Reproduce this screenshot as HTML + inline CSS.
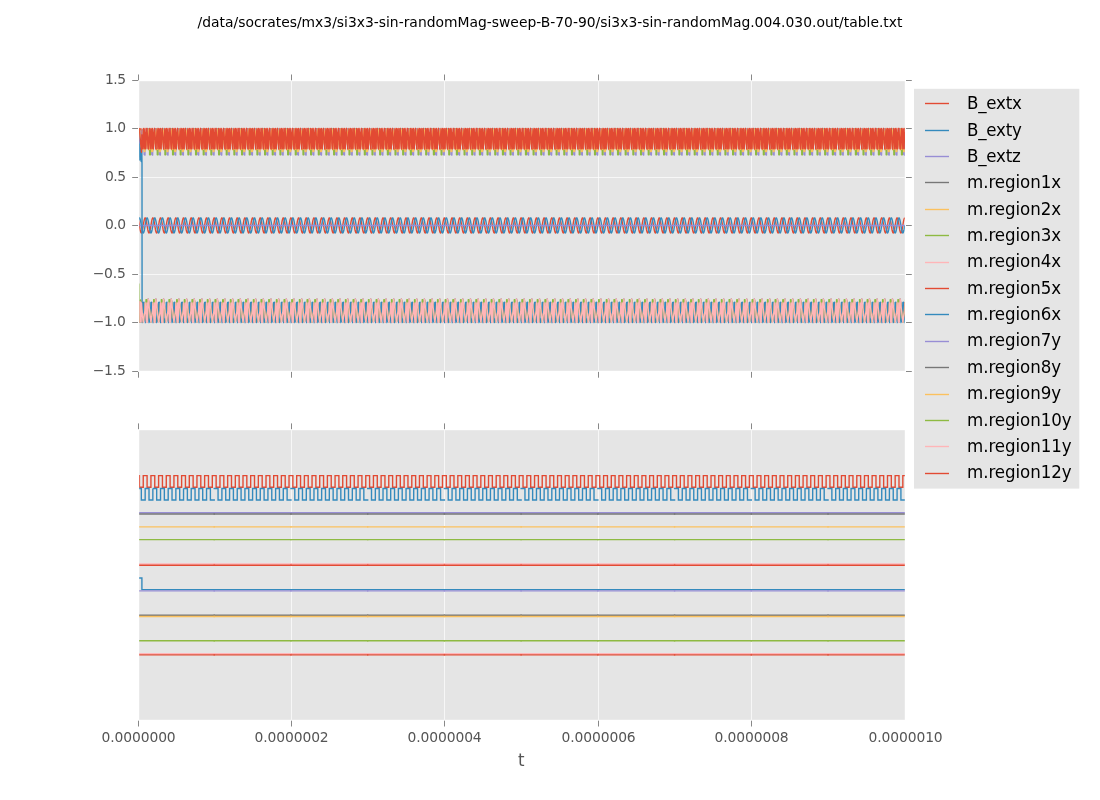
<!DOCTYPE html>
<html lang="en"><head><meta charset="utf-8"><title>table.txt plot</title>
<style>html,body{margin:0;padding:0;background:#fff;overflow:hidden}svg{display:block}</style></head>
<body>
<svg width="1100" height="800" viewBox="0 0 1100 800">
<defs><clipPath id="c1"><rect x="139.2" y="81.2" width="765.6" height="289.6"/></clipPath><clipPath id="c2"><rect x="139.2" y="430.2" width="765.6" height="289.6"/></clipPath></defs>
<rect width="1100" height="800" fill="#fff"/>
<rect x="139.2" y="81.2" width="765.6" height="289.6" fill="#E5E5E5"/>
<rect x="139.2" y="430.2" width="765.6" height="289.6" fill="#E5E5E5"/>
<path d="M291.5 81.2V370.8M291.5 430.2V719.8M444.5 81.2V370.8M444.5 430.2V719.8M598.5 81.2V370.8M598.5 430.2V719.8M751.5 81.2V370.8M751.5 430.2V719.8M139.2 128.5H904.8M139.2 177.5H904.8M139.2 225.5H904.8M139.2 274.5H904.8M139.2 322.5H904.8" stroke="#fff" stroke-width="0.7" fill="none"/>
<g clip-path="url(#c1)" fill="none" stroke-width="1.39" stroke-linejoin="round">
<path d="M137.5 217.89L137.82 218.15L138.14 218.9L138.46 220.11L138.78 221.67L139.1 223.5L139.42 225.46L139.74 227.41L140.06 229.24L140.38 230.8L140.7 232.01L141.02 232.76L141.34 233.02L141.66 232.76L141.98 232.01L142.3 230.8L142.62 229.24L142.93 227.41L143.25 225.46L143.57 223.5L143.89 221.67L144.21 220.11L144.53 218.9L144.85 218.15L145.17 217.89L145.49 218.15L145.81 218.9L146.13 220.11L146.45 221.67L146.77 223.5L147.09 225.46L147.41 227.41L147.73 229.24L148.05 230.8L148.37 232.01L148.69 232.76L149.01 233.02L149.33 232.76L149.65 232.01L149.97 230.8L150.29 229.24L150.61 227.41L150.93 225.46L151.25 223.5L151.57 221.67L151.89 220.11L152.21 218.9L152.53 218.15L152.84 217.89L153.16 218.15L153.48 218.9L153.8 220.11L154.12 221.67L154.44 223.5L154.76 225.46L155.08 227.41L155.4 229.24L155.72 230.8L156.04 232.01L156.36 232.76L156.68 233.02L157 232.76L157.32 232.01L157.64 230.8L157.96 229.24L158.28 227.41L158.6 225.46L158.92 223.5L159.24 221.67L159.56 220.11L159.88 218.9L160.2 218.15L160.52 217.89L160.84 218.15L161.16 218.9L161.48 220.11L161.8 221.67L162.12 223.5L162.44 225.45L162.76 227.41L163.07 229.24L163.39 230.8L163.71 232.01L164.03 232.76L164.35 233.02L164.67 232.76L164.99 232.01L165.31 230.8L165.63 229.24L165.95 227.41L166.27 225.46L166.59 223.5L166.91 221.67L167.23 220.11L167.55 218.9L167.87 218.15L168.19 217.89L168.51 218.15L168.83 218.9L169.15 220.11L169.47 221.67L169.79 223.5L170.11 225.45L170.43 227.41L170.75 229.24L171.07 230.8L171.39 232.01L171.71 232.76L172.03 233.02L172.35 232.76L172.67 232.01L172.99 230.8L173.31 229.24L173.62 227.41L173.94 225.46L174.26 223.5L174.58 221.67L174.9 220.11L175.22 218.9L175.54 218.15L175.86 217.89L176.18 218.15L176.5 218.9L176.82 220.11L177.14 221.67L177.46 223.5L177.78 225.46L178.1 227.41L178.42 229.24L178.74 230.8L179.06 232.01L179.38 232.76L179.7 233.02L180.02 232.76L180.34 232.01L180.66 230.8L180.98 229.24L181.3 227.41L181.62 225.46L181.94 223.5L182.26 221.67L182.58 220.11L182.9 218.9L183.22 218.15L183.53 217.89L183.85 218.15L184.17 218.9L184.49 220.11L184.81 221.67L185.13 223.5L185.45 225.46L185.77 227.41L186.09 229.24L186.41 230.8L186.73 232.01L187.05 232.76L187.37 233.02L187.69 232.76L188.01 232.01L188.33 230.8L188.65 229.24L188.97 227.41L189.29 225.46L189.61 223.5L189.93 221.67L190.25 220.11L190.57 218.9L190.89 218.15L191.21 217.89L191.53 218.15L191.85 218.9L192.17 220.11L192.49 221.67L192.81 223.5L193.13 225.45L193.45 227.41L193.76 229.24L194.08 230.8L194.4 232.01L194.72 232.76L195.04 233.02L195.36 232.76L195.68 232.01L196 230.8L196.32 229.24L196.64 227.41L196.96 225.46L197.28 223.5L197.6 221.67L197.92 220.11L198.24 218.9L198.56 218.15L198.88 217.89L199.2 218.15L199.52 218.9L199.84 220.11L200.16 221.67L200.48 223.5L200.8 225.46L201.12 227.41L201.44 229.24L201.76 230.8L202.08 232.01L202.4 232.76L202.72 233.02L203.04 232.76L203.36 232.01L203.68 230.8L204 229.24L204.31 227.41L204.63 225.45L204.95 223.5L205.27 221.67L205.59 220.11L205.91 218.9L206.23 218.15L206.55 217.89L206.87 218.15L207.19 218.9L207.51 220.11L207.83 221.67L208.15 223.5L208.47 225.46L208.79 227.41L209.11 229.24L209.43 230.8L209.75 232.01L210.07 232.76L210.39 233.02L210.71 232.76L211.03 232.01L211.35 230.8L211.67 229.24L211.99 227.41L212.31 225.46L212.63 223.5L212.95 221.67L213.27 220.11L213.59 218.9L213.91 218.15L214.22 217.89L214.54 218.15L214.86 218.9L215.18 220.11L215.5 221.67L215.82 223.5L216.14 225.45L216.46 227.41L216.78 229.24L217.1 230.8L217.42 232.01L217.74 232.76L218.06 233.02L218.38 232.76L218.7 232.01L219.02 230.8L219.34 229.24L219.66 227.41L219.98 225.46L220.3 223.5L220.62 221.67L220.94 220.11L221.26 218.9L221.58 218.15L221.9 217.89L222.22 218.15L222.54 218.9L222.86 220.11L223.18 221.67L223.5 223.5L223.82 225.46L224.14 227.41L224.45 229.24L224.77 230.8L225.09 232.01L225.41 232.76L225.73 233.02L226.05 232.76L226.37 232.01L226.69 230.8L227.01 229.24L227.33 227.41L227.65 225.46L227.97 223.5L228.29 221.67L228.61 220.11L228.93 218.9L229.25 218.15L229.57 217.89L229.89 218.15L230.21 218.9L230.53 220.11L230.85 221.67L231.17 223.5L231.49 225.46L231.81 227.41L232.13 229.24L232.45 230.8L232.77 232.01L233.09 232.76L233.41 233.02L233.73 232.76L234.05 232.01L234.37 230.8L234.69 229.24L235 227.41L235.32 225.46L235.64 223.5L235.96 221.67L236.28 220.11L236.6 218.9L236.92 218.15L237.24 217.89L237.56 218.15L237.88 218.9L238.2 220.11L238.52 221.67L238.84 223.5L239.16 225.45L239.48 227.41L239.8 229.24L240.12 230.8L240.44 232.01L240.76 232.76L241.08 233.02L241.4 232.76L241.72 232.01L242.04 230.8L242.36 229.24L242.68 227.41L243 225.46L243.32 223.5L243.64 221.67L243.96 220.11L244.28 218.9L244.6 218.15L244.92 217.89L245.23 218.15L245.55 218.9L245.87 220.11L246.19 221.67L246.51 223.5L246.83 225.45L247.15 227.41L247.47 229.24L247.79 230.8L248.11 232.01L248.43 232.76L248.75 233.02L249.07 232.76L249.39 232.01L249.71 230.8L250.03 229.24L250.35 227.41L250.67 225.45L250.99 223.5L251.31 221.67L251.63 220.11L251.95 218.9L252.27 218.15L252.59 217.89L252.91 218.15L253.23 218.9L253.55 220.11L253.87 221.67L254.19 223.5L254.51 225.45L254.83 227.41L255.14 229.24L255.46 230.8L255.78 232.01L256.1 232.76L256.42 233.02L256.74 232.76L257.06 232.01L257.38 230.8L257.7 229.24L258.02 227.41L258.34 225.45L258.66 223.5L258.98 221.67L259.3 220.11L259.62 218.9L259.94 218.15L260.26 217.89L260.58 218.15L260.9 218.9L261.22 220.11L261.54 221.67L261.86 223.5L262.18 225.45L262.5 227.41L262.82 229.24L263.14 230.8L263.46 232.01L263.78 232.76L264.1 233.02L264.42 232.76L264.74 232.01L265.06 230.8L265.38 229.24L265.69 227.41L266.01 225.46L266.33 223.5L266.65 221.67L266.97 220.11L267.29 218.9L267.61 218.15L267.93 217.89L268.25 218.15L268.57 218.9L268.89 220.11L269.21 221.67L269.53 223.5L269.85 225.45L270.17 227.41L270.49 229.24L270.81 230.8L271.13 232.01L271.45 232.76L271.77 233.02L272.09 232.76L272.41 232.01L272.73 230.8L273.05 229.24L273.37 227.41L273.69 225.46L274.01 223.5L274.33 221.67L274.65 220.11L274.97 218.9L275.29 218.15L275.61 217.89L275.92 218.15L276.24 218.9L276.56 220.11L276.88 221.67L277.2 223.5L277.52 225.46L277.84 227.41L278.16 229.24L278.48 230.8L278.8 232.01L279.12 232.76L279.44 233.02L279.76 232.76L280.08 232.01L280.4 230.8L280.72 229.24L281.04 227.41L281.36 225.46L281.68 223.5L282 221.67L282.32 220.11L282.64 218.9L282.96 218.15L283.28 217.89L283.6 218.15L283.92 218.9L284.24 220.11L284.56 221.67L284.88 223.5L285.2 225.45L285.52 227.41L285.84 229.24L286.15 230.8L286.47 232.01L286.79 232.76L287.11 233.02L287.43 232.76L287.75 232.01L288.07 230.8L288.39 229.24L288.71 227.41L289.03 225.46L289.35 223.5L289.67 221.67L289.99 220.11L290.31 218.9L290.63 218.15L290.95 217.89L291.27 218.15L291.59 218.9L291.91 220.11L292.23 221.67L292.55 223.5L292.87 225.46L293.19 227.41L293.51 229.24L293.83 230.8L294.15 232.01L294.47 232.76L294.79 233.02L295.11 232.76L295.43 232.01L295.75 230.8L296.06 229.24L296.38 227.41L296.7 225.46L297.02 223.5L297.34 221.67L297.66 220.11L297.98 218.9L298.3 218.15L298.62 217.89L298.94 218.15L299.26 218.9L299.58 220.11L299.9 221.67L300.22 223.5L300.54 225.45L300.86 227.41L301.18 229.24L301.5 230.8L301.82 232.01L302.14 232.76L302.46 233.02L302.78 232.76L303.1 232.01L303.42 230.8L303.74 229.24L304.06 227.41L304.38 225.46L304.7 223.5L305.02 221.67L305.34 220.11L305.66 218.9L305.98 218.15L306.29 217.89L306.61 218.15L306.93 218.9L307.25 220.11L307.57 221.67L307.89 223.5L308.21 225.46L308.53 227.41L308.85 229.24L309.17 230.8L309.49 232.01L309.81 232.76L310.13 233.02L310.45 232.76L310.77 232.01L311.09 230.8L311.41 229.24L311.73 227.41L312.05 225.46L312.37 223.5L312.69 221.67L313.01 220.11L313.33 218.9L313.65 218.15L313.97 217.89L314.29 218.15L314.61 218.9L314.93 220.11L315.25 221.67L315.57 223.5L315.89 225.45L316.21 227.41L316.52 229.24L316.84 230.8L317.16 232.01L317.48 232.76L317.8 233.02L318.12 232.76L318.44 232.01L318.76 230.8L319.08 229.24L319.4 227.41L319.72 225.46L320.04 223.5L320.36 221.67L320.68 220.11L321 218.9L321.32 218.15L321.64 217.89L321.96 218.15L322.28 218.9L322.6 220.11L322.92 221.67L323.24 223.5L323.56 225.45L323.88 227.41L324.2 229.24L324.52 230.8L324.84 232.01L325.16 232.76L325.48 233.02L325.8 232.76L326.12 232.01L326.44 230.8L326.75 229.24L327.07 227.41L327.39 225.45L327.71 223.5L328.03 221.67L328.35 220.11L328.67 218.9L328.99 218.15L329.31 217.89L329.63 218.15L329.95 218.9L330.27 220.11L330.59 221.67L330.91 223.5L331.23 225.45L331.55 227.41L331.87 229.24L332.19 230.8L332.51 232.01L332.83 232.76L333.15 233.02L333.47 232.76L333.79 232.01L334.11 230.8L334.43 229.24L334.75 227.41L335.07 225.46L335.39 223.5L335.71 221.67L336.03 220.11L336.35 218.9L336.67 218.15L336.99 217.89L337.3 218.15L337.62 218.9L337.94 220.11L338.26 221.67L338.58 223.5L338.9 225.46L339.22 227.41L339.54 229.24L339.86 230.8L340.18 232.01L340.5 232.76L340.82 233.02L341.14 232.76L341.46 232.01L341.78 230.8L342.1 229.24L342.42 227.41L342.74 225.46L343.06 223.5L343.38 221.67L343.7 220.11L344.02 218.9L344.34 218.15L344.66 217.89L344.98 218.15L345.3 218.9L345.62 220.11L345.94 221.67L346.26 223.5L346.58 225.46L346.9 227.41L347.22 229.24L347.53 230.8L347.85 232.01L348.17 232.76L348.49 233.02L348.81 232.76L349.13 232.01L349.45 230.8L349.77 229.24L350.09 227.41L350.41 225.46L350.73 223.5L351.05 221.67L351.37 220.11L351.69 218.9L352.01 218.15L352.33 217.89L352.65 218.15L352.97 218.9L353.29 220.11L353.61 221.67L353.93 223.5L354.25 225.45L354.57 227.41L354.89 229.24L355.21 230.8L355.53 232.01L355.85 232.76L356.17 233.02L356.49 232.76L356.81 232.01L357.13 230.8L357.44 229.24L357.76 227.41L358.08 225.45L358.4 223.5L358.72 221.67L359.04 220.11L359.36 218.9L359.68 218.15L360 217.89L360.32 218.15L360.64 218.9L360.96 220.11L361.28 221.67L361.6 223.5L361.92 225.45L362.24 227.41L362.56 229.24L362.88 230.8L363.2 232.01L363.52 232.76L363.84 233.02L364.16 232.76L364.48 232.01L364.8 230.8L365.12 229.24L365.44 227.41L365.76 225.46L366.08 223.5L366.4 221.67L366.72 220.11L367.04 218.9L367.36 218.15L367.68 217.89L367.99 218.15L368.31 218.9L368.63 220.11L368.95 221.67L369.27 223.5L369.59 225.46L369.91 227.41L370.23 229.24L370.55 230.8L370.87 232.01L371.19 232.76L371.51 233.02L371.83 232.76L372.15 232.01L372.47 230.8L372.79 229.24L373.11 227.41L373.43 225.46L373.75 223.5L374.07 221.67L374.39 220.11L374.71 218.9L375.03 218.15L375.35 217.89L375.67 218.15L375.99 218.9L376.31 220.11L376.63 221.67L376.95 223.5L377.27 225.45L377.59 227.41L377.9 229.24L378.22 230.8L378.54 232.01L378.86 232.76L379.18 233.02L379.5 232.76L379.82 232.01L380.14 230.8L380.46 229.24L380.78 227.41L381.1 225.46L381.42 223.5L381.74 221.67L382.06 220.11L382.38 218.9L382.7 218.15L383.02 217.89L383.34 218.15L383.66 218.9L383.98 220.11L384.3 221.67L384.62 223.5L384.94 225.46L385.26 227.41L385.58 229.24L385.9 230.8L386.22 232.01L386.54 232.76L386.86 233.02L387.18 232.76L387.5 232.01L387.82 230.8L388.13 229.24L388.45 227.41L388.77 225.45L389.09 223.5L389.41 221.67L389.73 220.11L390.05 218.9L390.37 218.15L390.69 217.89L391.01 218.15L391.33 218.9L391.65 220.11L391.97 221.67L392.29 223.5L392.61 225.45L392.93 227.41L393.25 229.24L393.57 230.8L393.89 232.01L394.21 232.76L394.53 233.02L394.85 232.76L395.17 232.01L395.49 230.8L395.81 229.24L396.13 227.41L396.45 225.46L396.77 223.5L397.09 221.67L397.41 220.11L397.73 218.9L398.05 218.15L398.37 217.89L398.68 218.15L399 218.9L399.32 220.11L399.64 221.67L399.96 223.5L400.28 225.46L400.6 227.41L400.92 229.24L401.24 230.8L401.56 232.01L401.88 232.76L402.2 233.02L402.52 232.76L402.84 232.01L403.16 230.8L403.48 229.24L403.8 227.41L404.12 225.46L404.44 223.5L404.76 221.67L405.08 220.11L405.4 218.9L405.72 218.15L406.04 217.89L406.36 218.15L406.68 218.9L407 220.11L407.32 221.67L407.64 223.5L407.96 225.45L408.28 227.41L408.6 229.24L408.91 230.8L409.23 232.01L409.55 232.76L409.87 233.02L410.19 232.76L410.51 232.01L410.83 230.8L411.15 229.24L411.47 227.41L411.79 225.46L412.11 223.5L412.43 221.67L412.75 220.11L413.07 218.9L413.39 218.15L413.71 217.89L414.03 218.15L414.35 218.9L414.67 220.11L414.99 221.67L415.31 223.5L415.63 225.45L415.95 227.41L416.27 229.24L416.59 230.8L416.91 232.01L417.23 232.76L417.55 233.02L417.87 232.76L418.19 232.01L418.51 230.8L418.82 229.24L419.14 227.41L419.46 225.46L419.78 223.5L420.1 221.67L420.42 220.11L420.74 218.9L421.06 218.15L421.38 217.89L421.7 218.15L422.02 218.9L422.34 220.11L422.66 221.67L422.98 223.5L423.3 225.45L423.62 227.41L423.94 229.24L424.26 230.8L424.58 232.01L424.9 232.76L425.22 233.02L425.54 232.76L425.86 232.01L426.18 230.8L426.5 229.24L426.82 227.41L427.14 225.45L427.46 223.5L427.78 221.67L428.1 220.11L428.42 218.9L428.74 218.15L429.06 217.89L429.37 218.15L429.69 218.9L430.01 220.11L430.33 221.67L430.65 223.5L430.97 225.46L431.29 227.41L431.61 229.24L431.93 230.8L432.25 232.01L432.57 232.76L432.89 233.02L433.21 232.76L433.53 232.01L433.85 230.8L434.17 229.24L434.49 227.41L434.81 225.46L435.13 223.5L435.45 221.67L435.77 220.11L436.09 218.9L436.41 218.15L436.73 217.89L437.05 218.15L437.37 218.9L437.69 220.11L438.01 221.67L438.33 223.5L438.65 225.46L438.97 227.41L439.29 229.24L439.6 230.8L439.92 232.01L440.24 232.76L440.56 233.02L440.88 232.76L441.2 232.01L441.52 230.8L441.84 229.24L442.16 227.41L442.48 225.46L442.8 223.5L443.12 221.67L443.44 220.11L443.76 218.9L444.08 218.15L444.4 217.89L444.72 218.15L445.04 218.9L445.36 220.11L445.68 221.67L446 223.5L446.32 225.45L446.64 227.41L446.96 229.24L447.28 230.8L447.6 232.01L447.92 232.76L448.24 233.02L448.56 232.76L448.88 232.01L449.2 230.8L449.51 229.24L449.83 227.41L450.15 225.46L450.47 223.5L450.79 221.67L451.11 220.11L451.43 218.9L451.75 218.15L452.07 217.89L452.39 218.15L452.71 218.9L453.03 220.11L453.35 221.67L453.67 223.5L453.99 225.46L454.31 227.41L454.63 229.24L454.95 230.8L455.27 232.01L455.59 232.76L455.91 233.02L456.23 232.76L456.55 232.01L456.87 230.8L457.19 229.24L457.51 227.41L457.83 225.45L458.15 223.5L458.47 221.67L458.79 220.11L459.11 218.9L459.43 218.15L459.75 217.89L460.06 218.15L460.38 218.9L460.7 220.11L461.02 221.67L461.34 223.5L461.66 225.45L461.98 227.41L462.3 229.24L462.62 230.8L462.94 232.01L463.26 232.76L463.58 233.02L463.9 232.76L464.22 232.01L464.54 230.8L464.86 229.24L465.18 227.41L465.5 225.46L465.82 223.5L466.14 221.67L466.46 220.11L466.78 218.9L467.1 218.15L467.42 217.89L467.74 218.15L468.06 218.9L468.38 220.11L468.7 221.67L469.02 223.5L469.34 225.45L469.66 227.41L469.98 229.24L470.29 230.8L470.61 232.01L470.93 232.76L471.25 233.02L471.57 232.76L471.89 232.01L472.21 230.8L472.53 229.24L472.85 227.41L473.17 225.46L473.49 223.5L473.81 221.67L474.13 220.11L474.45 218.9L474.77 218.15L475.09 217.89L475.41 218.15L475.73 218.9L476.05 220.11L476.37 221.67L476.69 223.5L477.01 225.45L477.33 227.41L477.65 229.24L477.97 230.8L478.29 232.01L478.61 232.76L478.93 233.02L479.25 232.76L479.57 232.01L479.89 230.8L480.2 229.24L480.52 227.41L480.84 225.45L481.16 223.5L481.48 221.67L481.8 220.11L482.12 218.9L482.44 218.15L482.76 217.89L483.08 218.15L483.4 218.9L483.72 220.11L484.04 221.67L484.36 223.5L484.68 225.45L485 227.41L485.32 229.24L485.64 230.8L485.96 232.01L486.28 232.76L486.6 233.02L486.92 232.76L487.24 232.01L487.56 230.8L487.88 229.24L488.2 227.41L488.52 225.46L488.84 223.5L489.16 221.67L489.48 220.11L489.8 218.9L490.12 218.15L490.44 217.89L490.75 218.15L491.07 218.9L491.39 220.11L491.71 221.67L492.03 223.5L492.35 225.46L492.67 227.41L492.99 229.24L493.31 230.8L493.63 232.01L493.95 232.76L494.27 233.02L494.59 232.76L494.91 232.01L495.23 230.8L495.55 229.24L495.87 227.41L496.19 225.45L496.51 223.5L496.83 221.67L497.15 220.11L497.47 218.9L497.79 218.15L498.11 217.89L498.43 218.15L498.75 218.9L499.07 220.11L499.39 221.67L499.71 223.5L500.03 225.46L500.35 227.41L500.67 229.24L500.98 230.8L501.3 232.01L501.62 232.76L501.94 233.02L502.26 232.76L502.58 232.01L502.9 230.8L503.22 229.24L503.54 227.41L503.86 225.46L504.18 223.5L504.5 221.67L504.82 220.11L505.14 218.9L505.46 218.15L505.78 217.89L506.1 218.15L506.42 218.9L506.74 220.11L507.06 221.67L507.38 223.5L507.7 225.45L508.02 227.41L508.34 229.24L508.66 230.8L508.98 232.01L509.3 232.76L509.62 233.02L509.94 232.76L510.26 232.01L510.58 230.8L510.89 229.24L511.21 227.41L511.53 225.46L511.85 223.5L512.17 221.67L512.49 220.11L512.81 218.9L513.13 218.15L513.45 217.89L513.77 218.15L514.09 218.9L514.41 220.11L514.73 221.67L515.05 223.5L515.37 225.45L515.69 227.41L516.01 229.24L516.33 230.8L516.65 232.01L516.97 232.76L517.29 233.02L517.61 232.76L517.93 232.01L518.25 230.8L518.57 229.24L518.89 227.41L519.21 225.46L519.53 223.5L519.85 221.67L520.17 220.11L520.49 218.9L520.81 218.15L521.12 217.89L521.44 218.15L521.76 218.9L522.08 220.11L522.4 221.67L522.72 223.5L523.04 225.45L523.36 227.41L523.68 229.24L524 230.8L524.32 232.01L524.64 232.76L524.96 233.02L525.28 232.76L525.6 232.01L525.92 230.8L526.24 229.24L526.56 227.41L526.88 225.46L527.2 223.5L527.52 221.67L527.84 220.11L528.16 218.9L528.48 218.15L528.8 217.89L529.12 218.15L529.44 218.9L529.76 220.11L530.08 221.67L530.4 223.5L530.72 225.45L531.04 227.41L531.36 229.24L531.67 230.8L531.99 232.01L532.31 232.76L532.63 233.02L532.95 232.76L533.27 232.01L533.59 230.8L533.91 229.24L534.23 227.41L534.55 225.45L534.87 223.5L535.19 221.67L535.51 220.11L535.83 218.9L536.15 218.15L536.47 217.89L536.79 218.15L537.11 218.9L537.43 220.11L537.75 221.67L538.07 223.5L538.39 225.46L538.71 227.41L539.03 229.24L539.35 230.8L539.67 232.01L539.99 232.76L540.31 233.02L540.63 232.76L540.95 232.01L541.27 230.8L541.59 229.24L541.9 227.41L542.22 225.46L542.54 223.5L542.86 221.67L543.18 220.11L543.5 218.9L543.82 218.15L544.14 217.89L544.46 218.15L544.78 218.9L545.1 220.11L545.42 221.67L545.74 223.5L546.06 225.45L546.38 227.41L546.7 229.24L547.02 230.8L547.34 232.01L547.66 232.76L547.98 233.02L548.3 232.76L548.62 232.01L548.94 230.8L549.26 229.24L549.58 227.41L549.9 225.46L550.22 223.5L550.54 221.67L550.86 220.11L551.18 218.9L551.5 218.15L551.82 217.89L552.13 218.15L552.45 218.9L552.77 220.11L553.09 221.67L553.41 223.5L553.73 225.45L554.05 227.41L554.37 229.24L554.69 230.8L555.01 232.01L555.33 232.76L555.65 233.02L555.97 232.76L556.29 232.01L556.61 230.8L556.93 229.24L557.25 227.41L557.57 225.45L557.89 223.5L558.21 221.67L558.53 220.11L558.85 218.9L559.17 218.15L559.49 217.89L559.81 218.15L560.13 218.9L560.45 220.11L560.77 221.67L561.09 223.5L561.41 225.45L561.73 227.41L562.05 229.24L562.36 230.8L562.68 232.01L563 232.76L563.32 233.02L563.64 232.76L563.96 232.01L564.28 230.8L564.6 229.24L564.92 227.41L565.24 225.46L565.56 223.5L565.88 221.67L566.2 220.11L566.52 218.9L566.84 218.15L567.16 217.89L567.48 218.15L567.8 218.9L568.12 220.11L568.44 221.67L568.76 223.5L569.08 225.46L569.4 227.41L569.72 229.24L570.04 230.8L570.36 232.01L570.68 232.76L571 233.02L571.32 232.76L571.64 232.01L571.96 230.8L572.27 229.24L572.59 227.41L572.91 225.46L573.23 223.5L573.55 221.67L573.87 220.11L574.19 218.9L574.51 218.15L574.83 217.89L575.15 218.15L575.47 218.9L575.79 220.11L576.11 221.67L576.43 223.5L576.75 225.46L577.07 227.41L577.39 229.24L577.71 230.8L578.03 232.01L578.35 232.76L578.67 233.02L578.99 232.76L579.31 232.01L579.63 230.8L579.95 229.24L580.27 227.41L580.59 225.46L580.91 223.5L581.23 221.67L581.55 220.11L581.87 218.9L582.19 218.15L582.5 217.89L582.82 218.15L583.14 218.9L583.46 220.11L583.78 221.67L584.1 223.5L584.42 225.45L584.74 227.41L585.06 229.24L585.38 230.8L585.7 232.01L586.02 232.76L586.34 233.02L586.66 232.76L586.98 232.01L587.3 230.8L587.62 229.24L587.94 227.41L588.26 225.46L588.58 223.5L588.9 221.67L589.22 220.11L589.54 218.9L589.86 218.15L590.18 217.89L590.5 218.15L590.82 218.9L591.14 220.11L591.46 221.67L591.78 223.5L592.1 225.45L592.42 227.41L592.74 229.24L593.05 230.8L593.37 232.01L593.69 232.76L594.01 233.02L594.33 232.76L594.65 232.01L594.97 230.8L595.29 229.24L595.61 227.41L595.93 225.46L596.25 223.5L596.57 221.67L596.89 220.11L597.21 218.9L597.53 218.15L597.85 217.89L598.17 218.15L598.49 218.9L598.81 220.11L599.13 221.67L599.45 223.5L599.77 225.46L600.09 227.41L600.41 229.24L600.73 230.8L601.05 232.01L601.37 232.76L601.69 233.02L602.01 232.76L602.33 232.01L602.65 230.8L602.96 229.24L603.28 227.41L603.6 225.46L603.92 223.5L604.24 221.67L604.56 220.11L604.88 218.9L605.2 218.15L605.52 217.89L605.84 218.15L606.16 218.9L606.48 220.11L606.8 221.67L607.12 223.5L607.44 225.45L607.76 227.41L608.08 229.24L608.4 230.8L608.72 232.01L609.04 232.76L609.36 233.02L609.68 232.76L610 232.01L610.32 230.8L610.64 229.24L610.96 227.41L611.28 225.45L611.6 223.5L611.92 221.67L612.24 220.11L612.56 218.9L612.88 218.15L613.19 217.89L613.51 218.15L613.83 218.9L614.15 220.11L614.47 221.67L614.79 223.5L615.11 225.45L615.43 227.41L615.75 229.24L616.07 230.8L616.39 232.01L616.71 232.76L617.03 233.02L617.35 232.76L617.67 232.01L617.99 230.8L618.31 229.24L618.63 227.41L618.95 225.45L619.27 223.5L619.59 221.67L619.91 220.11L620.23 218.9L620.55 218.15L620.87 217.89L621.19 218.15L621.51 218.9L621.83 220.11L622.15 221.67L622.47 223.5L622.79 225.46L623.11 227.41L623.42 229.24L623.74 230.8L624.06 232.01L624.38 232.76L624.7 233.02L625.02 232.76L625.34 232.01L625.66 230.8L625.98 229.24L626.3 227.41L626.62 225.46L626.94 223.5L627.26 221.67L627.58 220.11L627.9 218.9L628.22 218.15L628.54 217.89L628.86 218.15L629.18 218.9L629.5 220.11L629.82 221.67L630.14 223.5L630.46 225.45L630.78 227.41L631.1 229.24L631.42 230.8L631.74 232.01L632.06 232.76L632.38 233.02L632.7 232.76L633.02 232.01L633.34 230.8L633.65 229.24L633.97 227.41L634.29 225.46L634.61 223.5L634.93 221.67L635.25 220.11L635.57 218.9L635.89 218.15L636.21 217.89L636.53 218.15L636.85 218.9L637.17 220.11L637.49 221.67L637.81 223.5L638.13 225.45L638.45 227.41L638.77 229.24L639.09 230.8L639.41 232.01L639.73 232.76L640.05 233.02L640.37 232.76L640.69 232.01L641.01 230.8L641.33 229.24L641.65 227.41L641.97 225.45L642.29 223.5L642.61 221.67L642.93 220.11L643.25 218.9L643.57 218.15L643.88 217.89L644.2 218.15L644.52 218.9L644.84 220.11L645.16 221.67L645.48 223.5L645.8 225.45L646.12 227.41L646.44 229.24L646.76 230.8L647.08 232.01L647.4 232.76L647.72 233.02L648.04 232.76L648.36 232.01L648.68 230.8L649 229.24L649.32 227.41L649.64 225.46L649.96 223.5L650.28 221.67L650.6 220.11L650.92 218.9L651.24 218.15L651.56 217.89L651.88 218.15L652.2 218.9L652.52 220.11L652.84 221.67L653.16 223.5L653.48 225.46L653.8 227.41L654.12 229.24L654.43 230.8L654.75 232.01L655.07 232.76L655.39 233.02L655.71 232.76L656.03 232.01L656.35 230.8L656.67 229.24L656.99 227.41L657.31 225.46L657.63 223.5L657.95 221.67L658.27 220.11L658.59 218.9L658.91 218.15L659.23 217.89L659.55 218.15L659.87 218.9L660.19 220.11L660.51 221.67L660.83 223.5L661.15 225.46L661.47 227.41L661.79 229.24L662.11 230.8L662.43 232.01L662.75 232.76L663.07 233.02L663.39 232.76L663.71 232.01L664.03 230.8L664.35 229.24L664.66 227.41L664.98 225.46L665.3 223.5L665.62 221.67L665.94 220.11L666.26 218.9L666.58 218.15L666.9 217.89L667.22 218.15L667.54 218.9L667.86 220.11L668.18 221.67L668.5 223.5L668.82 225.45L669.14 227.41L669.46 229.24L669.78 230.8L670.1 232.01L670.42 232.76L670.74 233.02L671.06 232.76L671.38 232.01L671.7 230.8L672.02 229.24L672.34 227.41L672.66 225.46L672.98 223.5L673.3 221.67L673.62 220.11L673.94 218.9L674.26 218.15L674.58 217.89L674.89 218.15L675.21 218.9L675.53 220.11L675.85 221.67L676.17 223.5L676.49 225.46L676.81 227.41L677.13 229.24L677.45 230.8L677.77 232.01L678.09 232.76L678.41 233.02L678.73 232.76L679.05 232.01L679.37 230.8L679.69 229.24L680.01 227.41L680.33 225.46L680.65 223.5L680.97 221.67L681.29 220.11L681.61 218.9L681.93 218.15L682.25 217.89L682.57 218.15L682.89 218.9L683.21 220.11L683.53 221.67L683.85 223.5L684.17 225.45L684.49 227.41L684.8 229.24L685.12 230.8L685.44 232.01L685.76 232.76L686.08 233.02L686.4 232.76L686.72 232.01L687.04 230.8L687.36 229.24L687.68 227.41L688 225.46L688.32 223.5L688.64 221.67L688.96 220.11L689.28 218.9L689.6 218.15L689.92 217.89L690.24 218.15L690.56 218.9L690.88 220.11L691.2 221.67L691.52 223.5L691.84 225.45L692.16 227.41L692.48 229.24L692.8 230.8L693.12 232.01L693.44 232.76L693.76 233.02L694.08 232.76L694.4 232.01L694.72 230.8L695.03 229.24L695.35 227.41L695.67 225.45L695.99 223.5L696.31 221.67L696.63 220.11L696.95 218.9L697.27 218.15L697.59 217.89L697.91 218.15L698.23 218.9L698.55 220.11L698.87 221.67L699.19 223.5L699.51 225.45L699.83 227.41L700.15 229.24L700.47 230.8L700.79 232.01L701.11 232.76L701.43 233.02L701.75 232.76L702.07 232.01L702.39 230.8L702.71 229.24L703.03 227.41L703.35 225.45L703.67 223.5L703.99 221.67L704.31 220.11L704.63 218.9L704.95 218.15L705.26 217.89L705.58 218.15L705.9 218.9L706.22 220.11L706.54 221.67L706.86 223.5L707.18 225.45L707.5 227.41L707.82 229.24L708.14 230.8L708.46 232.01L708.78 232.76L709.1 233.02L709.42 232.76L709.74 232.01L710.06 230.8L710.38 229.24L710.7 227.41L711.02 225.46L711.34 223.5L711.66 221.67L711.98 220.11L712.3 218.9L712.62 218.15L712.94 217.89L713.26 218.15L713.58 218.9L713.9 220.11L714.22 221.67L714.54 223.5L714.86 225.45L715.18 227.41L715.5 229.24L715.81 230.8L716.13 232.01L716.45 232.76L716.77 233.02L717.09 232.76L717.41 232.01L717.73 230.8L718.05 229.24L718.37 227.41L718.69 225.45L719.01 223.5L719.33 221.67L719.65 220.11L719.97 218.9L720.29 218.15L720.61 217.89L720.93 218.15L721.25 218.9L721.57 220.11L721.89 221.67L722.21 223.5L722.53 225.45L722.85 227.41L723.17 229.24L723.49 230.8L723.81 232.01L724.13 232.76L724.45 233.02L724.77 232.76L725.09 232.01L725.41 230.8L725.73 229.24L726.04 227.41L726.36 225.46L726.68 223.5L727 221.67L727.32 220.11L727.64 218.9L727.96 218.15L728.28 217.89L728.6 218.15L728.92 218.9L729.24 220.11L729.56 221.67L729.88 223.5L730.2 225.45L730.52 227.41L730.84 229.24L731.16 230.8L731.48 232.01L731.8 232.76L732.12 233.02L732.44 232.76L732.76 232.01L733.08 230.8L733.4 229.24L733.72 227.41L734.04 225.46L734.36 223.5L734.68 221.67L735 220.11L735.32 218.9L735.64 218.15L735.96 217.89L736.27 218.15L736.59 218.9L736.91 220.11L737.23 221.67L737.55 223.5L737.87 225.46L738.19 227.41L738.51 229.24L738.83 230.8L739.15 232.01L739.47 232.76L739.79 233.02L740.11 232.76L740.43 232.01L740.75 230.8L741.07 229.24L741.39 227.41L741.71 225.46L742.03 223.5L742.35 221.67L742.67 220.11L742.99 218.9L743.31 218.15L743.63 217.89L743.95 218.15L744.27 218.9L744.59 220.11L744.91 221.67L745.23 223.5L745.55 225.45L745.87 227.41L746.18 229.24L746.5 230.8L746.82 232.01L747.14 232.76L747.46 233.02L747.78 232.76L748.1 232.01L748.42 230.8L748.74 229.24L749.06 227.41L749.38 225.46L749.7 223.5L750.02 221.67L750.34 220.11L750.66 218.9L750.98 218.15L751.3 217.89L751.62 218.15L751.94 218.9L752.26 220.11L752.58 221.67L752.9 223.5L753.22 225.45L753.54 227.41L753.86 229.24L754.18 230.8L754.5 232.01L754.82 232.76L755.14 233.02L755.46 232.76L755.78 232.01L756.1 230.8L756.41 229.24L756.73 227.41L757.05 225.46L757.37 223.5L757.69 221.67L758.01 220.11L758.33 218.9L758.65 218.15L758.97 217.89L759.29 218.15L759.61 218.9L759.93 220.11L760.25 221.67L760.57 223.5L760.89 225.46L761.21 227.41L761.53 229.24L761.85 230.8L762.17 232.01L762.49 232.76L762.81 233.02L763.13 232.76L763.45 232.01L763.77 230.8L764.09 229.24L764.41 227.41L764.73 225.46L765.05 223.5L765.37 221.67L765.69 220.11L766.01 218.9L766.33 218.15L766.64 217.89L766.96 218.15L767.28 218.9L767.6 220.11L767.92 221.67L768.24 223.5L768.56 225.45L768.88 227.41L769.2 229.24L769.52 230.8L769.84 232.01L770.16 232.76L770.48 233.02L770.8 232.76L771.12 232.01L771.44 230.8L771.76 229.24L772.08 227.41L772.4 225.46L772.72 223.5L773.04 221.67L773.36 220.11L773.68 218.9L774 218.15L774.32 217.89L774.64 218.15L774.96 218.9L775.28 220.11L775.6 221.67L775.92 223.5L776.24 225.45L776.56 227.41L776.88 229.24L777.19 230.8L777.51 232.01L777.83 232.76L778.15 233.02L778.47 232.76L778.79 232.01L779.11 230.8L779.43 229.24L779.75 227.41L780.07 225.46L780.39 223.5L780.71 221.67L781.03 220.11L781.35 218.9L781.67 218.15L781.99 217.89L782.31 218.15L782.63 218.9L782.95 220.11L783.27 221.67L783.59 223.5L783.91 225.45L784.23 227.41L784.55 229.24L784.87 230.8L785.19 232.01L785.51 232.76L785.83 233.02L786.15 232.76L786.47 232.01L786.79 230.8L787.11 229.24L787.42 227.41L787.74 225.46L788.06 223.5L788.38 221.67L788.7 220.11L789.02 218.9L789.34 218.15L789.66 217.89L789.98 218.15L790.3 218.9L790.62 220.11L790.94 221.67L791.26 223.5L791.58 225.46L791.9 227.41L792.22 229.24L792.54 230.8L792.86 232.01L793.18 232.76L793.5 233.02L793.82 232.76L794.14 232.01L794.46 230.8L794.78 229.24L795.1 227.41L795.42 225.46L795.74 223.5L796.06 221.67L796.38 220.11L796.7 218.9L797.02 218.15L797.34 217.89L797.65 218.15L797.97 218.9L798.29 220.11L798.61 221.67L798.93 223.5L799.25 225.46L799.57 227.41L799.89 229.24L800.21 230.8L800.53 232.01L800.85 232.76L801.17 233.02L801.49 232.76L801.81 232.01L802.13 230.8L802.45 229.24L802.77 227.41L803.09 225.45L803.41 223.5L803.73 221.67L804.05 220.11L804.37 218.9L804.69 218.15L805.01 217.89L805.33 218.15L805.65 218.9L805.97 220.11L806.29 221.67L806.61 223.5L806.93 225.45L807.25 227.41L807.57 229.24L807.88 230.8L808.2 232.01L808.52 232.76L808.84 233.02L809.16 232.76L809.48 232.01L809.8 230.8L810.12 229.24L810.44 227.41L810.76 225.46L811.08 223.5L811.4 221.67L811.72 220.11L812.04 218.9L812.36 218.15L812.68 217.89L813 218.15L813.32 218.9L813.64 220.11L813.96 221.67L814.28 223.5L814.6 225.45L814.92 227.41L815.24 229.24L815.56 230.8L815.88 232.01L816.2 232.76L816.52 233.02L816.84 232.76L817.16 232.01L817.48 230.8L817.79 229.24L818.11 227.41L818.43 225.46L818.75 223.5L819.07 221.67L819.39 220.11L819.71 218.9L820.03 218.15L820.35 217.89L820.67 218.15L820.99 218.9L821.31 220.11L821.63 221.67L821.95 223.5L822.27 225.45L822.59 227.41L822.91 229.24L823.23 230.8L823.55 232.01L823.87 232.76L824.19 233.02L824.51 232.76L824.83 232.01L825.15 230.8L825.47 229.24L825.79 227.41L826.11 225.46L826.43 223.5L826.75 221.67L827.07 220.11L827.39 218.9L827.71 218.15L828.02 217.89L828.34 218.15L828.66 218.9L828.98 220.11L829.3 221.67L829.62 223.5L829.94 225.45L830.26 227.41L830.58 229.24L830.9 230.8L831.22 232.01L831.54 232.76L831.86 233.02L832.18 232.76L832.5 232.01L832.82 230.8L833.14 229.24L833.46 227.41L833.78 225.45L834.1 223.5L834.42 221.67L834.74 220.11L835.06 218.9L835.38 218.15L835.7 217.89L836.02 218.15L836.34 218.9L836.66 220.11L836.98 221.67L837.3 223.5L837.62 225.45L837.94 227.41L838.25 229.24L838.57 230.8L838.89 232.01L839.21 232.76L839.53 233.02L839.85 232.76L840.17 232.01L840.49 230.8L840.81 229.24L841.13 227.41L841.45 225.45L841.77 223.5L842.09 221.67L842.41 220.11L842.73 218.9L843.05 218.15L843.37 217.89L843.69 218.15L844.01 218.9L844.33 220.11L844.65 221.67L844.97 223.5L845.29 225.46L845.61 227.41L845.93 229.24L846.25 230.8L846.57 232.01L846.89 232.76L847.21 233.02L847.53 232.76L847.85 232.01L848.17 230.8L848.49 229.24L848.8 227.41L849.12 225.46L849.44 223.5L849.76 221.67L850.08 220.11L850.4 218.9L850.72 218.15L851.04 217.89L851.36 218.15L851.68 218.9L852 220.11L852.32 221.67L852.64 223.5L852.96 225.45L853.28 227.41L853.6 229.24L853.92 230.8L854.24 232.01L854.56 232.76L854.88 233.02L855.2 232.76L855.52 232.01L855.84 230.8L856.16 229.24L856.48 227.41L856.8 225.46L857.12 223.5L857.44 221.67L857.76 220.11L858.08 218.9L858.4 218.15L858.72 217.89L859.03 218.15L859.35 218.9L859.67 220.11L859.99 221.67L860.31 223.5L860.63 225.45L860.95 227.41L861.27 229.24L861.59 230.8L861.91 232.01L862.23 232.76L862.55 233.02L862.87 232.76L863.19 232.01L863.51 230.8L863.83 229.24L864.15 227.41L864.47 225.46L864.79 223.5L865.11 221.67L865.43 220.11L865.75 218.9L866.07 218.15L866.39 217.89L866.71 218.15L867.03 218.9L867.35 220.11L867.67 221.67L867.99 223.5L868.31 225.46L868.63 227.41L868.95 229.24L869.26 230.8L869.58 232.01L869.9 232.76L870.22 233.02L870.54 232.76L870.86 232.01L871.18 230.8L871.5 229.24L871.82 227.41L872.14 225.46L872.46 223.5L872.78 221.67L873.1 220.11L873.42 218.9L873.74 218.15L874.06 217.89L874.38 218.15L874.7 218.9L875.02 220.11L875.34 221.67L875.66 223.5L875.98 225.46L876.3 227.41L876.62 229.24L876.94 230.8L877.26 232.01L877.58 232.76L877.9 233.02L878.22 232.76L878.54 232.01L878.86 230.8L879.17 229.24L879.49 227.41L879.81 225.46L880.13 223.5L880.45 221.67L880.77 220.11L881.09 218.9L881.41 218.15L881.73 217.89L882.05 218.15L882.37 218.9L882.69 220.11L883.01 221.67L883.33 223.5L883.65 225.46L883.97 227.41L884.29 229.24L884.61 230.8L884.93 232.01L885.25 232.76L885.57 233.02L885.89 232.76L886.21 232.01L886.53 230.8L886.85 229.24L887.17 227.41L887.49 225.46L887.81 223.5L888.13 221.67L888.45 220.11L888.77 218.9L889.09 218.15L889.4 217.89L889.72 218.15L890.04 218.9L890.36 220.11L890.68 221.67L891 223.5L891.32 225.45L891.64 227.41L891.96 229.24L892.28 230.8L892.6 232.01L892.92 232.76L893.24 233.02L893.56 232.76L893.88 232.01L894.2 230.8L894.52 229.24L894.84 227.41L895.16 225.46L895.48 223.5L895.8 221.67L896.12 220.11L896.44 218.9L896.76 218.15L897.08 217.89L897.4 218.15L897.72 218.9L898.04 220.11L898.36 221.67L898.68 223.5L899 225.45L899.32 227.41L899.63 229.24L899.95 230.8L900.27 232.01L900.59 232.76L900.91 233.02L901.23 232.76L901.55 232.01L901.87 230.8L902.19 229.24L902.51 227.41L902.83 225.46L903.15 223.5L903.47 221.67L903.79 220.11L904.11 218.9L904.43 218.15L904.75 217.89" stroke="#E24A33"/>
<path d="M137.5 225.46L137.82 223.5L138.14 221.67L138.46 220.11L138.78 218.9L139.1 218.15L139.42 217.89L139.74 218.15L140.06 218.9L140.38 220.11L140.7 221.67L141.02 223.5L141.34 225.46L141.66 227.41L141.98 229.24L142.3 230.8L142.62 232.01L142.93 232.76L143.25 233.02L143.57 232.76L143.89 232.01L144.21 230.8L144.53 229.24L144.85 227.41L145.17 225.46L145.49 223.5L145.81 221.67L146.13 220.11L146.45 218.9L146.77 218.15L147.09 217.89L147.41 218.15L147.73 218.9L148.05 220.11L148.37 221.67L148.69 223.5L149.01 225.46L149.33 227.41L149.65 229.24L149.97 230.8L150.29 232.01L150.61 232.76L150.93 233.02L151.25 232.76L151.57 232.01L151.89 230.8L152.21 229.24L152.53 227.41L152.84 225.46L153.16 223.5L153.48 221.67L153.8 220.11L154.12 218.9L154.44 218.15L154.76 217.89L155.08 218.15L155.4 218.9L155.72 220.11L156.04 221.67L156.36 223.5L156.68 225.45L157 227.41L157.32 229.24L157.64 230.8L157.96 232.01L158.28 232.76L158.6 233.02L158.92 232.76L159.24 232.01L159.56 230.8L159.88 229.24L160.2 227.41L160.52 225.46L160.84 223.5L161.16 221.67L161.48 220.11L161.8 218.9L162.12 218.15L162.44 217.89L162.76 218.15L163.07 218.9L163.39 220.11L163.71 221.67L164.03 223.5L164.35 225.46L164.67 227.41L164.99 229.24L165.31 230.8L165.63 232.01L165.95 232.76L166.27 233.02L166.59 232.76L166.91 232.01L167.23 230.8L167.55 229.24L167.87 227.41L168.19 225.46L168.51 223.5L168.83 221.67L169.15 220.11L169.47 218.9L169.79 218.15L170.11 217.89L170.43 218.15L170.75 218.9L171.07 220.11L171.39 221.67L171.71 223.5L172.03 225.46L172.35 227.41L172.67 229.24L172.99 230.8L173.31 232.01L173.62 232.76L173.94 233.02L174.26 232.76L174.58 232.01L174.9 230.8L175.22 229.24L175.54 227.41L175.86 225.46L176.18 223.5L176.5 221.67L176.82 220.11L177.14 218.9L177.46 218.15L177.78 217.89L178.1 218.15L178.42 218.9L178.74 220.11L179.06 221.67L179.38 223.5L179.7 225.46L180.02 227.41L180.34 229.24L180.66 230.8L180.98 232.01L181.3 232.76L181.62 233.02L181.94 232.76L182.26 232.01L182.58 230.8L182.9 229.24L183.22 227.41L183.53 225.46L183.85 223.5L184.17 221.67L184.49 220.11L184.81 218.9L185.13 218.15L185.45 217.89L185.77 218.15L186.09 218.9L186.41 220.11L186.73 221.67L187.05 223.5L187.37 225.45L187.69 227.41L188.01 229.24L188.33 230.8L188.65 232.01L188.97 232.76L189.29 233.02L189.61 232.76L189.93 232.01L190.25 230.8L190.57 229.24L190.89 227.41L191.21 225.46L191.53 223.5L191.85 221.67L192.17 220.11L192.49 218.9L192.81 218.15L193.13 217.89L193.45 218.15L193.76 218.9L194.08 220.11L194.4 221.67L194.72 223.5L195.04 225.46L195.36 227.41L195.68 229.24L196 230.8L196.32 232.01L196.64 232.76L196.96 233.02L197.28 232.76L197.6 232.01L197.92 230.8L198.24 229.24L198.56 227.41L198.88 225.46L199.2 223.5L199.52 221.67L199.84 220.11L200.16 218.9L200.48 218.15L200.8 217.89L201.12 218.15L201.44 218.9L201.76 220.11L202.08 221.67L202.4 223.5L202.72 225.45L203.04 227.41L203.36 229.24L203.68 230.8L204 232.01L204.31 232.76L204.63 233.02L204.95 232.76L205.27 232.01L205.59 230.8L205.91 229.24L206.23 227.41L206.55 225.46L206.87 223.5L207.19 221.67L207.51 220.11L207.83 218.9L208.15 218.15L208.47 217.89L208.79 218.15L209.11 218.9L209.43 220.11L209.75 221.67L210.07 223.5L210.39 225.45L210.71 227.41L211.03 229.24L211.35 230.8L211.67 232.01L211.99 232.76L212.31 233.02L212.63 232.76L212.95 232.01L213.27 230.8L213.59 229.24L213.91 227.41L214.22 225.46L214.54 223.5L214.86 221.67L215.18 220.11L215.5 218.9L215.82 218.15L216.14 217.89L216.46 218.15L216.78 218.9L217.1 220.11L217.42 221.67L217.74 223.5L218.06 225.46L218.38 227.41L218.7 229.24L219.02 230.8L219.34 232.01L219.66 232.76L219.98 233.02L220.3 232.76L220.62 232.01L220.94 230.8L221.26 229.24L221.58 227.41L221.9 225.45L222.22 223.5L222.54 221.67L222.86 220.11L223.18 218.9L223.5 218.15L223.82 217.89L224.14 218.15L224.45 218.9L224.77 220.11L225.09 221.67L225.41 223.5L225.73 225.45L226.05 227.41L226.37 229.24L226.69 230.8L227.01 232.01L227.33 232.76L227.65 233.02L227.97 232.76L228.29 232.01L228.61 230.8L228.93 229.24L229.25 227.41L229.57 225.46L229.89 223.5L230.21 221.67L230.53 220.11L230.85 218.9L231.17 218.15L231.49 217.89L231.81 218.15L232.13 218.9L232.45 220.11L232.77 221.67L233.09 223.5L233.41 225.46L233.73 227.41L234.05 229.24L234.37 230.8L234.69 232.01L235 232.76L235.32 233.02L235.64 232.76L235.96 232.01L236.28 230.8L236.6 229.24L236.92 227.41L237.24 225.46L237.56 223.5L237.88 221.67L238.2 220.11L238.52 218.9L238.84 218.15L239.16 217.89L239.48 218.15L239.8 218.9L240.12 220.11L240.44 221.67L240.76 223.5L241.08 225.45L241.4 227.41L241.72 229.24L242.04 230.8L242.36 232.01L242.68 232.76L243 233.02L243.32 232.76L243.64 232.01L243.96 230.8L244.28 229.24L244.6 227.41L244.92 225.46L245.23 223.5L245.55 221.67L245.87 220.11L246.19 218.9L246.51 218.15L246.83 217.89L247.15 218.15L247.47 218.9L247.79 220.11L248.11 221.67L248.43 223.5L248.75 225.45L249.07 227.41L249.39 229.24L249.71 230.8L250.03 232.01L250.35 232.76L250.67 233.02L250.99 232.76L251.31 232.01L251.63 230.8L251.95 229.24L252.27 227.41L252.59 225.45L252.91 223.5L253.23 221.67L253.55 220.11L253.87 218.9L254.19 218.15L254.51 217.89L254.83 218.15L255.14 218.9L255.46 220.11L255.78 221.67L256.1 223.5L256.42 225.45L256.74 227.41L257.06 229.24L257.38 230.8L257.7 232.01L258.02 232.76L258.34 233.02L258.66 232.76L258.98 232.01L259.3 230.8L259.62 229.24L259.94 227.41L260.26 225.46L260.58 223.5L260.9 221.67L261.22 220.11L261.54 218.9L261.86 218.15L262.18 217.89L262.5 218.15L262.82 218.9L263.14 220.11L263.46 221.67L263.78 223.5L264.1 225.46L264.42 227.41L264.74 229.24L265.06 230.8L265.38 232.01L265.69 232.76L266.01 233.02L266.33 232.76L266.65 232.01L266.97 230.8L267.29 229.24L267.61 227.41L267.93 225.46L268.25 223.5L268.57 221.67L268.89 220.11L269.21 218.9L269.53 218.15L269.85 217.89L270.17 218.15L270.49 218.9L270.81 220.11L271.13 221.67L271.45 223.5L271.77 225.46L272.09 227.41L272.41 229.24L272.73 230.8L273.05 232.01L273.37 232.76L273.69 233.02L274.01 232.76L274.33 232.01L274.65 230.8L274.97 229.24L275.29 227.41L275.61 225.46L275.92 223.5L276.24 221.67L276.56 220.11L276.88 218.9L277.2 218.15L277.52 217.89L277.84 218.15L278.16 218.9L278.48 220.11L278.8 221.67L279.12 223.5L279.44 225.46L279.76 227.41L280.08 229.24L280.4 230.8L280.72 232.01L281.04 232.76L281.36 233.02L281.68 232.76L282 232.01L282.32 230.8L282.64 229.24L282.96 227.41L283.28 225.46L283.6 223.5L283.92 221.67L284.24 220.11L284.56 218.9L284.88 218.15L285.2 217.89L285.52 218.15L285.84 218.9L286.15 220.11L286.47 221.67L286.79 223.5L287.11 225.45L287.43 227.41L287.75 229.24L288.07 230.8L288.39 232.01L288.71 232.76L289.03 233.02L289.35 232.76L289.67 232.01L289.99 230.8L290.31 229.24L290.63 227.41L290.95 225.46L291.27 223.5L291.59 221.67L291.91 220.11L292.23 218.9L292.55 218.15L292.87 217.89L293.19 218.15L293.51 218.9L293.83 220.11L294.15 221.67L294.47 223.5L294.79 225.45L295.11 227.41L295.43 229.24L295.75 230.8L296.06 232.01L296.38 232.76L296.7 233.02L297.02 232.76L297.34 232.01L297.66 230.8L297.98 229.24L298.3 227.41L298.62 225.45L298.94 223.5L299.26 221.67L299.58 220.11L299.9 218.9L300.22 218.15L300.54 217.89L300.86 218.15L301.18 218.9L301.5 220.11L301.82 221.67L302.14 223.5L302.46 225.45L302.78 227.41L303.1 229.24L303.42 230.8L303.74 232.01L304.06 232.76L304.38 233.02L304.7 232.76L305.02 232.01L305.34 230.8L305.66 229.24L305.98 227.41L306.29 225.45L306.61 223.5L306.93 221.67L307.25 220.11L307.57 218.9L307.89 218.15L308.21 217.89L308.53 218.15L308.85 218.9L309.17 220.11L309.49 221.67L309.81 223.5L310.13 225.45L310.45 227.41L310.77 229.24L311.09 230.8L311.41 232.01L311.73 232.76L312.05 233.02L312.37 232.76L312.69 232.01L313.01 230.8L313.33 229.24L313.65 227.41L313.97 225.46L314.29 223.5L314.61 221.67L314.93 220.11L315.25 218.9L315.57 218.15L315.89 217.89L316.21 218.15L316.52 218.9L316.84 220.11L317.16 221.67L317.48 223.5L317.8 225.45L318.12 227.41L318.44 229.24L318.76 230.8L319.08 232.01L319.4 232.76L319.72 233.02L320.04 232.76L320.36 232.01L320.68 230.8L321 229.24L321.32 227.41L321.64 225.46L321.96 223.5L322.28 221.67L322.6 220.11L322.92 218.9L323.24 218.15L323.56 217.89L323.88 218.15L324.2 218.9L324.52 220.11L324.84 221.67L325.16 223.5L325.48 225.46L325.8 227.41L326.12 229.24L326.44 230.8L326.75 232.01L327.07 232.76L327.39 233.02L327.71 232.76L328.03 232.01L328.35 230.8L328.67 229.24L328.99 227.41L329.31 225.46L329.63 223.5L329.95 221.67L330.27 220.11L330.59 218.9L330.91 218.15L331.23 217.89L331.55 218.15L331.87 218.9L332.19 220.11L332.51 221.67L332.83 223.5L333.15 225.45L333.47 227.41L333.79 229.24L334.11 230.8L334.43 232.01L334.75 232.76L335.07 233.02L335.39 232.76L335.71 232.01L336.03 230.8L336.35 229.24L336.67 227.41L336.99 225.46L337.3 223.5L337.62 221.67L337.94 220.11L338.26 218.9L338.58 218.15L338.9 217.89L339.22 218.15L339.54 218.9L339.86 220.11L340.18 221.67L340.5 223.5L340.82 225.45L341.14 227.41L341.46 229.24L341.78 230.8L342.1 232.01L342.42 232.76L342.74 233.02L343.06 232.76L343.38 232.01L343.7 230.8L344.02 229.24L344.34 227.41L344.66 225.46L344.98 223.5L345.3 221.67L345.62 220.11L345.94 218.9L346.26 218.15L346.58 217.89L346.9 218.15L347.22 218.9L347.53 220.11L347.85 221.67L348.17 223.5L348.49 225.45L348.81 227.41L349.13 229.24L349.45 230.8L349.77 232.01L350.09 232.76L350.41 233.02L350.73 232.76L351.05 232.01L351.37 230.8L351.69 229.24L352.01 227.41L352.33 225.46L352.65 223.5L352.97 221.67L353.29 220.11L353.61 218.9L353.93 218.15L354.25 217.89L354.57 218.15L354.89 218.9L355.21 220.11L355.53 221.67L355.85 223.5L356.17 225.45L356.49 227.41L356.81 229.24L357.13 230.8L357.44 232.01L357.76 232.76L358.08 233.02L358.4 232.76L358.72 232.01L359.04 230.8L359.36 229.24L359.68 227.41L360 225.46L360.32 223.5L360.64 221.67L360.96 220.11L361.28 218.9L361.6 218.15L361.92 217.89L362.24 218.15L362.56 218.9L362.88 220.11L363.2 221.67L363.52 223.5L363.84 225.46L364.16 227.41L364.48 229.24L364.8 230.8L365.12 232.01L365.44 232.76L365.76 233.02L366.08 232.76L366.4 232.01L366.72 230.8L367.04 229.24L367.36 227.41L367.68 225.45L367.99 223.5L368.31 221.67L368.63 220.11L368.95 218.9L369.27 218.15L369.59 217.89L369.91 218.15L370.23 218.9L370.55 220.11L370.87 221.67L371.19 223.5L371.51 225.45L371.83 227.41L372.15 229.24L372.47 230.8L372.79 232.01L373.11 232.76L373.43 233.02L373.75 232.76L374.07 232.01L374.39 230.8L374.71 229.24L375.03 227.41L375.35 225.46L375.67 223.5L375.99 221.67L376.31 220.11L376.63 218.9L376.95 218.15L377.27 217.89L377.59 218.15L377.9 218.9L378.22 220.11L378.54 221.67L378.86 223.5L379.18 225.46L379.5 227.41L379.82 229.24L380.14 230.8L380.46 232.01L380.78 232.76L381.1 233.02L381.42 232.76L381.74 232.01L382.06 230.8L382.38 229.24L382.7 227.41L383.02 225.46L383.34 223.5L383.66 221.67L383.98 220.11L384.3 218.9L384.62 218.15L384.94 217.89L385.26 218.15L385.58 218.9L385.9 220.11L386.22 221.67L386.54 223.5L386.86 225.45L387.18 227.41L387.5 229.24L387.82 230.8L388.13 232.01L388.45 232.76L388.77 233.02L389.09 232.76L389.41 232.01L389.73 230.8L390.05 229.24L390.37 227.41L390.69 225.46L391.01 223.5L391.33 221.67L391.65 220.11L391.97 218.9L392.29 218.15L392.61 217.89L392.93 218.15L393.25 218.9L393.57 220.11L393.89 221.67L394.21 223.5L394.53 225.45L394.85 227.41L395.17 229.24L395.49 230.8L395.81 232.01L396.13 232.76L396.45 233.02L396.77 232.76L397.09 232.01L397.41 230.8L397.73 229.24L398.05 227.41L398.37 225.46L398.68 223.5L399 221.67L399.32 220.11L399.64 218.9L399.96 218.15L400.28 217.89L400.6 218.15L400.92 218.9L401.24 220.11L401.56 221.67L401.88 223.5L402.2 225.45L402.52 227.41L402.84 229.24L403.16 230.8L403.48 232.01L403.8 232.76L404.12 233.02L404.44 232.76L404.76 232.01L405.08 230.8L405.4 229.24L405.72 227.41L406.04 225.45L406.36 223.5L406.68 221.67L407 220.11L407.32 218.9L407.64 218.15L407.96 217.89L408.28 218.15L408.6 218.9L408.91 220.11L409.23 221.67L409.55 223.5L409.87 225.46L410.19 227.41L410.51 229.24L410.83 230.8L411.15 232.01L411.47 232.76L411.79 233.02L412.11 232.76L412.43 232.01L412.75 230.8L413.07 229.24L413.39 227.41L413.71 225.46L414.03 223.5L414.35 221.67L414.67 220.11L414.99 218.9L415.31 218.15L415.63 217.89L415.95 218.15L416.27 218.9L416.59 220.11L416.91 221.67L417.23 223.5L417.55 225.46L417.87 227.41L418.19 229.24L418.51 230.8L418.82 232.01L419.14 232.76L419.46 233.02L419.78 232.76L420.1 232.01L420.42 230.8L420.74 229.24L421.06 227.41L421.38 225.46L421.7 223.5L422.02 221.67L422.34 220.11L422.66 218.9L422.98 218.15L423.3 217.89L423.62 218.15L423.94 218.9L424.26 220.11L424.58 221.67L424.9 223.5L425.22 225.45L425.54 227.41L425.86 229.24L426.18 230.8L426.5 232.01L426.82 232.76L427.14 233.02L427.46 232.76L427.78 232.01L428.1 230.8L428.42 229.24L428.74 227.41L429.06 225.46L429.37 223.5L429.69 221.67L430.01 220.11L430.33 218.9L430.65 218.15L430.97 217.89L431.29 218.15L431.61 218.9L431.93 220.11L432.25 221.67L432.57 223.5L432.89 225.45L433.21 227.41L433.53 229.24L433.85 230.8L434.17 232.01L434.49 232.76L434.81 233.02L435.13 232.76L435.45 232.01L435.77 230.8L436.09 229.24L436.41 227.41L436.73 225.46L437.05 223.5L437.37 221.67L437.69 220.11L438.01 218.9L438.33 218.15L438.65 217.89L438.97 218.15L439.29 218.9L439.6 220.11L439.92 221.67L440.24 223.5L440.56 225.45L440.88 227.41L441.2 229.24L441.52 230.8L441.84 232.01L442.16 232.76L442.48 233.02L442.8 232.76L443.12 232.01L443.44 230.8L443.76 229.24L444.08 227.41L444.4 225.46L444.72 223.5L445.04 221.67L445.36 220.11L445.68 218.9L446 218.15L446.32 217.89L446.64 218.15L446.96 218.9L447.28 220.11L447.6 221.67L447.92 223.5L448.24 225.46L448.56 227.41L448.88 229.24L449.2 230.8L449.51 232.01L449.83 232.76L450.15 233.02L450.47 232.76L450.79 232.01L451.11 230.8L451.43 229.24L451.75 227.41L452.07 225.46L452.39 223.5L452.71 221.67L453.03 220.11L453.35 218.9L453.67 218.15L453.99 217.89L454.31 218.15L454.63 218.9L454.95 220.11L455.27 221.67L455.59 223.5L455.91 225.45L456.23 227.41L456.55 229.24L456.87 230.8L457.19 232.01L457.51 232.76L457.83 233.02L458.15 232.76L458.47 232.01L458.79 230.8L459.11 229.24L459.43 227.41L459.75 225.45L460.06 223.5L460.38 221.67L460.7 220.11L461.02 218.9L461.34 218.15L461.66 217.89L461.98 218.15L462.3 218.9L462.62 220.11L462.94 221.67L463.26 223.5L463.58 225.45L463.9 227.41L464.22 229.24L464.54 230.8L464.86 232.01L465.18 232.76L465.5 233.02L465.82 232.76L466.14 232.01L466.46 230.8L466.78 229.24L467.1 227.41L467.42 225.46L467.74 223.5L468.06 221.67L468.38 220.11L468.7 218.9L469.02 218.15L469.34 217.89L469.66 218.15L469.98 218.9L470.29 220.11L470.61 221.67L470.93 223.5L471.25 225.45L471.57 227.41L471.89 229.24L472.21 230.8L472.53 232.01L472.85 232.76L473.17 233.02L473.49 232.76L473.81 232.01L474.13 230.8L474.45 229.24L474.77 227.41L475.09 225.45L475.41 223.5L475.73 221.67L476.05 220.11L476.37 218.9L476.69 218.15L477.01 217.89L477.33 218.15L477.65 218.9L477.97 220.11L478.29 221.67L478.61 223.5L478.93 225.46L479.25 227.41L479.57 229.24L479.89 230.8L480.2 232.01L480.52 232.76L480.84 233.02L481.16 232.76L481.48 232.01L481.8 230.8L482.12 229.24L482.44 227.41L482.76 225.46L483.08 223.5L483.4 221.67L483.72 220.11L484.04 218.9L484.36 218.15L484.68 217.89L485 218.15L485.32 218.9L485.64 220.11L485.96 221.67L486.28 223.5L486.6 225.45L486.92 227.41L487.24 229.24L487.56 230.8L487.88 232.01L488.2 232.76L488.52 233.02L488.84 232.76L489.16 232.01L489.48 230.8L489.8 229.24L490.12 227.41L490.44 225.46L490.75 223.5L491.07 221.67L491.39 220.11L491.71 218.9L492.03 218.15L492.35 217.89L492.67 218.15L492.99 218.9L493.31 220.11L493.63 221.67L493.95 223.5L494.27 225.45L494.59 227.41L494.91 229.24L495.23 230.8L495.55 232.01L495.87 232.76L496.19 233.02L496.51 232.76L496.83 232.01L497.15 230.8L497.47 229.24L497.79 227.41L498.11 225.46L498.43 223.5L498.75 221.67L499.07 220.11L499.39 218.9L499.71 218.15L500.03 217.89L500.35 218.15L500.67 218.9L500.98 220.11L501.3 221.67L501.62 223.5L501.94 225.46L502.26 227.41L502.58 229.24L502.9 230.8L503.22 232.01L503.54 232.76L503.86 233.02L504.18 232.76L504.5 232.01L504.82 230.8L505.14 229.24L505.46 227.41L505.78 225.46L506.1 223.5L506.42 221.67L506.74 220.11L507.06 218.9L507.38 218.15L507.7 217.89L508.02 218.15L508.34 218.9L508.66 220.11L508.98 221.67L509.3 223.5L509.62 225.45L509.94 227.41L510.26 229.24L510.58 230.8L510.89 232.01L511.21 232.76L511.53 233.02L511.85 232.76L512.17 232.01L512.49 230.8L512.81 229.24L513.13 227.41L513.45 225.45L513.77 223.5L514.09 221.67L514.41 220.11L514.73 218.9L515.05 218.15L515.37 217.89L515.69 218.15L516.01 218.9L516.33 220.11L516.65 221.67L516.97 223.5L517.29 225.46L517.61 227.41L517.93 229.24L518.25 230.8L518.57 232.01L518.89 232.76L519.21 233.02L519.53 232.76L519.85 232.01L520.17 230.8L520.49 229.24L520.81 227.41L521.12 225.45L521.44 223.5L521.76 221.67L522.08 220.11L522.4 218.9L522.72 218.15L523.04 217.89L523.36 218.15L523.68 218.9L524 220.11L524.32 221.67L524.64 223.5L524.96 225.45L525.28 227.41L525.6 229.24L525.92 230.8L526.24 232.01L526.56 232.76L526.88 233.02L527.2 232.76L527.52 232.01L527.84 230.8L528.16 229.24L528.48 227.41L528.8 225.46L529.12 223.5L529.44 221.67L529.76 220.11L530.08 218.9L530.4 218.15L530.72 217.89L531.04 218.15L531.36 218.9L531.67 220.11L531.99 221.67L532.31 223.5L532.63 225.45L532.95 227.41L533.27 229.24L533.59 230.8L533.91 232.01L534.23 232.76L534.55 233.02L534.87 232.76L535.19 232.01L535.51 230.8L535.83 229.24L536.15 227.41L536.47 225.46L536.79 223.5L537.11 221.67L537.43 220.11L537.75 218.9L538.07 218.15L538.39 217.89L538.71 218.15L539.03 218.9L539.35 220.11L539.67 221.67L539.99 223.5L540.31 225.46L540.63 227.41L540.95 229.24L541.27 230.8L541.59 232.01L541.9 232.76L542.22 233.02L542.54 232.76L542.86 232.01L543.18 230.8L543.5 229.24L543.82 227.41L544.14 225.46L544.46 223.5L544.78 221.67L545.1 220.11L545.42 218.9L545.74 218.15L546.06 217.89L546.38 218.15L546.7 218.9L547.02 220.11L547.34 221.67L547.66 223.5L547.98 225.45L548.3 227.41L548.62 229.24L548.94 230.8L549.26 232.01L549.58 232.76L549.9 233.02L550.22 232.76L550.54 232.01L550.86 230.8L551.18 229.24L551.5 227.41L551.82 225.46L552.13 223.5L552.45 221.67L552.77 220.11L553.09 218.9L553.41 218.15L553.73 217.89L554.05 218.15L554.37 218.9L554.69 220.11L555.01 221.67L555.33 223.5L555.65 225.46L555.97 227.41L556.29 229.24L556.61 230.8L556.93 232.01L557.25 232.76L557.57 233.02L557.89 232.76L558.21 232.01L558.53 230.8L558.85 229.24L559.17 227.41L559.49 225.46L559.81 223.5L560.13 221.67L560.45 220.11L560.77 218.9L561.09 218.15L561.41 217.89L561.73 218.15L562.05 218.9L562.36 220.11L562.68 221.67L563 223.5L563.32 225.45L563.64 227.41L563.96 229.24L564.28 230.8L564.6 232.01L564.92 232.76L565.24 233.02L565.56 232.76L565.88 232.01L566.2 230.8L566.52 229.24L566.84 227.41L567.16 225.46L567.48 223.5L567.8 221.67L568.12 220.11L568.44 218.9L568.76 218.15L569.08 217.89L569.4 218.15L569.72 218.9L570.04 220.11L570.36 221.67L570.68 223.5L571 225.45L571.32 227.41L571.64 229.24L571.96 230.8L572.27 232.01L572.59 232.76L572.91 233.02L573.23 232.76L573.55 232.01L573.87 230.8L574.19 229.24L574.51 227.41L574.83 225.46L575.15 223.5L575.47 221.67L575.79 220.11L576.11 218.9L576.43 218.15L576.75 217.89L577.07 218.15L577.39 218.9L577.71 220.11L578.03 221.67L578.35 223.5L578.67 225.46L578.99 227.41L579.31 229.24L579.63 230.8L579.95 232.01L580.27 232.76L580.59 233.02L580.91 232.76L581.23 232.01L581.55 230.8L581.87 229.24L582.19 227.41L582.5 225.46L582.82 223.5L583.14 221.67L583.46 220.11L583.78 218.9L584.1 218.15L584.42 217.89L584.74 218.15L585.06 218.9L585.38 220.11L585.7 221.67L586.02 223.5L586.34 225.45L586.66 227.41L586.98 229.24L587.3 230.8L587.62 232.01L587.94 232.76L588.26 233.02L588.58 232.76L588.9 232.01L589.22 230.8L589.54 229.24L589.86 227.41L590.18 225.45L590.5 223.5L590.82 221.67L591.14 220.11L591.46 218.9L591.78 218.15L592.1 217.89L592.42 218.15L592.74 218.9L593.05 220.11L593.37 221.67L593.69 223.5L594.01 225.45L594.33 227.41L594.65 229.24L594.97 230.8L595.29 232.01L595.61 232.76L595.93 233.02L596.25 232.76L596.57 232.01L596.89 230.8L597.21 229.24L597.53 227.41L597.85 225.45L598.17 223.5L598.49 221.67L598.81 220.11L599.13 218.9L599.45 218.15L599.77 217.89L600.09 218.15L600.41 218.9L600.73 220.11L601.05 221.67L601.37 223.5L601.69 225.46L602.01 227.41L602.33 229.24L602.65 230.8L602.96 232.01L603.28 232.76L603.6 233.02L603.92 232.76L604.24 232.01L604.56 230.8L604.88 229.24L605.2 227.41L605.52 225.46L605.84 223.5L606.16 221.67L606.48 220.11L606.8 218.9L607.12 218.15L607.44 217.89L607.76 218.15L608.08 218.9L608.4 220.11L608.72 221.67L609.04 223.5L609.36 225.45L609.68 227.41L610 229.24L610.32 230.8L610.64 232.01L610.96 232.76L611.28 233.02L611.6 232.76L611.92 232.01L612.24 230.8L612.56 229.24L612.88 227.41L613.19 225.46L613.51 223.5L613.83 221.67L614.15 220.11L614.47 218.9L614.79 218.15L615.11 217.89L615.43 218.15L615.75 218.9L616.07 220.11L616.39 221.67L616.71 223.5L617.03 225.45L617.35 227.41L617.67 229.24L617.99 230.8L618.31 232.01L618.63 232.76L618.95 233.02L619.27 232.76L619.59 232.01L619.91 230.8L620.23 229.24L620.55 227.41L620.87 225.45L621.19 223.5L621.51 221.67L621.83 220.11L622.15 218.9L622.47 218.15L622.79 217.89L623.11 218.15L623.42 218.9L623.74 220.11L624.06 221.67L624.38 223.5L624.7 225.45L625.02 227.41L625.34 229.24L625.66 230.8L625.98 232.01L626.3 232.76L626.62 233.02L626.94 232.76L627.26 232.01L627.58 230.8L627.9 229.24L628.22 227.41L628.54 225.46L628.86 223.5L629.18 221.67L629.5 220.11L629.82 218.9L630.14 218.15L630.46 217.89L630.78 218.15L631.1 218.9L631.42 220.11L631.74 221.67L632.06 223.5L632.38 225.46L632.7 227.41L633.02 229.24L633.34 230.8L633.65 232.01L633.97 232.76L634.29 233.02L634.61 232.76L634.93 232.01L635.25 230.8L635.57 229.24L635.89 227.41L636.21 225.46L636.53 223.5L636.85 221.67L637.17 220.11L637.49 218.9L637.81 218.15L638.13 217.89L638.45 218.15L638.77 218.9L639.09 220.11L639.41 221.67L639.73 223.5L640.05 225.46L640.37 227.41L640.69 229.24L641.01 230.8L641.33 232.01L641.65 232.76L641.97 233.02L642.29 232.76L642.61 232.01L642.93 230.8L643.25 229.24L643.57 227.41L643.88 225.46L644.2 223.5L644.52 221.67L644.84 220.11L645.16 218.9L645.48 218.15L645.8 217.89L646.12 218.15L646.44 218.9L646.76 220.11L647.08 221.67L647.4 223.5L647.72 225.45L648.04 227.41L648.36 229.24L648.68 230.8L649 232.01L649.32 232.76L649.64 233.02L649.96 232.76L650.28 232.01L650.6 230.8L650.92 229.24L651.24 227.41L651.56 225.46L651.88 223.5L652.2 221.67L652.52 220.11L652.84 218.9L653.16 218.15L653.48 217.89L653.8 218.15L654.12 218.9L654.43 220.11L654.75 221.67L655.07 223.5L655.39 225.45L655.71 227.41L656.03 229.24L656.35 230.8L656.67 232.01L656.99 232.76L657.31 233.02L657.63 232.76L657.95 232.01L658.27 230.8L658.59 229.24L658.91 227.41L659.23 225.46L659.55 223.5L659.87 221.67L660.19 220.11L660.51 218.9L660.83 218.15L661.15 217.89L661.47 218.15L661.79 218.9L662.11 220.11L662.43 221.67L662.75 223.5L663.07 225.46L663.39 227.41L663.71 229.24L664.03 230.8L664.35 232.01L664.66 232.76L664.98 233.02L665.3 232.76L665.62 232.01L665.94 230.8L666.26 229.24L666.58 227.41L666.9 225.46L667.22 223.5L667.54 221.67L667.86 220.11L668.18 218.9L668.5 218.15L668.82 217.89L669.14 218.15L669.46 218.9L669.78 220.11L670.1 221.67L670.42 223.5L670.74 225.45L671.06 227.41L671.38 229.24L671.7 230.8L672.02 232.01L672.34 232.76L672.66 233.02L672.98 232.76L673.3 232.01L673.62 230.8L673.94 229.24L674.26 227.41L674.58 225.45L674.89 223.5L675.21 221.67L675.53 220.11L675.85 218.9L676.17 218.15L676.49 217.89L676.81 218.15L677.13 218.9L677.45 220.11L677.77 221.67L678.09 223.5L678.41 225.45L678.73 227.41L679.05 229.24L679.37 230.8L679.69 232.01L680.01 232.76L680.33 233.02L680.65 232.76L680.97 232.01L681.29 230.8L681.61 229.24L681.93 227.41L682.25 225.45L682.57 223.5L682.89 221.67L683.21 220.11L683.53 218.9L683.85 218.15L684.17 217.89L684.49 218.15L684.8 218.9L685.12 220.11L685.44 221.67L685.76 223.5L686.08 225.45L686.4 227.41L686.72 229.24L687.04 230.8L687.36 232.01L687.68 232.76L688 233.02L688.32 232.76L688.64 232.01L688.96 230.8L689.28 229.24L689.6 227.41L689.92 225.46L690.24 223.5L690.56 221.67L690.88 220.11L691.2 218.9L691.52 218.15L691.84 217.89L692.16 218.15L692.48 218.9L692.8 220.11L693.12 221.67L693.44 223.5L693.76 225.45L694.08 227.41L694.4 229.24L694.72 230.8L695.03 232.01L695.35 232.76L695.67 233.02L695.99 232.76L696.31 232.01L696.63 230.8L696.95 229.24L697.27 227.41L697.59 225.45L697.91 223.5L698.23 221.67L698.55 220.11L698.87 218.9L699.19 218.15L699.51 217.89L699.83 218.15L700.15 218.9L700.47 220.11L700.79 221.67L701.11 223.5L701.43 225.45L701.75 227.41L702.07 229.24L702.39 230.8L702.71 232.01L703.03 232.76L703.35 233.02L703.67 232.76L703.99 232.01L704.31 230.8L704.63 229.24L704.95 227.41L705.26 225.46L705.58 223.5L705.9 221.67L706.22 220.11L706.54 218.9L706.86 218.15L707.18 217.89L707.5 218.15L707.82 218.9L708.14 220.11L708.46 221.67L708.78 223.5L709.1 225.45L709.42 227.41L709.74 229.24L710.06 230.8L710.38 232.01L710.7 232.76L711.02 233.02L711.34 232.76L711.66 232.01L711.98 230.8L712.3 229.24L712.62 227.41L712.94 225.46L713.26 223.5L713.58 221.67L713.9 220.11L714.22 218.9L714.54 218.15L714.86 217.89L715.18 218.15L715.5 218.9L715.81 220.11L716.13 221.67L716.45 223.5L716.77 225.46L717.09 227.41L717.41 229.24L717.73 230.8L718.05 232.01L718.37 232.76L718.69 233.02L719.01 232.76L719.33 232.01L719.65 230.8L719.97 229.24L720.29 227.41L720.61 225.46L720.93 223.5L721.25 221.67L721.57 220.11L721.89 218.9L722.21 218.15L722.53 217.89L722.85 218.15L723.17 218.9L723.49 220.11L723.81 221.67L724.13 223.5L724.45 225.46L724.77 227.41L725.09 229.24L725.41 230.8L725.73 232.01L726.04 232.76L726.36 233.02L726.68 232.76L727 232.01L727.32 230.8L727.64 229.24L727.96 227.41L728.28 225.46L728.6 223.5L728.92 221.67L729.24 220.11L729.56 218.9L729.88 218.15L730.2 217.89L730.52 218.15L730.84 218.9L731.16 220.11L731.48 221.67L731.8 223.5L732.12 225.45L732.44 227.41L732.76 229.24L733.08 230.8L733.4 232.01L733.72 232.76L734.04 233.02L734.36 232.76L734.68 232.01L735 230.8L735.32 229.24L735.64 227.41L735.96 225.46L736.27 223.5L736.59 221.67L736.91 220.11L737.23 218.9L737.55 218.15L737.87 217.89L738.19 218.15L738.51 218.9L738.83 220.11L739.15 221.67L739.47 223.5L739.79 225.46L740.11 227.41L740.43 229.24L740.75 230.8L741.07 232.01L741.39 232.76L741.71 233.02L742.03 232.76L742.35 232.01L742.67 230.8L742.99 229.24L743.31 227.41L743.63 225.46L743.95 223.5L744.27 221.67L744.59 220.11L744.91 218.9L745.23 218.15L745.55 217.89L745.87 218.15L746.18 218.9L746.5 220.11L746.82 221.67L747.14 223.5L747.46 225.45L747.78 227.41L748.1 229.24L748.42 230.8L748.74 232.01L749.06 232.76L749.38 233.02L749.7 232.76L750.02 232.01L750.34 230.8L750.66 229.24L750.98 227.41L751.3 225.46L751.62 223.5L751.94 221.67L752.26 220.11L752.58 218.9L752.9 218.15L753.22 217.89L753.54 218.15L753.86 218.9L754.18 220.11L754.5 221.67L754.82 223.5L755.14 225.45L755.46 227.41L755.78 229.24L756.1 230.8L756.41 232.01L756.73 232.76L757.05 233.02L757.37 232.76L757.69 232.01L758.01 230.8L758.33 229.24L758.65 227.41L758.97 225.45L759.29 223.5L759.61 221.67L759.93 220.11L760.25 218.9L760.57 218.15L760.89 217.89L761.21 218.15L761.53 218.9L761.85 220.11L762.17 221.67L762.49 223.5L762.81 225.45L763.13 227.41L763.45 229.24L763.77 230.8L764.09 232.01L764.41 232.76L764.73 233.02L765.05 232.76L765.37 232.01L765.69 230.8L766.01 229.24L766.33 227.41L766.64 225.46L766.96 223.5L767.28 221.67L767.6 220.11L767.92 218.9L768.24 218.15L768.56 217.89L768.88 218.15L769.2 218.9L769.52 220.11L769.84 221.67L770.16 223.5L770.48 225.46L770.8 227.41L771.12 229.24L771.44 230.8L771.76 232.01L772.08 232.76L772.4 233.02L772.72 232.76L773.04 232.01L773.36 230.8L773.68 229.24L774 227.41L774.32 225.46L774.64 223.5L774.96 221.67L775.28 220.11L775.6 218.9L775.92 218.15L776.24 217.89L776.56 218.15L776.88 218.9L777.19 220.11L777.51 221.67L777.83 223.5L778.15 225.46L778.47 227.41L778.79 229.24L779.11 230.8L779.43 232.01L779.75 232.76L780.07 233.02L780.39 232.76L780.71 232.01L781.03 230.8L781.35 229.24L781.67 227.41L781.99 225.45L782.31 223.5L782.63 221.67L782.95 220.11L783.27 218.9L783.59 218.15L783.91 217.89L784.23 218.15L784.55 218.9L784.87 220.11L785.19 221.67L785.51 223.5L785.83 225.45L786.15 227.41L786.47 229.24L786.79 230.8L787.11 232.01L787.42 232.76L787.74 233.02L788.06 232.76L788.38 232.01L788.7 230.8L789.02 229.24L789.34 227.41L789.66 225.46L789.98 223.5L790.3 221.67L790.62 220.11L790.94 218.9L791.26 218.15L791.58 217.89L791.9 218.15L792.22 218.9L792.54 220.11L792.86 221.67L793.18 223.5L793.5 225.45L793.82 227.41L794.14 229.24L794.46 230.8L794.78 232.01L795.1 232.76L795.42 233.02L795.74 232.76L796.06 232.01L796.38 230.8L796.7 229.24L797.02 227.41L797.34 225.46L797.65 223.5L797.97 221.67L798.29 220.11L798.61 218.9L798.93 218.15L799.25 217.89L799.57 218.15L799.89 218.9L800.21 220.11L800.53 221.67L800.85 223.5L801.17 225.45L801.49 227.41L801.81 229.24L802.13 230.8L802.45 232.01L802.77 232.76L803.09 233.02L803.41 232.76L803.73 232.01L804.05 230.8L804.37 229.24L804.69 227.41L805.01 225.46L805.33 223.5L805.65 221.67L805.97 220.11L806.29 218.9L806.61 218.15L806.93 217.89L807.25 218.15L807.57 218.9L807.88 220.11L808.2 221.67L808.52 223.5L808.84 225.45L809.16 227.41L809.48 229.24L809.8 230.8L810.12 232.01L810.44 232.76L810.76 233.02L811.08 232.76L811.4 232.01L811.72 230.8L812.04 229.24L812.36 227.41L812.68 225.45L813 223.5L813.32 221.67L813.64 220.11L813.96 218.9L814.28 218.15L814.6 217.89L814.92 218.15L815.24 218.9L815.56 220.11L815.88 221.67L816.2 223.5L816.52 225.45L816.84 227.41L817.16 229.24L817.48 230.8L817.79 232.01L818.11 232.76L818.43 233.02L818.75 232.76L819.07 232.01L819.39 230.8L819.71 229.24L820.03 227.41L820.35 225.45L820.67 223.5L820.99 221.67L821.31 220.11L821.63 218.9L821.95 218.15L822.27 217.89L822.59 218.15L822.91 218.9L823.23 220.11L823.55 221.67L823.87 223.5L824.19 225.46L824.51 227.41L824.83 229.24L825.15 230.8L825.47 232.01L825.79 232.76L826.11 233.02L826.43 232.76L826.75 232.01L827.07 230.8L827.39 229.24L827.71 227.41L828.02 225.46L828.34 223.5L828.66 221.67L828.98 220.11L829.3 218.9L829.62 218.15L829.94 217.89L830.26 218.15L830.58 218.9L830.9 220.11L831.22 221.67L831.54 223.5L831.86 225.45L832.18 227.41L832.5 229.24L832.82 230.8L833.14 232.01L833.46 232.76L833.78 233.02L834.1 232.76L834.42 232.01L834.74 230.8L835.06 229.24L835.38 227.41L835.7 225.46L836.02 223.5L836.34 221.67L836.66 220.11L836.98 218.9L837.3 218.15L837.62 217.89L837.94 218.15L838.25 218.9L838.57 220.11L838.89 221.67L839.21 223.5L839.53 225.45L839.85 227.41L840.17 229.24L840.49 230.8L840.81 232.01L841.13 232.76L841.45 233.02L841.77 232.76L842.09 232.01L842.41 230.8L842.73 229.24L843.05 227.41L843.37 225.46L843.69 223.5L844.01 221.67L844.33 220.11L844.65 218.9L844.97 218.15L845.29 217.89L845.61 218.15L845.93 218.9L846.25 220.11L846.57 221.67L846.89 223.5L847.21 225.46L847.53 227.41L847.85 229.24L848.17 230.8L848.49 232.01L848.8 232.76L849.12 233.02L849.44 232.76L849.76 232.01L850.08 230.8L850.4 229.24L850.72 227.41L851.04 225.46L851.36 223.5L851.68 221.67L852 220.11L852.32 218.9L852.64 218.15L852.96 217.89L853.28 218.15L853.6 218.9L853.92 220.11L854.24 221.67L854.56 223.5L854.88 225.46L855.2 227.41L855.52 229.24L855.84 230.8L856.16 232.01L856.48 232.76L856.8 233.02L857.12 232.76L857.44 232.01L857.76 230.8L858.08 229.24L858.4 227.41L858.72 225.46L859.03 223.5L859.35 221.67L859.67 220.11L859.99 218.9L860.31 218.15L860.63 217.89L860.95 218.15L861.27 218.9L861.59 220.11L861.91 221.67L862.23 223.5L862.55 225.46L862.87 227.41L863.19 229.24L863.51 230.8L863.83 232.01L864.15 232.76L864.47 233.02L864.79 232.76L865.11 232.01L865.43 230.8L865.75 229.24L866.07 227.41L866.39 225.46L866.71 223.5L867.03 221.67L867.35 220.11L867.67 218.9L867.99 218.15L868.31 217.89L868.63 218.15L868.95 218.9L869.26 220.11L869.58 221.67L869.9 223.5L870.22 225.45L870.54 227.41L870.86 229.24L871.18 230.8L871.5 232.01L871.82 232.76L872.14 233.02L872.46 232.76L872.78 232.01L873.1 230.8L873.42 229.24L873.74 227.41L874.06 225.46L874.38 223.5L874.7 221.67L875.02 220.11L875.34 218.9L875.66 218.15L875.98 217.89L876.3 218.15L876.62 218.9L876.94 220.11L877.26 221.67L877.58 223.5L877.9 225.45L878.22 227.41L878.54 229.24L878.86 230.8L879.17 232.01L879.49 232.76L879.81 233.02L880.13 232.76L880.45 232.01L880.77 230.8L881.09 229.24L881.41 227.41L881.73 225.46L882.05 223.5L882.37 221.67L882.69 220.11L883.01 218.9L883.33 218.15L883.65 217.89L883.97 218.15L884.29 218.9L884.61 220.11L884.93 221.67L885.25 223.5L885.57 225.45L885.89 227.41L886.21 229.24L886.53 230.8L886.85 232.01L887.17 232.76L887.49 233.02L887.81 232.76L888.13 232.01L888.45 230.8L888.77 229.24L889.09 227.41L889.4 225.45L889.72 223.5L890.04 221.67L890.36 220.11L890.68 218.9L891 218.15L891.32 217.89L891.64 218.15L891.96 218.9L892.28 220.11L892.6 221.67L892.92 223.5L893.24 225.45L893.56 227.41L893.88 229.24L894.2 230.8L894.52 232.01L894.84 232.76L895.16 233.02L895.48 232.76L895.8 232.01L896.12 230.8L896.44 229.24L896.76 227.41L897.08 225.45L897.4 223.5L897.72 221.67L898.04 220.11L898.36 218.9L898.68 218.15L899 217.89L899.32 218.15L899.63 218.9L899.95 220.11L900.27 221.67L900.59 223.5L900.91 225.45L901.23 227.41L901.55 229.24L901.87 230.8L902.19 232.01L902.51 232.76L902.83 233.02L903.15 232.76L903.47 232.01L903.79 230.8L904.11 229.24L904.43 227.41L904.75 225.45" stroke="#348ABD"/>
<path d="M137.5 225.46L904.75 225.46" stroke="#988ED5"/>
<path d="M137.5 130L139.2 129.5L141.3 148.4L143 129.49L144.9 148.4L146.87 128.89L148.97 148.4L150.67 129.49L152.57 148.4L154.54 128.89L156.65 148.4L158.34 129.49L160.25 148.4L162.22 128.89L164.32 148.4L166.02 129.49L167.92 148.4L169.89 128.89L171.99 148.4L173.69 129.49L175.59 148.4L177.56 128.89L179.66 148.4L181.36 129.49L183.26 148.4L185.23 128.89L187.34 148.4L189.03 129.49L190.94 148.4L192.91 128.89L195.01 148.4L196.71 129.49L198.61 148.4L200.58 128.89L202.68 148.4L204.38 129.49L206.28 148.4L208.25 128.89L210.35 148.4L212.05 129.49L213.95 148.4L215.93 128.89L218.03 148.4L219.73 129.49L221.63 148.4L223.6 128.89L225.7 148.4L227.4 129.49L229.3 148.4L231.27 128.89L233.37 148.4L235.07 129.49L236.97 148.4L238.94 128.89L241.04 148.4L242.74 129.49L244.64 148.4L246.62 128.89L248.72 148.4L250.42 129.49L252.32 148.4L254.29 128.89L256.39 148.4L258.09 129.49L259.99 148.4L261.96 128.89L264.06 148.4L265.76 129.49L267.66 148.4L269.63 128.89L271.73 148.4L273.43 129.49L275.33 148.4L277.31 128.89L279.41 148.4L281.11 129.49L283 148.4L284.98 128.89L287.08 148.4L288.78 129.49L290.68 148.4L292.65 128.89L294.75 148.4L296.45 129.49L298.35 148.4L300.32 128.89L302.42 148.4L304.12 129.49L306.02 148.4L308 128.89L310.1 148.4L311.8 129.49L313.69 148.4L315.67 128.89L317.77 148.4L319.47 129.49L321.37 148.4L323.34 128.89L325.44 148.4L327.14 129.49L329.04 148.4L331.01 128.89L333.11 148.4L334.81 129.49L336.71 148.4L338.69 128.89L340.79 148.4L342.49 129.49L344.38 148.4L346.36 128.89L348.46 148.4L350.16 129.49L352.06 148.4L354.03 128.89L356.13 148.4L357.83 129.49L359.73 148.4L361.7 128.89L363.8 148.4L365.5 129.49L367.4 148.4L369.38 128.89L371.48 148.4L373.18 129.49L375.07 148.4L377.05 128.89L379.15 148.4L380.85 129.49L382.75 148.4L384.72 128.89L386.82 148.4L388.52 129.49L390.42 148.4L392.39 128.89L394.49 148.4L396.19 129.49L398.09 148.4L400.06 128.89L402.17 148.4L403.87 129.49L405.76 148.4L407.74 128.89L409.84 148.4L411.54 129.49L413.44 148.4L415.41 128.89L417.51 148.4L419.21 129.49L421.11 148.4L423.08 128.89L425.18 148.4L426.88 129.49L428.78 148.4L430.75 128.89L432.86 148.4L434.56 129.49L436.45 148.4L438.43 128.89L440.53 148.4L442.23 129.49L444.13 148.4L446.1 128.89L448.2 148.4L449.9 129.49L451.8 148.4L453.77 128.89L455.87 148.4L457.57 129.49L459.47 148.4L461.44 128.89L463.55 148.4L465.25 129.49L467.14 148.4L469.12 128.89L471.22 148.4L472.92 129.49L474.82 148.4L476.79 128.89L478.89 148.4L480.59 129.49L482.49 148.4L484.46 128.89L486.56 148.4L488.26 129.49L490.16 148.4L492.13 128.89L494.24 148.4L495.94 129.49L497.83 148.4L499.81 128.89L501.91 148.4L503.61 129.49L505.51 148.4L507.48 128.89L509.58 148.4L511.28 129.49L513.18 148.4L515.15 128.89L517.25 148.4L518.95 129.49L520.85 148.4L522.83 128.89L524.92 148.4L526.62 129.49L528.52 148.4L530.5 128.89L532.6 148.4L534.3 129.49L536.2 148.4L538.17 128.89L540.27 148.4L541.97 129.49L543.87 148.4L545.84 128.89L547.94 148.4L549.64 129.49L551.54 148.4L553.52 128.89L555.62 148.4L557.32 129.49L559.22 148.4L561.19 128.89L563.29 148.4L564.99 129.49L566.89 148.4L568.86 128.89L570.96 148.4L572.66 129.49L574.56 148.4L576.53 128.89L578.63 148.4L580.33 129.49L582.23 148.4L584.21 128.89L586.3 148.4L588 129.49L589.9 148.4L591.88 128.89L593.98 148.4L595.68 129.49L597.58 148.4L599.55 128.89L601.65 148.4L603.35 129.49L605.25 148.4L607.22 128.89L609.32 148.4L611.02 129.49L612.92 148.4L614.89 128.89L616.99 148.4L618.69 129.49L620.59 148.4L622.57 128.89L624.67 148.4L626.37 129.49L628.27 148.4L630.24 128.89L632.34 148.4L634.04 129.49L635.94 148.4L637.91 128.89L640.01 148.4L641.71 129.49L643.61 148.4L645.59 128.89L647.68 148.4L649.38 129.49L651.28 148.4L653.26 128.89L655.36 148.4L657.06 129.49L658.96 148.4L660.93 128.89L663.03 148.4L664.73 129.49L666.63 148.4L668.6 128.89L670.7 148.4L672.4 129.49L674.3 148.4L676.28 128.89L678.38 148.4L680.08 129.49L681.98 148.4L683.95 128.89L686.05 148.4L687.75 129.49L689.65 148.4L691.62 128.89L693.72 148.4L695.42 129.49L697.32 148.4L699.29 128.89L701.39 148.4L703.09 129.49L704.99 148.4L706.97 128.89L709.06 148.4L710.76 129.49L712.66 148.4L714.64 128.89L716.74 148.4L718.44 129.49L720.34 148.4L722.31 128.89L724.41 148.4L726.11 129.49L728.01 148.4L729.98 128.89L732.08 148.4L733.78 129.49L735.68 148.4L737.66 128.89L739.75 148.4L741.46 129.49L743.36 148.4L745.33 128.89L747.43 148.4L749.13 129.49L751.03 148.4L753 128.89L755.1 148.4L756.8 129.49L758.7 148.4L760.67 128.89L762.77 148.4L764.47 129.49L766.37 148.4L768.35 128.89L770.44 148.4L772.14 129.49L774.04 148.4L776.02 128.89L778.12 148.4L779.82 129.49L781.72 148.4L783.69 128.89L785.79 148.4L787.49 129.49L789.39 148.4L791.36 128.89L793.46 148.4L795.16 129.49L797.06 148.4L799.04 128.89L801.13 148.4L802.84 129.49L804.74 148.4L806.71 128.89L808.81 148.4L810.51 129.49L812.41 148.4L814.38 128.89L816.48 148.4L818.18 129.49L820.08 148.4L822.05 128.89L824.15 148.4L825.85 129.49L827.75 148.4L829.73 128.89L831.82 148.4L833.52 129.49L835.42 148.4L837.4 128.89L839.5 148.4L841.2 129.49L843.1 148.4L845.07 128.89L847.17 148.4L848.87 129.49L850.77 148.4L852.74 128.89L854.84 148.4L856.54 129.49L858.44 148.4L860.42 128.89L862.51 148.4L864.22 129.49L866.12 148.4L868.09 128.89L870.19 148.4L871.89 129.49L873.79 148.4L875.76 128.89L877.86 148.4L879.56 129.49L881.46 148.4L883.43 128.89L885.53 148.4L887.23 129.49L889.13 148.4L891.11 128.89L893.21 148.4L894.91 129.49L896.81 148.4L898.78 128.89L900.88 148.4L902.58 129.49L904.48 148.4L906.45 128.89" stroke="#777777"/>
<path d="M137.5 130L139.4 129.5L141.3 149.9L141.5 149.9L143.2 129.09L144.8 149.5L145.5 149.9L147.07 128.89L148.52 149.9L149.17 149.9L150.87 129.09L152.47 149.5L153.17 149.9L154.75 128.89L156.19 149.9L156.84 149.9L158.54 129.09L160.15 149.5L160.84 149.9L162.42 128.89L163.87 149.9L164.52 149.9L166.22 129.09L167.82 149.5L168.52 149.9L170.09 128.89L171.54 149.9L172.19 149.9L173.89 129.09L175.49 149.5L176.19 149.9L177.76 128.89L179.21 149.9L179.86 149.9L181.56 129.09L183.16 149.5L183.86 149.9L185.44 128.89L186.88 149.9L187.53 149.9L189.23 129.09L190.84 149.5L191.53 149.9L193.11 128.89L194.56 149.9L195.21 149.9L196.91 129.09L198.51 149.5L199.21 149.9L200.78 128.89L202.23 149.9L202.88 149.9L204.58 129.09L206.18 149.5L206.88 149.9L208.45 128.89L209.9 149.9L210.55 149.9L212.25 129.09L213.85 149.5L214.55 149.9L216.13 128.89L217.58 149.9L218.23 149.9L219.93 129.09L221.53 149.5L222.22 149.9L223.8 128.89L225.25 149.9L225.9 149.9L227.6 129.09L229.2 149.5L229.9 149.9L231.47 128.89L232.92 149.9L233.57 149.9L235.27 129.09L236.87 149.5L237.57 149.9L239.14 128.89L240.59 149.9L241.24 149.9L242.94 129.09L244.54 149.5L245.24 149.9L246.82 128.89L248.27 149.9L248.92 149.9L250.62 129.09L252.22 149.5L252.91 149.9L254.49 128.89L255.94 149.9L256.59 149.9L258.29 129.09L259.89 149.5L260.59 149.9L262.16 128.89L263.61 149.9L264.26 149.9L265.96 129.09L267.56 149.5L268.26 149.9L269.83 128.89L271.28 149.9L271.93 149.9L273.63 129.09L275.23 149.5L275.93 149.9L277.5 128.89L278.96 149.9L279.61 149.9L281.31 129.09L282.91 149.5L283.61 149.9L285.18 128.89L286.63 149.9L287.28 149.9L288.98 129.09L290.58 149.5L291.28 149.9L292.85 128.89L294.3 149.9L294.95 149.9L296.65 129.09L298.25 149.5L298.95 149.9L300.52 128.89L301.97 149.9L302.62 149.9L304.32 129.09L305.92 149.5L306.62 149.9L308.19 128.89L309.65 149.9L310.3 149.9L312 129.09L313.6 149.5L314.29 149.9L315.87 128.89L317.32 149.9L317.97 149.9L319.67 129.09L321.27 149.5L321.97 149.9L323.54 128.89L324.99 149.9L325.64 149.9L327.34 129.09L328.94 149.5L329.64 149.9L331.21 128.89L332.66 149.9L333.31 149.9L335.01 129.09L336.61 149.5L337.31 149.9L338.88 128.89L340.34 149.9L340.99 149.9L342.69 129.09L344.29 149.5L344.99 149.9L346.56 128.89L348.01 149.9L348.66 149.9L350.36 129.09L351.96 149.5L352.66 149.9L354.23 128.89L355.68 149.9L356.33 149.9L358.03 129.09L359.63 149.5L360.33 149.9L361.9 128.89L363.35 149.9L364 149.9L365.7 129.09L367.3 149.5L368 149.9L369.57 128.89L371.03 149.9L371.68 149.9L373.38 129.09L374.98 149.5L375.67 149.9L377.25 128.89L378.7 149.9L379.35 149.9L381.05 129.09L382.65 149.5L383.35 149.9L384.92 128.89L386.37 149.9L387.02 149.9L388.72 129.09L390.32 149.5L391.02 149.9L392.59 128.89L394.04 149.9L394.69 149.9L396.39 129.09L397.99 149.5L398.69 149.9L400.26 128.89L401.72 149.9L402.37 149.9L404.06 129.09L405.67 149.5L406.37 149.9L407.94 128.89L409.39 149.9L410.04 149.9L411.74 129.09L413.34 149.5L414.04 149.9L415.61 128.89L417.06 149.9L417.71 149.9L419.41 129.09L421.01 149.5L421.71 149.9L423.28 128.89L424.73 149.9L425.38 149.9L427.08 129.09L428.68 149.5L429.38 149.9L430.95 128.89L432.41 149.9L433.06 149.9L434.75 129.09L436.36 149.5L437.06 149.9L438.63 128.89L440.08 149.9L440.73 149.9L442.43 129.09L444.03 149.5L444.73 149.9L446.3 128.89L447.75 149.9L448.4 149.9L450.1 129.09L451.7 149.5L452.4 149.9L453.97 128.89L455.42 149.9L456.07 149.9L457.77 129.09L459.37 149.5L460.07 149.9L461.64 128.89L463.1 149.9L463.75 149.9L465.44 129.09L467.05 149.5L467.75 149.9L469.32 128.89L470.77 149.9L471.42 149.9L473.12 129.09L474.72 149.5L475.42 149.9L476.99 128.89L478.44 149.9L479.09 149.9L480.79 129.09L482.39 149.5L483.09 149.9L484.66 128.89L486.11 149.9L486.76 149.9L488.46 129.09L490.06 149.5L490.76 149.9L492.33 128.89L493.79 149.9L494.44 149.9L496.13 129.09L497.74 149.5L498.44 149.9L500.01 128.89L501.46 149.9L502.11 149.9L503.81 129.09L505.41 149.5L506.11 149.9L507.68 128.89L509.13 149.9L509.78 149.9L511.48 129.09L513.08 149.5L513.78 149.9L515.35 128.89L516.8 149.9L517.45 149.9L519.15 129.09L520.75 149.5L521.45 149.9L523.02 128.89L524.48 149.9L525.12 149.9L526.83 129.09L528.42 149.5L529.12 149.9L530.7 128.89L532.15 149.9L532.8 149.9L534.5 129.09L536.1 149.5L536.8 149.9L538.37 128.89L539.82 149.9L540.47 149.9L542.17 129.09L543.77 149.5L544.47 149.9L546.04 128.89L547.49 149.9L548.14 149.9L549.84 129.09L551.44 149.5L552.14 149.9L553.72 128.89L555.17 149.9L555.82 149.9L557.52 129.09L559.12 149.5L559.81 149.9L561.39 128.89L562.84 149.9L563.49 149.9L565.19 129.09L566.79 149.5L567.49 149.9L569.06 128.89L570.51 149.9L571.16 149.9L572.86 129.09L574.46 149.5L575.16 149.9L576.73 128.89L578.18 149.9L578.83 149.9L580.53 129.09L582.13 149.5L582.83 149.9L584.4 128.89L585.86 149.9L586.5 149.9L588.21 129.09L589.8 149.5L590.5 149.9L592.08 128.89L593.53 149.9L594.18 149.9L595.88 129.09L597.48 149.5L598.18 149.9L599.75 128.89L601.2 149.9L601.85 149.9L603.55 129.09L605.15 149.5L605.85 149.9L607.42 128.89L608.87 149.9L609.52 149.9L611.22 129.09L612.82 149.5L613.52 149.9L615.09 128.89L616.54 149.9L617.19 149.9L618.89 129.09L620.49 149.5L621.2 149.9L622.77 128.89L624.22 149.9L624.87 149.9L626.57 129.09L628.17 149.5L628.87 149.9L630.44 128.89L631.89 149.9L632.54 149.9L634.24 129.09L635.84 149.5L636.54 149.9L638.11 128.89L639.56 149.9L640.21 149.9L641.91 129.09L643.51 149.5L644.21 149.9L645.78 128.89L647.24 149.9L647.88 149.9L649.59 129.09L651.18 149.5L651.88 149.9L653.46 128.89L654.91 149.9L655.56 149.9L657.26 129.09L658.86 149.5L659.56 149.9L661.13 128.89L662.58 149.9L663.23 149.9L664.93 129.09L666.53 149.5L667.23 149.9L668.8 128.89L670.25 149.9L670.9 149.9L672.6 129.09L674.2 149.5L674.9 149.9L676.48 128.89L677.93 149.9L678.58 149.9L680.28 129.09L681.88 149.5L682.58 149.9L684.15 128.89L685.6 149.9L686.25 149.9L687.95 129.09L689.55 149.5L690.25 149.9L691.82 128.89L693.27 149.9L693.92 149.9L695.62 129.09L697.22 149.5L697.92 149.9L699.49 128.89L700.94 149.9L701.59 149.9L703.29 129.09L704.89 149.5L705.59 149.9L707.16 128.89L708.62 149.9L709.26 149.9L710.97 129.09L712.56 149.5L713.26 149.9L714.84 128.89L716.29 149.9L716.94 149.9L718.64 129.09L720.24 149.5L720.94 149.9L722.51 128.89L723.96 149.9L724.61 149.9L726.31 129.09L727.91 149.5L728.61 149.9L730.18 128.89L731.63 149.9L732.28 149.9L733.98 129.09L735.58 149.5L736.28 149.9L737.86 128.89L739.31 149.9L739.96 149.9L741.66 129.09L743.25 149.5L743.96 149.9L745.53 128.89L746.98 149.9L747.63 149.9L749.33 129.09L750.93 149.5L751.63 149.9L753.2 128.89L754.65 149.9L755.3 149.9L757 129.09L758.6 149.5L759.3 149.9L760.87 128.89L762.32 149.9L762.97 149.9L764.67 129.09L766.27 149.5L766.97 149.9L768.54 128.89L770 149.9L770.64 149.9L772.35 129.09L773.94 149.5L774.64 149.9L776.22 128.89L777.67 149.9L778.32 149.9L780.02 129.09L781.62 149.5L782.32 149.9L783.89 128.89L785.34 149.9L785.99 149.9L787.69 129.09L789.29 149.5L789.99 149.9L791.56 128.89L793.01 149.9L793.66 149.9L795.36 129.09L796.96 149.5L797.66 149.9L799.24 128.89L800.69 149.9L801.34 149.9L803.04 129.09L804.63 149.5L805.34 149.9L806.91 128.89L808.36 149.9L809.01 149.9L810.71 129.09L812.31 149.5L813.01 149.9L814.58 128.89L816.03 149.9L816.68 149.9L818.38 129.09L819.98 149.5L820.68 149.9L822.25 128.89L823.7 149.9L824.35 149.9L826.05 129.09L827.65 149.5L828.35 149.9L829.92 128.89L831.38 149.9L832.02 149.9L833.73 129.09L835.32 149.5L836.02 149.9L837.6 128.89L839.05 149.9L839.7 149.9L841.4 129.09L843 149.5L843.7 149.9L845.27 128.89L846.72 149.9L847.37 149.9L849.07 129.09L850.67 149.5L851.37 149.9L852.94 128.89L854.39 149.9L855.04 149.9L856.74 129.09L858.34 149.5L859.04 149.9L860.62 128.89L862.07 149.9L862.72 149.9L864.42 129.09L866.01 149.5L866.72 149.9L868.29 128.89L869.74 149.9L870.39 149.9L872.09 129.09L873.69 149.5L874.39 149.9L875.96 128.89L877.41 149.9L878.06 149.9L879.76 129.09L881.36 149.5L882.06 149.9L883.63 128.89L885.08 149.9L885.73 149.9L887.43 129.09L889.03 149.5L889.73 149.9L891.31 128.89L892.76 149.9L893.41 149.9L895.11 129.09L896.71 149.5L897.4 149.9L898.98 128.89L900.43 149.9L901.08 149.9L902.78 129.09L904.38 149.5L905.08 149.9L906.65 128.89" stroke="#FBC15E"/>
<path d="M137.5 130L139.5 130L141.5 147L143.5 131L145 148L148.42 128.99L149.58 146L149.6 154.8L150.42 154.8L150.44 148L151.16 131L152.67 148L156.09 128.99L157.25 146L157.28 154.8L158.09 154.8L158.12 148L158.84 131L160.34 148L163.77 128.99L164.93 146L164.95 154.8L165.77 154.8L165.79 148L166.51 131L168.02 148L171.44 128.99L172.6 146L172.62 154.8L173.44 154.8L173.46 148L174.18 131L175.69 148L179.11 128.99L180.27 146L180.29 154.8L181.11 154.8L181.13 148L181.85 131L183.36 148L186.78 128.99L187.94 146L187.97 154.8L188.78 154.8L188.81 148L189.53 131L191.03 148L194.46 128.99L195.62 146L195.64 154.8L196.46 154.8L196.48 148L197.2 131L198.71 148L202.13 128.99L203.29 146L203.31 154.8L204.13 154.8L204.15 148L204.87 131L206.38 148L209.8 128.99L210.96 146L210.98 154.8L211.8 154.8L211.82 148L212.54 131L214.05 148L217.48 128.99L218.64 146L218.66 154.8L219.48 154.8L219.5 148L220.22 131L221.73 148L225.15 128.99L226.31 146L226.33 154.8L227.15 154.8L227.17 148L227.89 131L229.4 148L232.82 128.99L233.98 146L234 154.8L234.82 154.8L234.84 148L235.56 131L237.07 148L240.49 128.99L241.65 146L241.67 154.8L242.49 154.8L242.51 148L243.23 131L244.74 148L248.17 128.99L249.33 146L249.35 154.8L250.17 154.8L250.19 148L250.91 131L252.42 148L255.84 128.99L257 146L257.02 154.8L257.84 154.8L257.86 148L258.58 131L260.09 148L263.51 128.99L264.67 146L264.69 154.8L265.51 154.8L265.53 148L266.25 131L267.76 148L271.18 128.99L272.34 146L272.36 154.8L273.18 154.8L273.2 148L273.92 131L275.43 148L278.86 128.99L280.02 146L280.04 154.8L280.86 154.8L280.88 148L281.6 131L283.11 148L286.53 128.99L287.69 146L287.71 154.8L288.53 154.8L288.55 148L289.27 131L290.78 148L294.2 128.99L295.36 146L295.38 154.8L296.2 154.8L296.22 148L296.94 131L298.45 148L301.87 128.99L303.03 146L303.05 154.8L303.87 154.8L303.89 148L304.61 131L306.12 148L309.55 128.99L310.71 146L310.73 154.8L311.55 154.8L311.56 148L312.29 131L313.8 148L317.22 128.99L318.38 146L318.4 154.8L319.22 154.8L319.24 148L319.96 131L321.47 148L324.89 128.99L326.05 146L326.07 154.8L326.89 154.8L326.91 148L327.63 131L329.14 148L332.56 128.99L333.72 146L333.74 154.8L334.56 154.8L334.58 148L335.3 131L336.81 148L340.24 128.99L341.4 146L341.42 154.8L342.24 154.8L342.25 148L342.98 131L344.49 148L347.91 128.99L349.07 146L349.09 154.8L349.91 154.8L349.93 148L350.65 131L352.16 148L355.58 128.99L356.74 146L356.76 154.8L357.58 154.8L357.6 148L358.32 131L359.83 148L363.25 128.99L364.41 146L364.43 154.8L365.25 154.8L365.27 148L365.99 131L367.5 148L370.93 128.99L372.09 146L372.11 154.8L372.93 154.8L372.94 148L373.67 131L375.18 148L378.6 128.99L379.76 146L379.78 154.8L380.6 154.8L380.62 148L381.34 131L382.85 148L386.27 128.99L387.43 146L387.45 154.8L388.27 154.8L388.29 148L389.01 131L390.52 148L393.94 128.99L395.1 146L395.12 154.8L395.94 154.8L395.96 148L396.68 131L398.19 148L401.62 128.99L402.78 146L402.8 154.8L403.62 154.8L403.63 148L404.36 131L405.87 148L409.29 128.99L410.45 146L410.47 154.8L411.29 154.8L411.31 148L412.03 131L413.54 148L416.96 128.99L418.12 146L418.14 154.8L418.96 154.8L418.98 148L419.7 131L421.21 148L424.63 128.99L425.79 146L425.81 154.8L426.63 154.8L426.65 148L427.37 131L428.88 148L432.31 128.99L433.47 146L433.49 154.8L434.31 154.8L434.32 148L435.05 131L436.56 148L439.98 128.99L441.14 146L441.16 154.8L441.98 154.8L442 148L442.72 131L444.23 148L447.65 128.99L448.81 146L448.83 154.8L449.65 154.8L449.67 148L450.39 131L451.9 148L455.32 128.99L456.48 146L456.5 154.8L457.32 154.8L457.34 148L458.06 131L459.57 148L463 128.99L464.16 146L464.18 154.8L465 154.8L465.01 148L465.74 131L467.25 148L470.67 128.99L471.83 146L471.85 154.8L472.67 154.8L472.69 148L473.41 131L474.92 148L478.34 128.99L479.5 146L479.52 154.8L480.34 154.8L480.36 148L481.08 131L482.59 148L486.01 128.99L487.17 146L487.19 154.8L488.01 154.8L488.03 148L488.75 131L490.26 148L493.69 128.99L494.85 146L494.87 154.8L495.69 154.8L495.7 148L496.43 131L497.94 148L501.36 128.99L502.52 146L502.54 154.8L503.36 154.8L503.38 148L504.1 131L505.61 148L509.03 128.99L510.19 146L510.21 154.8L511.03 154.8L511.05 148L511.77 131L513.28 148L516.7 128.99L517.86 146L517.88 154.8L518.7 154.8L518.72 148L519.44 131L520.95 148L524.38 128.99L525.53 146L525.55 154.8L526.38 154.8L526.39 148L527.12 131L528.62 148L532.05 128.99L533.21 146L533.23 154.8L534.05 154.8L534.07 148L534.79 131L536.3 148L539.72 128.99L540.88 146L540.9 154.8L541.72 154.8L541.74 148L542.46 131L543.97 148L547.39 128.99L548.55 146L548.57 154.8L549.39 154.8L549.41 148L550.13 131L551.64 148L555.07 128.99L556.23 146L556.25 154.8L557.07 154.8L557.09 148L557.81 131L559.32 148L562.74 128.99L563.9 146L563.92 154.8L564.74 154.8L564.76 148L565.48 131L566.99 148L570.41 128.99L571.57 146L571.59 154.8L572.41 154.8L572.43 148L573.15 131L574.66 148L578.08 128.99L579.24 146L579.26 154.8L580.08 154.8L580.1 148L580.82 131L582.33 148L585.75 128.99L586.91 146L586.93 154.8L587.75 154.8L587.77 148L588.5 131L590 148L593.43 128.99L594.59 146L594.61 154.8L595.43 154.8L595.45 148L596.17 131L597.68 148L601.1 128.99L602.26 146L602.28 154.8L603.1 154.8L603.12 148L603.84 131L605.35 148L608.77 128.99L609.93 146L609.95 154.8L610.77 154.8L610.79 148L611.51 131L613.02 148L616.44 128.99L617.6 146L617.62 154.8L618.44 154.8L618.46 148L619.18 131L620.69 148L624.12 128.99L625.28 146L625.3 154.8L626.12 154.8L626.14 148L626.86 131L628.37 148L631.79 128.99L632.95 146L632.97 154.8L633.79 154.8L633.81 148L634.53 131L636.04 148L639.46 128.99L640.62 146L640.64 154.8L641.46 154.8L641.48 148L642.2 131L643.71 148L647.13 128.99L648.29 146L648.31 154.8L649.13 154.8L649.15 148L649.88 131L651.38 148L654.81 128.99L655.97 146L655.99 154.8L656.81 154.8L656.83 148L657.55 131L659.06 148L662.48 128.99L663.64 146L663.66 154.8L664.48 154.8L664.5 148L665.22 131L666.73 148L670.15 128.99L671.31 146L671.33 154.8L672.15 154.8L672.17 148L672.89 131L674.4 148L677.83 128.99L678.99 146L679 154.8L679.83 154.8L679.85 148L680.57 131L682.08 148L685.5 128.99L686.66 146L686.68 154.8L687.5 154.8L687.52 148L688.24 131L689.75 148L693.17 128.99L694.33 146L694.35 154.8L695.17 154.8L695.19 148L695.91 131L697.42 148L700.84 128.99L702 146L702.02 154.8L702.84 154.8L702.86 148L703.58 131L705.09 148L708.51 128.99L709.67 146L709.69 154.8L710.51 154.8L710.53 148L711.25 131L712.76 148L716.19 128.99L717.35 146L717.37 154.8L718.19 154.8L718.21 148L718.93 131L720.44 148L723.86 128.99L725.02 146L725.04 154.8L725.86 154.8L725.88 148L726.6 131L728.11 148L731.53 128.99L732.69 146L732.71 154.8L733.53 154.8L733.55 148L734.27 131L735.78 148L739.21 128.99L740.37 146L740.38 154.8L741.21 154.8L741.23 148L741.95 131L743.46 148L746.88 128.99L748.04 146L748.06 154.8L748.88 154.8L748.9 148L749.62 131L751.13 148L754.55 128.99L755.71 146L755.73 154.8L756.55 154.8L756.57 148L757.29 131L758.8 148L762.22 128.99L763.38 146L763.4 154.8L764.22 154.8L764.24 148L764.96 131L766.47 148L769.89 128.99L771.05 146L771.07 154.8L771.89 154.8L771.91 148L772.63 131L774.14 148L777.57 128.99L778.73 146L778.75 154.8L779.57 154.8L779.59 148L780.31 131L781.82 148L785.24 128.99L786.4 146L786.42 154.8L787.24 154.8L787.26 148L787.98 131L789.49 148L792.91 128.99L794.07 146L794.09 154.8L794.91 154.8L794.93 148L795.65 131L797.16 148L800.59 128.99L801.75 146L801.76 154.8L802.59 154.8L802.61 148L803.33 131L804.84 148L808.26 128.99L809.42 146L809.44 154.8L810.26 154.8L810.28 148L811 131L812.51 148L815.93 128.99L817.09 146L817.11 154.8L817.93 154.8L817.95 148L818.67 131L820.18 148L823.6 128.99L824.76 146L824.78 154.8L825.6 154.8L825.62 148L826.34 131L827.85 148L831.27 128.99L832.43 146L832.45 154.8L833.27 154.8L833.29 148L834.01 131L835.52 148L838.95 128.99L840.11 146L840.13 154.8L840.95 154.8L840.97 148L841.69 131L843.2 148L846.62 128.99L847.78 146L847.8 154.8L848.62 154.8L848.64 148L849.36 131L850.87 148L854.29 128.99L855.45 146L855.47 154.8L856.29 154.8L856.31 148L857.03 131L858.54 148L861.97 128.99L863.12 146L863.14 154.8L863.97 154.8L863.99 148L864.71 131L866.22 148L869.64 128.99L870.8 146L870.82 154.8L871.64 154.8L871.66 148L872.38 131L873.89 148L877.31 128.99L878.47 146L878.49 154.8L879.31 154.8L879.33 148L880.05 131L881.56 148L884.98 128.99L886.14 146L886.16 154.8L886.98 154.8L887 148L887.72 131L889.23 148L892.66 128.99L893.82 146L893.84 154.8L894.66 154.8L894.68 148L895.4 131L896.91 148L900.33 128.99L901.49 146L901.51 154.8L902.33 154.8L902.35 148L903.07 131L904.58 148" stroke="#8EBA42"/>
<path d="M135.43 322.3L137.13 304.5L139.4 322.3L140.95 300L143.1 322.3L144.8 304.5L147.07 322.3L148.62 300L150.77 322.3L152.47 304.5L154.75 322.3L156.29 300L158.44 322.3L160.15 304.5L162.42 322.3L163.97 300L166.12 322.3L167.82 304.5L170.09 322.3L171.64 300L173.79 322.3L175.49 304.5L177.76 322.3L179.31 300L181.46 322.3L183.16 304.5L185.44 322.3L186.98 300L189.13 322.3L190.84 304.5L193.11 322.3L194.66 300L196.81 322.3L198.51 304.5L200.78 322.3L202.33 300L204.48 322.3L206.18 304.5L208.45 322.3L210 300L212.15 322.3L213.85 304.5L216.13 322.3L217.68 300L219.83 322.3L221.53 304.5L223.8 322.3L225.35 300L227.5 322.3L229.2 304.5L231.47 322.3L233.02 300L235.17 322.3L236.87 304.5L239.14 322.3L240.69 300L242.84 322.3L244.54 304.5L246.82 322.3L248.37 300L250.52 322.3L252.22 304.5L254.49 322.3L256.04 300L258.19 322.3L259.89 304.5L262.16 322.3L263.71 300L265.86 322.3L267.56 304.5L269.83 322.3L271.38 300L273.53 322.3L275.23 304.5L277.5 322.3L279.06 300L281.21 322.3L282.91 304.5L285.18 322.3L286.73 300L288.88 322.3L290.58 304.5L292.85 322.3L294.4 300L296.55 322.3L298.25 304.5L300.52 322.3L302.07 300L304.22 322.3L305.92 304.5L308.19 322.3L309.75 300L311.9 322.3L313.6 304.5L315.87 322.3L317.42 300L319.57 322.3L321.27 304.5L323.54 322.3L325.09 300L327.24 322.3L328.94 304.5L331.21 322.3L332.76 300L334.91 322.3L336.61 304.5L338.88 322.3L340.44 300L342.59 322.3L344.29 304.5L346.56 322.3L348.11 300L350.26 322.3L351.96 304.5L354.23 322.3L355.78 300L357.93 322.3L359.63 304.5L361.9 322.3L363.45 300L365.6 322.3L367.3 304.5L369.57 322.3L371.12 300L373.28 322.3L374.98 304.5L377.25 322.3L378.8 300L380.95 322.3L382.65 304.5L384.92 322.3L386.47 300L388.62 322.3L390.32 304.5L392.59 322.3L394.14 300L396.29 322.3L397.99 304.5L400.26 322.3L401.81 300L403.97 322.3L405.67 304.5L407.94 322.3L409.49 300L411.64 322.3L413.34 304.5L415.61 322.3L417.16 300L419.31 322.3L421.01 304.5L423.28 322.3L424.83 300L426.98 322.3L428.68 304.5L430.95 322.3L432.5 300L434.66 322.3L436.36 304.5L438.63 322.3L440.18 300L442.33 322.3L444.03 304.5L446.3 322.3L447.85 300L450 322.3L451.7 304.5L453.97 322.3L455.52 300L457.67 322.3L459.37 304.5L461.64 322.3L463.19 300L465.35 322.3L467.05 304.5L469.32 322.3L470.87 300L473.02 322.3L474.72 304.5L476.99 322.3L478.54 300L480.69 322.3L482.39 304.5L484.66 322.3L486.21 300L488.36 322.3L490.06 304.5L492.33 322.3L493.88 300L496.04 322.3L497.74 304.5L500.01 322.3L501.56 300L503.71 322.3L505.41 304.5L507.68 322.3L509.23 300L511.38 322.3L513.08 304.5L515.35 322.3L516.9 300L519.05 322.3L520.75 304.5L523.02 322.3L524.58 300L526.73 322.3L528.42 304.5L530.7 322.3L532.25 300L534.4 322.3L536.1 304.5L538.37 322.3L539.92 300L542.07 322.3L543.77 304.5L546.04 322.3L547.59 300L549.74 322.3L551.44 304.5L553.72 322.3L555.27 300L557.42 322.3L559.12 304.5L561.39 322.3L562.94 300L565.09 322.3L566.79 304.5L569.06 322.3L570.61 300L572.76 322.3L574.46 304.5L576.73 322.3L578.28 300L580.43 322.3L582.13 304.5L584.4 322.3L585.96 300L588.11 322.3L589.8 304.5L592.08 322.3L593.63 300L595.78 322.3L597.48 304.5L599.75 322.3L601.3 300L603.45 322.3L605.15 304.5L607.42 322.3L608.97 300L611.12 322.3L612.82 304.5L615.09 322.3L616.64 300L618.79 322.3L620.49 304.5L622.77 322.3L624.32 300L626.47 322.3L628.17 304.5L630.44 322.3L631.99 300L634.14 322.3L635.84 304.5L638.11 322.3L639.66 300L641.81 322.3L643.51 304.5L645.78 322.3L647.34 300L649.49 322.3L651.18 304.5L653.46 322.3L655.01 300L657.16 322.3L658.86 304.5L661.13 322.3L662.68 300L664.83 322.3L666.53 304.5L668.8 322.3L670.35 300L672.5 322.3L674.2 304.5L676.48 322.3L678.03 300L680.18 322.3L681.88 304.5L684.15 322.3L685.7 300L687.85 322.3L689.55 304.5L691.82 322.3L693.37 300L695.52 322.3L697.22 304.5L699.49 322.3L701.04 300L703.19 322.3L704.89 304.5L707.16 322.3L708.72 300L710.87 322.3L712.56 304.5L714.84 322.3L716.39 300L718.54 322.3L720.24 304.5L722.51 322.3L724.06 300L726.21 322.3L727.91 304.5L730.18 322.3L731.73 300L733.88 322.3L735.58 304.5L737.86 322.3L739.41 300L741.56 322.3L743.25 304.5L745.53 322.3L747.08 300L749.23 322.3L750.93 304.5L753.2 322.3L754.75 300L756.9 322.3L758.6 304.5L760.87 322.3L762.42 300L764.57 322.3L766.27 304.5L768.54 322.3L770.1 300L772.25 322.3L773.94 304.5L776.22 322.3L777.77 300L779.92 322.3L781.62 304.5L783.89 322.3L785.44 300L787.59 322.3L789.29 304.5L791.56 322.3L793.11 300L795.26 322.3L796.96 304.5L799.24 322.3L800.79 300L802.94 322.3L804.63 304.5L806.91 322.3L808.46 300L810.61 322.3L812.31 304.5L814.58 322.3L816.13 300L818.28 322.3L819.98 304.5L822.25 322.3L823.8 300L825.95 322.3L827.65 304.5L829.92 322.3L831.48 300L833.62 322.3L835.32 304.5L837.6 322.3L839.15 300L841.3 322.3L843 304.5L845.27 322.3L846.82 300L848.97 322.3L850.67 304.5L852.94 322.3L854.49 300L856.64 322.3L858.34 304.5L860.62 322.3L862.17 300L864.32 322.3L866.01 304.5L868.29 322.3L869.84 300L871.99 322.3L873.69 304.5L875.96 322.3L877.51 300L879.66 322.3L881.36 304.5L883.63 322.3L885.18 300L887.33 322.3L889.03 304.5L891.31 322.3L892.86 300L895.01 322.3L896.71 304.5L898.98 322.3L900.53 300L902.68 322.3L904.38 304.5L906.65 322.3" stroke="#FFB5B8"/>
<path d="M137.5 129L139.9 129L140.6 141L141 128.8L141.45 148.8L141.7 148.8L142.4 134.49L143.2 148.8L143.9 129.49L144.7 148.8L145.25 132.49L145.6 148.8L146.97 128.49L148.32 148.8L148.87 135.49L149.37 148.8L150.07 134.49L150.87 148.8L151.57 129.49L152.37 148.8L152.92 132.49L153.27 148.8L154.65 128.49L156 148.8L156.54 135.49L157.04 148.8L157.75 134.49L158.54 148.8L159.25 129.49L160.04 148.8L160.59 132.49L160.95 148.8L162.32 128.49L163.67 148.8L164.22 135.49L164.72 148.8L165.42 134.49L166.22 148.8L166.92 129.49L167.72 148.8L168.27 132.49L168.62 148.8L169.99 128.49L171.34 148.8L171.89 135.49L172.39 148.8L173.09 134.49L173.89 148.8L174.59 129.49L175.39 148.8L175.94 132.49L176.29 148.8L177.66 128.49L179.01 148.8L179.56 135.49L180.06 148.8L180.76 134.49L181.56 148.8L182.26 129.49L183.06 148.8L183.61 132.49L183.96 148.8L185.34 128.49L186.69 148.8L187.23 135.49L187.73 148.8L188.44 134.49L189.23 148.8L189.94 129.49L190.73 148.8L191.28 132.49L191.64 148.8L193.01 128.49L194.36 148.8L194.91 135.49L195.41 148.8L196.11 134.49L196.91 148.8L197.61 129.49L198.41 148.8L198.96 132.49L199.31 148.8L200.68 128.49L202.03 148.8L202.58 135.49L203.08 148.8L203.78 134.49L204.58 148.8L205.28 129.49L206.08 148.8L206.63 132.49L206.98 148.8L208.35 128.49L209.7 148.8L210.25 135.49L210.75 148.8L211.45 134.49L212.25 148.8L212.95 129.49L213.75 148.8L214.3 132.49L214.65 148.8L216.03 128.49L217.38 148.8L217.93 135.49L218.43 148.8L219.13 134.49L219.93 148.8L220.63 129.49L221.43 148.8L221.97 132.49L222.33 148.8L223.7 128.49L225.05 148.8L225.6 135.49L226.1 148.8L226.8 134.49L227.6 148.8L228.3 129.49L229.1 148.8L229.65 132.49L230 148.8L231.37 128.49L232.72 148.8L233.27 135.49L233.77 148.8L234.47 134.49L235.27 148.8L235.97 129.49L236.77 148.8L237.32 132.49L237.67 148.8L239.04 128.49L240.39 148.8L240.94 135.49L241.44 148.8L242.14 134.49L242.94 148.8L243.64 129.49L244.44 148.8L244.99 132.49L245.34 148.8L246.72 128.49L248.07 148.8L248.62 135.49L249.12 148.8L249.82 134.49L250.62 148.8L251.32 129.49L252.12 148.8L252.66 132.49L253.02 148.8L254.39 128.49L255.74 148.8L256.29 135.49L256.79 148.8L257.49 134.49L258.29 148.8L258.99 129.49L259.79 148.8L260.34 132.49L260.69 148.8L262.06 128.49L263.41 148.8L263.96 135.49L264.46 148.8L265.16 134.49L265.96 148.8L266.66 129.49L267.46 148.8L268.01 132.49L268.36 148.8L269.73 128.49L271.08 148.8L271.63 135.49L272.13 148.8L272.83 134.49L273.63 148.8L274.33 129.49L275.13 148.8L275.68 132.49L276.03 148.8L277.41 128.49L278.75 148.8L279.31 135.49L279.81 148.8L280.5 134.49L281.31 148.8L282 129.49L282.81 148.8L283.36 132.49L283.71 148.8L285.08 128.49L286.43 148.8L286.98 135.49L287.48 148.8L288.18 134.49L288.98 148.8L289.68 129.49L290.48 148.8L291.03 132.49L291.38 148.8L292.75 128.49L294.1 148.8L294.65 135.49L295.15 148.8L295.85 134.49L296.65 148.8L297.35 129.49L298.15 148.8L298.7 132.49L299.05 148.8L300.42 128.49L301.77 148.8L302.32 135.49L302.82 148.8L303.52 134.49L304.32 148.8L305.02 129.49L305.82 148.8L306.37 132.49L306.72 148.8L308.1 128.49L309.44 148.8L310 135.49L310.5 148.8L311.19 134.49L312 148.8L312.69 129.49L313.5 148.8L314.04 132.49L314.39 148.8L315.77 128.49L317.12 148.8L317.67 135.49L318.17 148.8L318.87 134.49L319.67 148.8L320.37 129.49L321.17 148.8L321.72 132.49L322.07 148.8L323.44 128.49L324.79 148.8L325.34 135.49L325.84 148.8L326.54 134.49L327.34 148.8L328.04 129.49L328.84 148.8L329.39 132.49L329.74 148.8L331.11 128.49L332.46 148.8L333.01 135.49L333.51 148.8L334.21 134.49L335.01 148.8L335.71 129.49L336.51 148.8L337.06 132.49L337.41 148.8L338.79 128.49L340.13 148.8L340.69 135.49L341.19 148.8L341.88 134.49L342.69 148.8L343.38 129.49L344.19 148.8L344.74 132.49L345.09 148.8L346.46 128.49L347.81 148.8L348.36 135.49L348.86 148.8L349.56 134.49L350.36 148.8L351.06 129.49L351.86 148.8L352.41 132.49L352.76 148.8L354.13 128.49L355.48 148.8L356.03 135.49L356.53 148.8L357.23 134.49L358.03 148.8L358.73 129.49L359.53 148.8L360.08 132.49L360.43 148.8L361.8 128.49L363.15 148.8L363.7 135.49L364.2 148.8L364.9 134.49L365.7 148.8L366.4 129.49L367.2 148.8L367.75 132.49L368.1 148.8L369.48 128.49L370.82 148.8L371.38 135.49L371.88 148.8L372.57 134.49L373.38 148.8L374.07 129.49L374.88 148.8L375.42 132.49L375.77 148.8L377.15 128.49L378.5 148.8L379.05 135.49L379.55 148.8L380.25 134.49L381.05 148.8L381.75 129.49L382.55 148.8L383.1 132.49L383.45 148.8L384.82 128.49L386.17 148.8L386.72 135.49L387.22 148.8L387.92 134.49L388.72 148.8L389.42 129.49L390.22 148.8L390.77 132.49L391.12 148.8L392.49 128.49L393.84 148.8L394.39 135.49L394.89 148.8L395.59 134.49L396.39 148.8L397.09 129.49L397.89 148.8L398.44 132.49L398.79 148.8L400.17 128.49L401.51 148.8L402.06 135.49L402.56 148.8L403.26 134.49L404.06 148.8L404.76 129.49L405.56 148.8L406.12 132.49L406.47 148.8L407.84 128.49L409.19 148.8L409.74 135.49L410.24 148.8L410.94 134.49L411.74 148.8L412.44 129.49L413.24 148.8L413.79 132.49L414.14 148.8L415.51 128.49L416.86 148.8L417.41 135.49L417.91 148.8L418.61 134.49L419.41 148.8L420.11 129.49L420.91 148.8L421.46 132.49L421.81 148.8L423.18 128.49L424.53 148.8L425.08 135.49L425.58 148.8L426.28 134.49L427.08 148.8L427.78 129.49L428.58 148.8L429.13 132.49L429.48 148.8L430.86 128.49L432.2 148.8L432.75 135.49L433.25 148.8L433.95 134.49L434.75 148.8L435.45 129.49L436.25 148.8L436.81 132.49L437.16 148.8L438.53 128.49L439.88 148.8L440.43 135.49L440.93 148.8L441.63 134.49L442.43 148.8L443.13 129.49L443.93 148.8L444.48 132.49L444.83 148.8L446.2 128.49L447.55 148.8L448.1 135.49L448.6 148.8L449.3 134.49L450.1 148.8L450.8 129.49L451.6 148.8L452.15 132.49L452.5 148.8L453.87 128.49L455.22 148.8L455.77 135.49L456.27 148.8L456.97 134.49L457.77 148.8L458.47 129.49L459.27 148.8L459.82 132.49L460.17 148.8L461.55 128.49L462.89 148.8L463.44 135.49L463.94 148.8L464.64 134.49L465.44 148.8L466.14 129.49L466.94 148.8L467.5 132.49L467.85 148.8L469.22 128.49L470.57 148.8L471.12 135.49L471.62 148.8L472.32 134.49L473.12 148.8L473.82 129.49L474.62 148.8L475.17 132.49L475.52 148.8L476.89 128.49L478.24 148.8L478.79 135.49L479.29 148.8L479.99 134.49L480.79 148.8L481.49 129.49L482.29 148.8L482.84 132.49L483.19 148.8L484.56 128.49L485.91 148.8L486.46 135.49L486.96 148.8L487.66 134.49L488.46 148.8L489.16 129.49L489.96 148.8L490.51 132.49L490.86 148.8L492.24 128.49L493.58 148.8L494.13 135.49L494.63 148.8L495.33 134.49L496.13 148.8L496.83 129.49L497.63 148.8L498.19 132.49L498.54 148.8L499.91 128.49L501.26 148.8L501.81 135.49L502.31 148.8L503.01 134.49L503.81 148.8L504.51 129.49L505.31 148.8L505.86 132.49L506.21 148.8L507.58 128.49L508.93 148.8L509.48 135.49L509.98 148.8L510.68 134.49L511.48 148.8L512.18 129.49L512.98 148.8L513.53 132.49L513.88 148.8L515.25 128.49L516.6 148.8L517.15 135.49L517.65 148.8L518.35 134.49L519.15 148.8L519.85 129.49L520.65 148.8L521.2 132.49L521.55 148.8L522.92 128.49L524.27 148.8L524.83 135.49L525.33 148.8L526.02 134.49L526.83 148.8L527.52 129.49L528.33 148.8L528.88 132.49L529.23 148.8L530.6 128.49L531.95 148.8L532.5 135.49L533 148.8L533.7 134.49L534.5 148.8L535.2 129.49L536 148.8L536.55 132.49L536.9 148.8L538.27 128.49L539.62 148.8L540.17 135.49L540.67 148.8L541.37 134.49L542.17 148.8L542.87 129.49L543.67 148.8L544.22 132.49L544.57 148.8L545.94 128.49L547.29 148.8L547.84 135.49L548.34 148.8L549.04 134.49L549.84 148.8L550.54 129.49L551.34 148.8L551.89 132.49L552.24 148.8L553.62 128.49L554.97 148.8L555.52 135.49L556.02 148.8L556.72 134.49L557.52 148.8L558.22 129.49L559.02 148.8L559.56 132.49L559.91 148.8L561.29 128.49L562.64 148.8L563.19 135.49L563.69 148.8L564.39 134.49L565.19 148.8L565.89 129.49L566.69 148.8L567.24 132.49L567.59 148.8L568.96 128.49L570.31 148.8L570.86 135.49L571.36 148.8L572.06 134.49L572.86 148.8L573.56 129.49L574.36 148.8L574.91 132.49L575.26 148.8L576.63 128.49L577.98 148.8L578.53 135.49L579.03 148.8L579.73 134.49L580.53 148.8L581.23 129.49L582.03 148.8L582.58 132.49L582.93 148.8L584.3 128.49L585.65 148.8L586.21 135.49L586.71 148.8L587.4 134.49L588.21 148.8L588.9 129.49L589.71 148.8L590.25 132.49L590.61 148.8L591.98 128.49L593.33 148.8L593.88 135.49L594.38 148.8L595.08 134.49L595.88 148.8L596.58 129.49L597.38 148.8L597.93 132.49L598.28 148.8L599.65 128.49L601 148.8L601.55 135.49L602.05 148.8L602.75 134.49L603.55 148.8L604.25 129.49L605.05 148.8L605.6 132.49L605.95 148.8L607.32 128.49L608.67 148.8L609.22 135.49L609.72 148.8L610.42 134.49L611.22 148.8L611.92 129.49L612.72 148.8L613.27 132.49L613.62 148.8L614.99 128.49L616.34 148.8L616.89 135.49L617.39 148.8L618.09 134.49L618.89 148.8L619.59 129.49L620.39 148.8L620.95 132.49L621.3 148.8L622.67 128.49L624.02 148.8L624.57 135.49L625.07 148.8L625.77 134.49L626.57 148.8L627.27 129.49L628.07 148.8L628.62 132.49L628.97 148.8L630.34 128.49L631.69 148.8L632.24 135.49L632.74 148.8L633.44 134.49L634.24 148.8L634.94 129.49L635.74 148.8L636.29 132.49L636.64 148.8L638.01 128.49L639.36 148.8L639.91 135.49L640.41 148.8L641.11 134.49L641.91 148.8L642.61 129.49L643.41 148.8L643.96 132.49L644.31 148.8L645.68 128.49L647.03 148.8L647.59 135.49L648.09 148.8L648.78 134.49L649.59 148.8L650.28 129.49L651.09 148.8L651.63 132.49L651.99 148.8L653.36 128.49L654.71 148.8L655.26 135.49L655.76 148.8L656.46 134.49L657.26 148.8L657.96 129.49L658.76 148.8L659.31 132.49L659.66 148.8L661.03 128.49L662.38 148.8L662.93 135.49L663.43 148.8L664.13 134.49L664.93 148.8L665.63 129.49L666.43 148.8L666.98 132.49L667.33 148.8L668.7 128.49L670.05 148.8L670.6 135.49L671.1 148.8L671.8 134.49L672.6 148.8L673.3 129.49L674.1 148.8L674.65 132.49L675 148.8L676.38 128.49L677.73 148.8L678.28 135.49L678.78 148.8L679.48 134.49L680.28 148.8L680.98 129.49L681.78 148.8L682.33 132.49L682.68 148.8L684.05 128.49L685.4 148.8L685.95 135.49L686.45 148.8L687.15 134.49L687.95 148.8L688.65 129.49L689.45 148.8L690 132.49L690.35 148.8L691.72 128.49L693.07 148.8L693.62 135.49L694.12 148.8L694.82 134.49L695.62 148.8L696.32 129.49L697.12 148.8L697.67 132.49L698.02 148.8L699.39 128.49L700.74 148.8L701.29 135.49L701.79 148.8L702.49 134.49L703.29 148.8L703.99 129.49L704.79 148.8L705.34 132.49L705.69 148.8L707.06 128.49L708.41 148.8L708.97 135.49L709.47 148.8L710.16 134.49L710.97 148.8L711.66 129.49L712.47 148.8L713.01 132.49L713.37 148.8L714.74 128.49L716.09 148.8L716.64 135.49L717.14 148.8L717.84 134.49L718.64 148.8L719.34 129.49L720.14 148.8L720.69 132.49L721.04 148.8L722.41 128.49L723.76 148.8L724.31 135.49L724.81 148.8L725.51 134.49L726.31 148.8L727.01 129.49L727.81 148.8L728.36 132.49L728.71 148.8L730.08 128.49L731.43 148.8L731.98 135.49L732.48 148.8L733.18 134.49L733.98 148.8L734.68 129.49L735.48 148.8L736.03 132.49L736.38 148.8L737.75 128.49L739.11 148.8L739.66 135.49L740.16 148.8L740.86 134.49L741.66 148.8L742.36 129.49L743.16 148.8L743.71 132.49L744.06 148.8L745.43 128.49L746.78 148.8L747.33 135.49L747.83 148.8L748.53 134.49L749.33 148.8L750.03 129.49L750.83 148.8L751.38 132.49L751.73 148.8L753.1 128.49L754.45 148.8L755 135.49L755.5 148.8L756.2 134.49L757 148.8L757.7 129.49L758.5 148.8L759.05 132.49L759.4 148.8L760.77 128.49L762.12 148.8L762.67 135.49L763.17 148.8L763.87 134.49L764.67 148.8L765.37 129.49L766.17 148.8L766.72 132.49L767.07 148.8L768.44 128.49L769.79 148.8L770.35 135.49L770.85 148.8L771.54 134.49L772.35 148.8L773.04 129.49L773.85 148.8L774.39 132.49L774.75 148.8L776.12 128.49L777.47 148.8L778.02 135.49L778.52 148.8L779.22 134.49L780.02 148.8L780.72 129.49L781.52 148.8L782.07 132.49L782.42 148.8L783.79 128.49L785.14 148.8L785.69 135.49L786.19 148.8L786.89 134.49L787.69 148.8L788.39 129.49L789.19 148.8L789.74 132.49L790.09 148.8L791.46 128.49L792.81 148.8L793.36 135.49L793.86 148.8L794.56 134.49L795.36 148.8L796.06 129.49L796.86 148.8L797.41 132.49L797.76 148.8L799.13 128.49L800.49 148.8L801.04 135.49L801.54 148.8L802.24 134.49L803.04 148.8L803.74 129.49L804.54 148.8L805.09 132.49L805.44 148.8L806.81 128.49L808.16 148.8L808.71 135.49L809.21 148.8L809.91 134.49L810.71 148.8L811.41 129.49L812.21 148.8L812.76 132.49L813.11 148.8L814.48 128.49L815.83 148.8L816.38 135.49L816.88 148.8L817.58 134.49L818.38 148.8L819.08 129.49L819.88 148.8L820.43 132.49L820.78 148.8L822.15 128.49L823.5 148.8L824.05 135.49L824.55 148.8L825.25 134.49L826.05 148.8L826.75 129.49L827.55 148.8L828.1 132.49L828.45 148.8L829.82 128.49L831.17 148.8L831.73 135.49L832.23 148.8L832.92 134.49L833.73 148.8L834.42 129.49L835.23 148.8L835.77 132.49L836.12 148.8L837.5 128.49L838.85 148.8L839.4 135.49L839.9 148.8L840.6 134.49L841.4 148.8L842.1 129.49L842.9 148.8L843.45 132.49L843.8 148.8L845.17 128.49L846.52 148.8L847.07 135.49L847.57 148.8L848.27 134.49L849.07 148.8L849.77 129.49L850.57 148.8L851.12 132.49L851.47 148.8L852.84 128.49L854.19 148.8L854.74 135.49L855.24 148.8L855.94 134.49L856.74 148.8L857.44 129.49L858.24 148.8L858.79 132.49L859.14 148.8L860.51 128.49L861.87 148.8L862.42 135.49L862.92 148.8L863.62 134.49L864.42 148.8L865.12 129.49L865.92 148.8L866.47 132.49L866.82 148.8L868.19 128.49L869.54 148.8L870.09 135.49L870.59 148.8L871.29 134.49L872.09 148.8L872.79 129.49L873.59 148.8L874.14 132.49L874.49 148.8L875.86 128.49L877.21 148.8L877.76 135.49L878.26 148.8L878.96 134.49L879.76 148.8L880.46 129.49L881.26 148.8L881.81 132.49L882.16 148.8L883.53 128.49L884.88 148.8L885.43 135.49L885.93 148.8L886.63 134.49L887.43 148.8L888.13 129.49L888.93 148.8L889.48 132.49L889.83 148.8L891.21 128.49L892.56 148.8L893.11 135.49L893.61 148.8L894.31 134.49L895.11 148.8L895.81 129.49L896.61 148.8L897.15 132.49L897.5 148.8L898.88 128.49L900.23 148.8L900.78 135.49L901.28 148.8L901.98 134.49L902.78 148.8L903.48 129.49L904.28 148.8L904.83 132.49L905.18 148.8L906.55 128.49" stroke="#E24A33"/>
<path d="M137.5 133L139.3 140L139.8 160L140.5 143L141.2 161.5L141.8 150L142 163L142.1 322.6L142.7 318L143.25 302.4L143.45 313L144 302.3L145.37 322.6L147.31 305L149.07 322.6L150.37 318L150.92 302.4L151.12 313L151.67 302.3L153.04 322.6L154.98 305L156.75 322.6L158.04 318L158.59 302.4L158.79 313L159.34 302.3L160.72 322.6L162.66 305L164.42 322.6L165.72 318L166.27 302.4L166.47 313L167.02 302.3L168.39 322.6L170.33 305L172.09 322.6L173.39 318L173.94 302.4L174.14 313L174.69 302.3L176.06 322.6L178 305L179.76 322.6L181.06 318L181.61 302.4L181.81 313L182.36 302.3L183.73 322.6L185.67 305L187.44 322.6L188.73 318L189.28 302.4L189.48 313L190.03 302.3L191.41 322.6L193.35 305L195.11 322.6L196.41 318L196.96 302.4L197.16 313L197.71 302.3L199.08 322.6L201.02 305L202.78 322.6L204.08 318L204.63 302.4L204.83 313L205.38 302.3L206.75 322.6L208.69 305L210.45 322.6L211.75 318L212.3 302.4L212.5 313L213.05 302.3L214.43 322.6L216.37 305L218.13 322.6L219.43 318L219.98 302.4L220.18 313L220.73 302.3L222.1 322.6L224.04 305L225.8 322.6L227.1 318L227.65 302.4L227.85 313L228.4 302.3L229.77 322.6L231.71 305L233.47 322.6L234.77 318L235.32 302.4L235.52 313L236.07 302.3L237.44 322.6L239.38 305L241.14 322.6L242.44 318L242.99 302.4L243.19 313L243.74 302.3L245.12 322.6L247.06 305L248.82 322.6L250.12 318L250.67 302.4L250.87 313L251.42 302.3L252.79 322.6L254.73 305L256.49 322.6L257.79 318L258.34 302.4L258.54 313L259.09 302.3L260.46 322.6L262.4 305L264.16 322.6L265.46 318L266.01 302.4L266.21 313L266.76 302.3L268.13 322.6L270.07 305L271.83 322.6L273.13 318L273.68 302.4L273.88 313L274.43 302.3L275.81 322.6L277.75 305L279.5 322.6L280.81 318L281.36 302.4L281.56 313L282.11 302.3L283.48 322.6L285.42 305L287.18 322.6L288.48 318L289.03 302.4L289.23 313L289.78 302.3L291.15 322.6L293.09 305L294.85 322.6L296.15 318L296.7 302.4L296.9 313L297.45 302.3L298.82 322.6L300.76 305L302.52 322.6L303.82 318L304.37 302.4L304.57 313L305.12 302.3L306.5 322.6L308.44 305L310.19 322.6L311.5 318L312.05 302.4L312.25 313L312.8 302.3L314.17 322.6L316.11 305L317.87 322.6L319.17 318L319.72 302.4L319.92 313L320.47 302.3L321.84 322.6L323.78 305L325.54 322.6L326.84 318L327.39 302.4L327.59 313L328.14 302.3L329.51 322.6L331.45 305L333.21 322.6L334.51 318L335.06 302.4L335.26 313L335.81 302.3L337.19 322.6L339.12 305L340.88 322.6L342.19 318L342.74 302.4L342.94 313L343.49 302.3L344.86 322.6L346.8 305L348.56 322.6L349.86 318L350.41 302.4L350.61 313L351.16 302.3L352.53 322.6L354.47 305L356.23 322.6L357.53 318L358.08 302.4L358.28 313L358.83 302.3L360.2 322.6L362.14 305L363.9 322.6L365.2 318L365.75 302.4L365.95 313L366.5 302.3L367.88 322.6L369.81 305L371.57 322.6L372.88 318L373.43 302.4L373.62 313L374.18 302.3L375.55 322.6L377.49 305L379.25 322.6L380.55 318L381.1 302.4L381.3 313L381.85 302.3L383.22 322.6L385.16 305L386.92 322.6L388.22 318L388.77 302.4L388.97 313L389.52 302.3L390.89 322.6L392.83 305L394.59 322.6L395.89 318L396.44 302.4L396.64 313L397.19 302.3L398.56 322.6L400.5 305L402.26 322.6L403.56 318L404.12 302.4L404.31 313L404.87 302.3L406.24 322.6L408.18 305L409.94 322.6L411.24 318L411.79 302.4L411.99 313L412.54 302.3L413.91 322.6L415.85 305L417.61 322.6L418.91 318L419.46 302.4L419.66 313L420.21 302.3L421.58 322.6L423.52 305L425.28 322.6L426.58 318L427.13 302.4L427.33 313L427.88 302.3L429.25 322.6L431.19 305L432.95 322.6L434.25 318L434.81 302.4L435 313L435.56 302.3L436.93 322.6L438.87 305L440.63 322.6L441.93 318L442.48 302.4L442.68 313L443.23 302.3L444.6 322.6L446.54 305L448.3 322.6L449.6 318L450.15 302.4L450.35 313L450.9 302.3L452.27 322.6L454.21 305L455.97 322.6L457.27 318L457.82 302.4L458.02 313L458.57 302.3L459.94 322.6L461.88 305L463.64 322.6L464.94 318L465.5 302.4L465.69 313L466.25 302.3L467.62 322.6L469.56 305L471.32 322.6L472.62 318L473.17 302.4L473.37 313L473.92 302.3L475.29 322.6L477.23 305L478.99 322.6L480.29 318L480.84 302.4L481.04 313L481.59 302.3L482.96 322.6L484.9 305L486.66 322.6L487.96 318L488.51 302.4L488.71 313L489.26 302.3L490.63 322.6L492.57 305L494.33 322.6L495.63 318L496.19 302.4L496.38 313L496.94 302.3L498.31 322.6L500.25 305L502.01 322.6L503.31 318L503.86 302.4L504.06 313L504.61 302.3L505.98 322.6L507.92 305L509.68 322.6L510.98 318L511.53 302.4L511.73 313L512.28 302.3L513.65 322.6L515.59 305L517.35 322.6L518.65 318L519.2 302.4L519.4 313L519.95 302.3L521.33 322.6L523.26 305L525.02 322.6L526.33 318L526.88 302.4L527.08 313L527.62 302.3L529 322.6L530.94 305L532.7 322.6L534 318L534.55 302.4L534.75 313L535.3 302.3L536.67 322.6L538.61 305L540.37 322.6L541.67 318L542.22 302.4L542.42 313L542.97 302.3L544.34 322.6L546.28 305L548.04 322.6L549.34 318L549.89 302.4L550.09 313L550.64 302.3L552.02 322.6L553.96 305L555.72 322.6L557.02 318L557.57 302.4L557.77 313L558.32 302.3L559.69 322.6L561.63 305L563.39 322.6L564.69 318L565.24 302.4L565.44 313L565.99 302.3L567.36 322.6L569.3 305L571.06 322.6L572.36 318L572.91 302.4L573.11 313L573.66 302.3L575.03 322.6L576.97 305L578.73 322.6L580.03 318L580.58 302.4L580.78 313L581.33 302.3L582.71 322.6L584.64 305L586.4 322.6L587.71 318L588.25 302.4L588.46 313L589 302.3L590.38 322.6L592.32 305L594.08 322.6L595.38 318L595.93 302.4L596.13 313L596.68 302.3L598.05 322.6L599.99 305L601.75 322.6L603.05 318L603.6 302.4L603.8 313L604.35 302.3L605.72 322.6L607.66 305L609.42 322.6L610.72 318L611.27 302.4L611.47 313L612.02 302.3L613.39 322.6L615.33 305L617.09 322.6L618.39 318L618.94 302.4L619.14 313L619.69 302.3L621.07 322.6L623.01 305L624.77 322.6L626.07 318L626.62 302.4L626.82 313L627.37 302.3L628.74 322.6L630.68 305L632.44 322.6L633.74 318L634.29 302.4L634.49 313L635.04 302.3L636.41 322.6L638.35 305L640.11 322.6L641.41 318L641.96 302.4L642.16 313L642.71 302.3L644.09 322.6L646.02 305L647.78 322.6L649.09 318L649.63 302.4L649.84 313L650.38 302.3L651.76 322.6L653.7 305L655.46 322.6L656.76 318L657.31 302.4L657.51 313L658.06 302.3L659.43 322.6L661.37 305L663.13 322.6L664.43 318L664.98 302.4L665.18 313L665.73 302.3L667.1 322.6L669.04 305L670.8 322.6L672.1 318L672.65 302.4L672.85 313L673.4 302.3L674.78 322.6L676.72 305L678.48 322.6L679.78 318L680.33 302.4L680.53 313L681.08 302.3L682.45 322.6L684.39 305L686.15 322.6L687.45 318L688 302.4L688.2 313L688.75 302.3L690.12 322.6L692.06 305L693.82 322.6L695.12 318L695.67 302.4L695.87 313L696.42 302.3L697.79 322.6L699.73 305L701.49 322.6L702.79 318L703.34 302.4L703.54 313L704.09 302.3L705.47 322.6L707.4 305L709.16 322.6L710.47 318L711.01 302.4L711.22 313L711.76 302.3L713.14 322.6L715.08 305L716.84 322.6L718.14 318L718.69 302.4L718.89 313L719.44 302.3L720.81 322.6L722.75 305L724.51 322.6L725.81 318L726.36 302.4L726.56 313L727.11 302.3L728.48 322.6L730.42 305L732.18 322.6L733.48 318L734.03 302.4L734.23 313L734.78 302.3L736.16 322.6L738.1 305L739.86 322.6L741.16 318L741.71 302.4L741.91 313L742.46 302.3L743.83 322.6L745.77 305L747.53 322.6L748.83 318L749.38 302.4L749.58 313L750.13 302.3L751.5 322.6L753.44 305L755.2 322.6L756.5 318L757.05 302.4L757.25 313L757.8 302.3L759.17 322.6L761.11 305L762.87 322.6L764.17 318L764.72 302.4L764.92 313L765.47 302.3L766.85 322.6L768.78 305L770.54 322.6L771.85 318L772.39 302.4L772.6 313L773.14 302.3L774.52 322.6L776.46 305L778.22 322.6L779.52 318L780.07 302.4L780.27 313L780.82 302.3L782.19 322.6L784.13 305L785.89 322.6L787.19 318L787.74 302.4L787.94 313L788.49 302.3L789.86 322.6L791.8 305L793.56 322.6L794.86 318L795.41 302.4L795.61 313L796.16 302.3L797.54 322.6L799.48 305L801.24 322.6L802.54 318L803.09 302.4L803.29 313L803.84 302.3L805.21 322.6L807.15 305L808.91 322.6L810.21 318L810.76 302.4L810.96 313L811.51 302.3L812.88 322.6L814.82 305L816.58 322.6L817.88 318L818.43 302.4L818.63 313L819.18 302.3L820.55 322.6L822.49 305L824.25 322.6L825.55 318L826.1 302.4L826.3 313L826.85 302.3L828.23 322.6L830.16 305L831.92 322.6L833.23 318L833.77 302.4L833.98 313L834.52 302.3L835.9 322.6L837.84 305L839.6 322.6L840.9 318L841.45 302.4L841.65 313L842.2 302.3L843.57 322.6L845.51 305L847.27 322.6L848.57 318L849.12 302.4L849.32 313L849.87 302.3L851.24 322.6L853.18 305L854.94 322.6L856.24 318L856.79 302.4L856.99 313L857.54 302.3L858.92 322.6L860.86 305L862.62 322.6L863.92 318L864.47 302.4L864.67 313L865.22 302.3L866.59 322.6L868.53 305L870.29 322.6L871.59 318L872.14 302.4L872.34 313L872.89 302.3L874.26 322.6L876.2 305L877.96 322.6L879.26 318L879.81 302.4L880.01 313L880.56 302.3L881.93 322.6L883.87 305L885.63 322.6L886.93 318L887.48 302.4L887.68 313L888.23 302.3L889.61 322.6L891.55 305L893.31 322.6L894.61 318L895.16 302.4L895.36 313L895.91 302.3L897.28 322.6L899.22 305L900.98 322.6L902.28 318L902.83 302.4L903.03 313L903.58 302.3L904.95 322.6L906.89 305" stroke="#348ABD"/>
<path d="M137.5 131L139.4 135L139.9 143L140.6 131L141.7 148L143 130L144.14 148.5L144.16 154.4L145 155.1L145.02 148.5L147.82 128.99L149.37 148L150.67 130L151.81 148.5L151.83 154.4L152.67 155.1L152.69 148.5L155.5 128.99L157.04 148L158.34 130L159.48 148.5L159.5 154.4L160.34 155.1L160.37 148.5L163.17 128.99L164.72 148L166.02 130L167.16 148.5L167.18 154.4L168.02 155.1L168.04 148.5L170.84 128.99L172.39 148L173.69 130L174.83 148.5L174.85 154.4L175.69 155.1L175.71 148.5L178.51 128.99L180.06 148L181.36 130L182.5 148.5L182.52 154.4L183.36 155.1L183.38 148.5L186.19 128.99L187.73 148L189.03 130L190.17 148.5L190.19 154.4L191.03 155.1L191.06 148.5L193.86 128.99L195.41 148L196.71 130L197.85 148.5L197.87 154.4L198.71 155.1L198.73 148.5L201.53 128.99L203.08 148L204.38 130L205.52 148.5L205.54 154.4L206.38 155.1L206.4 148.5L209.2 128.99L210.75 148L212.05 130L213.19 148.5L213.21 154.4L214.05 155.1L214.07 148.5L216.88 128.99L218.43 148L219.73 130L220.87 148.5L220.89 154.4L221.73 155.1L221.75 148.5L224.55 128.99L226.1 148L227.4 130L228.54 148.5L228.56 154.4L229.4 155.1L229.42 148.5L232.22 128.99L233.77 148L235.07 130L236.21 148.5L236.23 154.4L237.07 155.1L237.09 148.5L239.89 128.99L241.44 148L242.74 130L243.88 148.5L243.9 154.4L244.74 155.1L244.76 148.5L247.57 128.99L249.12 148L250.42 130L251.56 148.5L251.58 154.4L252.42 155.1L252.44 148.5L255.24 128.99L256.79 148L258.09 130L259.23 148.5L259.25 154.4L260.09 155.1L260.11 148.5L262.91 128.99L264.46 148L265.76 130L266.9 148.5L266.92 154.4L267.76 155.1L267.78 148.5L270.58 128.99L272.13 148L273.43 130L274.57 148.5L274.59 154.4L275.43 155.1L275.45 148.5L278.25 128.99L279.81 148L281.11 130L282.25 148.5L282.27 154.4L283.11 155.1L283.12 148.5L285.93 128.99L287.48 148L288.78 130L289.92 148.5L289.94 154.4L290.78 155.1L290.8 148.5L293.6 128.99L295.15 148L296.45 130L297.59 148.5L297.61 154.4L298.45 155.1L298.47 148.5L301.27 128.99L302.82 148L304.12 130L305.26 148.5L305.28 154.4L306.12 155.1L306.14 148.5L308.94 128.99L310.5 148L311.8 130L312.94 148.5L312.96 154.4L313.8 155.1L313.81 148.5L316.62 128.99L318.17 148L319.47 130L320.61 148.5L320.63 154.4L321.47 155.1L321.49 148.5L324.29 128.99L325.84 148L327.14 130L328.28 148.5L328.3 154.4L329.14 155.1L329.16 148.5L331.96 128.99L333.51 148L334.81 130L335.95 148.5L335.97 154.4L336.81 155.1L336.83 148.5L339.63 128.99L341.19 148L342.49 130L343.62 148.5L343.65 154.4L344.49 155.1L344.5 148.5L347.31 128.99L348.86 148L350.16 130L351.3 148.5L351.32 154.4L352.16 155.1L352.18 148.5L354.98 128.99L356.53 148L357.83 130L358.97 148.5L358.99 154.4L359.83 155.1L359.85 148.5L362.65 128.99L364.2 148L365.5 130L366.64 148.5L366.66 154.4L367.5 155.1L367.52 148.5L370.32 128.99L371.88 148L373.18 130L374.31 148.5L374.34 154.4L375.18 155.1L375.19 148.5L378 128.99L379.55 148L380.85 130L381.99 148.5L382.01 154.4L382.85 155.1L382.87 148.5L385.67 128.99L387.22 148L388.52 130L389.66 148.5L389.68 154.4L390.52 155.1L390.54 148.5L393.34 128.99L394.89 148L396.19 130L397.33 148.5L397.35 154.4L398.19 155.1L398.21 148.5L401.01 128.99L402.56 148L403.87 130L405 148.5L405.03 154.4L405.87 155.1L405.88 148.5L408.69 128.99L410.24 148L411.54 130L412.68 148.5L412.7 154.4L413.54 155.1L413.56 148.5L416.36 128.99L417.91 148L419.21 130L420.35 148.5L420.37 154.4L421.21 155.1L421.23 148.5L424.03 128.99L425.58 148L426.88 130L428.02 148.5L428.04 154.4L428.88 155.1L428.9 148.5L431.7 128.99L433.25 148L434.56 130L435.69 148.5L435.72 154.4L436.56 155.1L436.57 148.5L439.38 128.99L440.93 148L442.23 130L443.37 148.5L443.39 154.4L444.23 155.1L444.25 148.5L447.05 128.99L448.6 148L449.9 130L451.04 148.5L451.06 154.4L451.9 155.1L451.92 148.5L454.72 128.99L456.27 148L457.57 130L458.71 148.5L458.73 154.4L459.57 155.1L459.59 148.5L462.39 128.99L463.94 148L465.25 130L466.38 148.5L466.41 154.4L467.25 155.1L467.26 148.5L470.07 128.99L471.62 148L472.92 130L474.06 148.5L474.08 154.4L474.92 155.1L474.94 148.5L477.74 128.99L479.29 148L480.59 130L481.73 148.5L481.75 154.4L482.59 155.1L482.61 148.5L485.41 128.99L486.96 148L488.26 130L489.4 148.5L489.42 154.4L490.26 155.1L490.28 148.5L493.08 128.99L494.63 148L495.94 130L497.07 148.5L497.1 154.4L497.94 155.1L497.95 148.5L500.76 128.99L502.31 148L503.61 130L504.75 148.5L504.77 154.4L505.61 155.1L505.63 148.5L508.43 128.99L509.98 148L511.28 130L512.42 148.5L512.44 154.4L513.28 155.1L513.3 148.5L516.1 128.99L517.65 148L518.95 130L520.09 148.5L520.11 154.4L520.95 155.1L520.97 148.5L523.77 128.99L525.33 148L526.62 130L527.76 148.5L527.78 154.4L528.62 155.1L528.64 148.5L531.45 128.99L533 148L534.3 130L535.44 148.5L535.46 154.4L536.3 155.1L536.32 148.5L539.12 128.99L540.67 148L541.97 130L543.11 148.5L543.13 154.4L543.97 155.1L543.99 148.5L546.79 128.99L548.34 148L549.64 130L550.78 148.5L550.8 154.4L551.64 155.1L551.66 148.5L554.47 128.99L556.02 148L557.32 130L558.46 148.5L558.48 154.4L559.32 155.1L559.34 148.5L562.14 128.99L563.69 148L564.99 130L566.13 148.5L566.15 154.4L566.99 155.1L567.01 148.5L569.81 128.99L571.36 148L572.66 130L573.8 148.5L573.82 154.4L574.66 155.1L574.68 148.5L577.48 128.99L579.03 148L580.33 130L581.47 148.5L581.49 154.4L582.33 155.1L582.35 148.5L585.15 128.99L586.71 148L588 130L589.14 148.5L589.16 154.4L590 155.1L590.02 148.5L592.83 128.99L594.38 148L595.68 130L596.82 148.5L596.84 154.4L597.68 155.1L597.7 148.5L600.5 128.99L602.05 148L603.35 130L604.49 148.5L604.51 154.4L605.35 155.1L605.37 148.5L608.17 128.99L609.72 148L611.02 130L612.16 148.5L612.18 154.4L613.02 155.1L613.04 148.5L615.84 128.99L617.39 148L618.69 130L619.83 148.5L619.85 154.4L620.69 155.1L620.71 148.5L623.52 128.99L625.07 148L626.37 130L627.51 148.5L627.53 154.4L628.37 155.1L628.39 148.5L631.19 128.99L632.74 148L634.04 130L635.18 148.5L635.2 154.4L636.04 155.1L636.06 148.5L638.86 128.99L640.41 148L641.71 130L642.85 148.5L642.87 154.4L643.71 155.1L643.73 148.5L646.53 128.99L648.09 148L649.38 130L650.52 148.5L650.54 154.4L651.38 155.1L651.4 148.5L654.21 128.99L655.76 148L657.06 130L658.2 148.5L658.22 154.4L659.06 155.1L659.08 148.5L661.88 128.99L663.43 148L664.73 130L665.87 148.5L665.89 154.4L666.73 155.1L666.75 148.5L669.55 128.99L671.1 148L672.4 130L673.54 148.5L673.56 154.4L674.4 155.1L674.42 148.5L677.23 128.99L678.78 148L680.08 130L681.22 148.5L681.24 154.4L682.08 155.1L682.1 148.5L684.9 128.99L686.45 148L687.75 130L688.89 148.5L688.91 154.4L689.75 155.1L689.77 148.5L692.57 128.99L694.12 148L695.42 130L696.56 148.5L696.58 154.4L697.42 155.1L697.44 148.5L700.24 128.99L701.79 148L703.09 130L704.23 148.5L704.25 154.4L705.09 155.1L705.11 148.5L707.91 128.99L709.47 148L710.76 130L711.9 148.5L711.92 154.4L712.76 155.1L712.78 148.5L715.59 128.99L717.14 148L718.44 130L719.58 148.5L719.6 154.4L720.44 155.1L720.46 148.5L723.26 128.99L724.81 148L726.11 130L727.25 148.5L727.27 154.4L728.11 155.1L728.13 148.5L730.93 128.99L732.48 148L733.78 130L734.92 148.5L734.94 154.4L735.78 155.1L735.8 148.5L738.61 128.99L740.16 148L741.46 130L742.6 148.5L742.62 154.4L743.46 155.1L743.48 148.5L746.28 128.99L747.83 148L749.13 130L750.27 148.5L750.29 154.4L751.13 155.1L751.15 148.5L753.95 128.99L755.5 148L756.8 130L757.94 148.5L757.96 154.4L758.8 155.1L758.82 148.5L761.62 128.99L763.17 148L764.47 130L765.61 148.5L765.63 154.4L766.47 155.1L766.49 148.5L769.29 128.99L770.85 148L772.14 130L773.28 148.5L773.3 154.4L774.14 155.1L774.16 148.5L776.97 128.99L778.52 148L779.82 130L780.96 148.5L780.98 154.4L781.82 155.1L781.84 148.5L784.64 128.99L786.19 148L787.49 130L788.63 148.5L788.65 154.4L789.49 155.1L789.51 148.5L792.31 128.99L793.86 148L795.16 130L796.3 148.5L796.32 154.4L797.16 155.1L797.18 148.5L799.99 128.99L801.54 148L802.84 130L803.98 148.5L804 154.4L804.84 155.1L804.86 148.5L807.66 128.99L809.21 148L810.51 130L811.65 148.5L811.67 154.4L812.51 155.1L812.53 148.5L815.33 128.99L816.88 148L818.18 130L819.32 148.5L819.34 154.4L820.18 155.1L820.2 148.5L823 128.99L824.55 148L825.85 130L826.99 148.5L827.01 154.4L827.85 155.1L827.87 148.5L830.67 128.99L832.23 148L833.52 130L834.66 148.5L834.68 154.4L835.52 155.1L835.54 148.5L838.35 128.99L839.9 148L841.2 130L842.34 148.5L842.36 154.4L843.2 155.1L843.22 148.5L846.02 128.99L847.57 148L848.87 130L850.01 148.5L850.03 154.4L850.87 155.1L850.89 148.5L853.69 128.99L855.24 148L856.54 130L857.68 148.5L857.7 154.4L858.54 155.1L858.56 148.5L861.37 128.99L862.92 148L864.22 130L865.36 148.5L865.38 154.4L866.22 155.1L866.24 148.5L869.04 128.99L870.59 148L871.89 130L873.03 148.5L873.05 154.4L873.89 155.1L873.91 148.5L876.71 128.99L878.26 148L879.56 130L880.7 148.5L880.72 154.4L881.56 155.1L881.58 148.5L884.38 128.99L885.93 148L887.23 130L888.37 148.5L888.39 154.4L889.23 155.1L889.25 148.5L892.06 128.99L893.61 148L894.91 130L896.05 148.5L896.07 154.4L896.91 155.1L896.93 148.5L899.73 128.99L901.28 148L902.58 130L903.72 148.5L903.74 154.4L904.58 155.1L904.6 148.5L907.4 128.99" stroke="#988ED5"/>
<path d="M137.5 301.8L139.5 301.8L139.9 322L140.5 302L141.1 322L141.5 303L141.8 309L143.24 322.3L144.92 310.5L145.18 302.7L146.47 322.3L146.92 303L147.37 322.3L148.2 298.9L149.47 309L150.91 322.3L152.59 310.5L152.85 302.7L154.15 322.3L154.59 303L155.04 322.3L155.88 298.9L157.15 309L158.59 322.3L160.26 310.5L160.53 302.7L161.82 322.3L162.27 303L162.72 322.3L163.55 298.9L164.82 309L166.26 322.3L167.94 310.5L168.2 302.7L169.49 322.3L169.94 303L170.39 322.3L171.22 298.9L172.49 309L173.93 322.3L175.61 310.5L175.87 302.7L177.16 322.3L177.61 303L178.06 322.3L178.89 298.9L180.16 309L181.6 322.3L183.28 310.5L183.54 302.7L184.84 322.3L185.28 303L185.73 322.3L186.56 298.9L187.84 309L189.28 322.3L190.95 310.5L191.22 302.7L192.51 322.3L192.96 303L193.41 322.3L194.24 298.9L195.51 309L196.95 322.3L198.63 310.5L198.89 302.7L200.18 322.3L200.63 303L201.08 322.3L201.91 298.9L203.18 309L204.62 322.3L206.3 310.5L206.56 302.7L207.85 322.3L208.3 303L208.75 322.3L209.58 298.9L210.85 309L212.29 322.3L213.97 310.5L214.24 302.7L215.53 322.3L215.98 303L216.43 322.3L217.26 298.9L218.53 309L219.97 322.3L221.65 310.5L221.91 302.7L223.2 322.3L223.65 303L224.1 322.3L224.93 298.9L226.2 309L227.64 322.3L229.32 310.5L229.58 302.7L230.87 322.3L231.32 303L231.77 322.3L232.6 298.9L233.87 309L235.31 322.3L236.99 310.5L237.25 302.7L238.54 322.3L238.99 303L239.44 322.3L240.27 298.9L241.54 309L242.98 322.3L244.66 310.5L244.93 302.7L246.22 322.3L246.67 303L247.12 322.3L247.95 298.9L249.22 309L250.66 322.3L252.34 310.5L252.6 302.7L253.89 322.3L254.34 303L254.79 322.3L255.62 298.9L256.89 309L258.33 322.3L260.01 310.5L260.27 302.7L261.56 322.3L262.01 303L262.46 322.3L263.29 298.9L264.56 309L266 322.3L267.68 310.5L267.94 302.7L269.23 322.3L269.68 303L270.13 322.3L270.96 298.9L272.23 309L273.67 322.3L275.35 310.5L275.62 302.7L276.91 322.3L277.36 303L277.81 322.3L278.63 298.9L279.91 309L281.35 322.3L283.03 310.5L283.29 302.7L284.58 322.3L285.03 303L285.48 322.3L286.31 298.9L287.58 309L289.02 322.3L290.7 310.5L290.96 302.7L292.25 322.3L292.7 303L293.15 322.3L293.98 298.9L295.25 309L296.69 322.3L298.37 310.5L298.63 302.7L299.92 322.3L300.37 303L300.82 322.3L301.65 298.9L302.92 309L304.36 322.3L306.04 310.5L306.31 302.7L307.6 322.3L308.05 303L308.5 322.3L309.32 298.9L310.6 309L312.04 322.3L313.72 310.5L313.98 302.7L315.27 322.3L315.72 303L316.17 322.3L317 298.9L318.27 309L319.71 322.3L321.39 310.5L321.65 302.7L322.94 322.3L323.39 303L323.84 322.3L324.67 298.9L325.94 309L327.38 322.3L329.06 310.5L329.32 302.7L330.61 322.3L331.06 303L331.51 322.3L332.34 298.9L333.61 309L335.05 322.3L336.73 310.5L337 302.7L338.29 322.3L338.74 303L339.19 322.3L340.01 298.9L341.29 309L342.73 322.3L344.41 310.5L344.67 302.7L345.96 322.3L346.41 303L346.86 322.3L347.69 298.9L348.96 309L350.4 322.3L352.08 310.5L352.34 302.7L353.63 322.3L354.08 303L354.53 322.3L355.36 298.9L356.63 309L358.07 322.3L359.75 310.5L360.01 302.7L361.3 322.3L361.75 303L362.2 322.3L363.03 298.9L364.3 309L365.74 322.3L367.42 310.5L367.69 302.7L368.98 322.3L369.43 303L369.88 322.3L370.7 298.9L371.98 309L373.42 322.3L375.1 310.5L375.36 302.7L376.65 322.3L377.1 303L377.55 322.3L378.38 298.9L379.65 309L381.09 322.3L382.77 310.5L383.03 302.7L384.32 322.3L384.77 303L385.22 322.3L386.05 298.9L387.32 309L388.76 322.3L390.44 310.5L390.7 302.7L391.99 322.3L392.44 303L392.89 322.3L393.72 298.9L394.99 309L396.43 322.3L398.11 310.5L398.38 302.7L399.67 322.3L400.12 303L400.56 322.3L401.39 298.9L402.67 309L404.11 322.3L405.79 310.5L406.05 302.7L407.34 322.3L407.79 303L408.24 322.3L409.07 298.9L410.34 309L411.78 322.3L413.46 310.5L413.72 302.7L415.01 322.3L415.46 303L415.91 322.3L416.74 298.9L418.01 309L419.45 322.3L421.13 310.5L421.39 302.7L422.68 322.3L423.13 303L423.58 322.3L424.41 298.9L425.68 309L427.12 322.3L428.8 310.5L429.06 302.7L430.36 322.3L430.81 303L431.25 322.3L432.08 298.9L433.36 309L434.8 322.3L436.48 310.5L436.74 302.7L438.03 322.3L438.48 303L438.93 322.3L439.76 298.9L441.03 309L442.47 322.3L444.15 310.5L444.41 302.7L445.7 322.3L446.15 303L446.6 322.3L447.43 298.9L448.7 309L450.14 322.3L451.82 310.5L452.08 302.7L453.37 322.3L453.82 303L454.27 322.3L455.1 298.9L456.37 309L457.81 322.3L459.49 310.5L459.75 302.7L461.05 322.3L461.5 303L461.94 322.3L462.77 298.9L464.05 309L465.49 322.3L467.17 310.5L467.43 302.7L468.72 322.3L469.17 303L469.62 322.3L470.45 298.9L471.72 309L473.16 322.3L474.84 310.5L475.1 302.7L476.39 322.3L476.84 303L477.29 322.3L478.12 298.9L479.39 309L480.83 322.3L482.51 310.5L482.77 302.7L484.06 322.3L484.51 303L484.96 322.3L485.79 298.9L487.06 309L488.5 322.3L490.18 310.5L490.44 302.7L491.74 322.3L492.19 303L492.63 322.3L493.46 298.9L494.74 309L496.18 322.3L497.86 310.5L498.12 302.7L499.41 322.3L499.86 303L500.31 322.3L501.14 298.9L502.41 309L503.85 322.3L505.53 310.5L505.79 302.7L507.08 322.3L507.53 303L507.98 322.3L508.81 298.9L510.08 309L511.52 322.3L513.2 310.5L513.46 302.7L514.75 322.3L515.2 303L515.65 322.3L516.48 298.9L517.75 309L519.19 322.3L520.87 310.5L521.13 302.7L522.42 322.3L522.88 303L523.33 322.3L524.15 298.9L525.42 309L526.87 322.3L528.54 310.5L528.81 302.7L530.1 322.3L530.55 303L531 322.3L531.83 298.9L533.1 309L534.54 322.3L536.22 310.5L536.48 302.7L537.77 322.3L538.22 303L538.67 322.3L539.5 298.9L540.77 309L542.21 322.3L543.89 310.5L544.15 302.7L545.44 322.3L545.89 303L546.34 322.3L547.17 298.9L548.44 309L549.88 322.3L551.56 310.5L551.83 302.7L553.12 322.3L553.57 303L554.02 322.3L554.85 298.9L556.12 309L557.56 322.3L559.24 310.5L559.5 302.7L560.79 322.3L561.24 303L561.69 322.3L562.52 298.9L563.79 309L565.23 322.3L566.91 310.5L567.17 302.7L568.46 322.3L568.91 303L569.36 322.3L570.19 298.9L571.46 309L572.9 322.3L574.58 310.5L574.84 302.7L576.13 322.3L576.58 303L577.03 322.3L577.86 298.9L579.13 309L580.57 322.3L582.25 310.5L582.51 302.7L583.8 322.3L584.25 303L584.71 322.3L585.53 298.9L586.8 309L588.25 322.3L589.92 310.5L590.19 302.7L591.48 322.3L591.93 303L592.38 322.3L593.21 298.9L594.48 309L595.92 322.3L597.6 310.5L597.86 302.7L599.15 322.3L599.6 303L600.05 322.3L600.88 298.9L602.15 309L603.59 322.3L605.27 310.5L605.53 302.7L606.82 322.3L607.27 303L607.72 322.3L608.55 298.9L609.82 309L611.26 322.3L612.94 310.5L613.2 302.7L614.49 322.3L614.94 303L615.39 322.3L616.22 298.9L617.49 309L618.93 322.3L620.61 310.5L620.88 302.7L622.17 322.3L622.62 303L623.07 322.3L623.9 298.9L625.17 309L626.61 322.3L628.29 310.5L628.55 302.7L629.84 322.3L630.29 303L630.74 322.3L631.57 298.9L632.84 309L634.28 322.3L635.96 310.5L636.22 302.7L637.51 322.3L637.96 303L638.41 322.3L639.24 298.9L640.51 309L641.95 322.3L643.63 310.5L643.89 302.7L645.18 322.3L645.63 303L646.09 322.3L646.91 298.9L648.18 309L649.62 322.3L651.3 310.5L651.57 302.7L652.86 322.3L653.31 303L653.76 322.3L654.59 298.9L655.86 309L657.3 322.3L658.98 310.5L659.24 302.7L660.53 322.3L660.98 303L661.43 322.3L662.26 298.9L663.53 309L664.97 322.3L666.65 310.5L666.91 302.7L668.2 322.3L668.65 303L669.1 322.3L669.93 298.9L671.2 309L672.64 322.3L674.32 310.5L674.59 302.7L675.88 322.3L676.33 303L676.78 322.3L677.61 298.9L678.88 309L680.32 322.3L682 310.5L682.26 302.7L683.55 322.3L684 303L684.45 322.3L685.28 298.9L686.55 309L687.99 322.3L689.67 310.5L689.93 302.7L691.22 322.3L691.67 303L692.12 322.3L692.95 298.9L694.22 309L695.66 322.3L697.34 310.5L697.6 302.7L698.89 322.3L699.34 303L699.79 322.3L700.62 298.9L701.89 309L703.33 322.3L705.01 310.5L705.27 302.7L706.56 322.3L707.01 303L707.47 322.3L708.29 298.9L709.56 309L711 322.3L712.68 310.5L712.95 302.7L714.24 322.3L714.69 303L715.14 322.3L715.97 298.9L717.24 309L718.68 322.3L720.36 310.5L720.62 302.7L721.91 322.3L722.36 303L722.81 322.3L723.64 298.9L724.91 309L726.35 322.3L728.03 310.5L728.29 302.7L729.58 322.3L730.03 303L730.48 322.3L731.31 298.9L732.58 309L734.02 322.3L735.7 310.5L735.97 302.7L737.25 322.3L737.71 303L738.16 322.3L738.99 298.9L740.25 309L741.7 322.3L743.38 310.5L743.64 302.7L744.93 322.3L745.38 303L745.83 322.3L746.66 298.9L747.93 309L749.37 322.3L751.05 310.5L751.31 302.7L752.6 322.3L753.05 303L753.5 322.3L754.33 298.9L755.6 309L757.04 322.3L758.72 310.5L758.98 302.7L760.27 322.3L760.72 303L761.17 322.3L762 298.9L763.27 309L764.71 322.3L766.39 310.5L766.65 302.7L767.94 322.3L768.39 303L768.85 322.3L769.67 298.9L770.94 309L772.38 322.3L774.06 310.5L774.33 302.7L775.62 322.3L776.07 303L776.52 322.3L777.35 298.9L778.62 309L780.06 322.3L781.74 310.5L782 302.7L783.29 322.3L783.74 303L784.19 322.3L785.02 298.9L786.29 309L787.73 322.3L789.41 310.5L789.67 302.7L790.96 322.3L791.41 303L791.86 322.3L792.69 298.9L793.96 309L795.4 322.3L797.08 310.5L797.35 302.7L798.63 322.3L799.09 303L799.54 322.3L800.37 298.9L801.63 309L803.08 322.3L804.75 310.5L805.02 302.7L806.31 322.3L806.76 303L807.21 322.3L808.04 298.9L809.31 309L810.75 322.3L812.43 310.5L812.69 302.7L813.98 322.3L814.43 303L814.88 322.3L815.71 298.9L816.98 309L818.42 322.3L820.1 310.5L820.36 302.7L821.65 322.3L822.1 303L822.55 322.3L823.38 298.9L824.65 309L826.09 322.3L827.77 310.5L828.03 302.7L829.32 322.3L829.77 303L830.23 322.3L831.05 298.9L832.32 309L833.76 322.3L835.44 310.5L835.71 302.7L837 322.3L837.45 303L837.9 322.3L838.73 298.9L840 309L841.44 322.3L843.12 310.5L843.38 302.7L844.67 322.3L845.12 303L845.57 322.3L846.4 298.9L847.67 309L849.11 322.3L850.79 310.5L851.05 302.7L852.34 322.3L852.79 303L853.24 322.3L854.07 298.9L855.34 309L856.78 322.3L858.46 310.5L858.73 302.7L860.01 322.3L860.47 303L860.92 322.3L861.75 298.9L863.01 309L864.46 322.3L866.13 310.5L866.4 302.7L867.69 322.3L868.14 303L868.59 322.3L869.42 298.9L870.69 309L872.13 322.3L873.81 310.5L874.07 302.7L875.36 322.3L875.81 303L876.26 322.3L877.09 298.9L878.36 309L879.8 322.3L881.48 310.5L881.74 302.7L883.03 322.3L883.48 303L883.93 322.3L884.76 298.9L886.03 309L887.47 322.3L889.15 310.5L889.42 302.7L890.71 322.3L891.16 303L891.61 322.3L892.44 298.9L893.71 309L895.15 322.3L896.83 310.5L897.09 302.7L898.38 322.3L898.83 303L899.28 322.3L900.11 298.9L901.38 309L902.82 322.3L904.5 310.5L904.76 302.7L906.05 322.3L906.5 303L906.95 322.3" stroke="#777777"/>
<path d="M137.5 130L139.6 129.5L141.3 147L142.2 149.4L143.3 131L144.06 149L144.08 151.6L144.94 151.6L144.96 149L148.67 129.69L149.87 149.4L150.97 131L151.73 149L151.75 151.6L152.61 151.6L152.63 149L156.34 129.69L157.54 149.4L158.65 131L159.41 149L159.43 151.6L160.28 151.6L160.31 149L164.02 129.69L165.22 149.4L166.32 131L167.08 149L167.1 151.6L167.96 151.6L167.98 149L171.69 129.69L172.89 149.4L173.99 131L174.75 149L174.77 151.6L175.63 151.6L175.65 149L179.36 129.69L180.56 149.4L181.66 131L182.42 149L182.44 151.6L183.3 151.6L183.32 149L187.03 129.69L188.23 149.4L189.34 131L190.09 149L190.12 151.6L190.97 151.6L191 149L194.71 129.69L195.91 149.4L197.01 131L197.77 149L197.79 151.6L198.65 151.6L198.67 149L202.38 129.69L203.58 149.4L204.68 131L205.44 149L205.46 151.6L206.32 151.6L206.34 149L210.05 129.69L211.25 149.4L212.35 131L213.11 149L213.13 151.6L213.99 151.6L214.01 149L217.73 129.69L218.93 149.4L220.03 131L220.79 149L220.81 151.6L221.67 151.6L221.69 149L225.4 129.69L226.6 149.4L227.7 131L228.46 149L228.48 151.6L229.34 151.6L229.36 149L233.07 129.69L234.27 149.4L235.37 131L236.13 149L236.15 151.6L237.01 151.6L237.03 149L240.74 129.69L241.94 149.4L243.04 131L243.8 149L243.82 151.6L244.68 151.6L244.7 149L248.42 129.69L249.62 149.4L250.72 131L251.48 149L251.5 151.6L252.36 151.6L252.38 149L256.09 129.69L257.29 149.4L258.39 131L259.15 149L259.17 151.6L260.03 151.6L260.05 149L263.76 129.69L264.96 149.4L266.06 131L266.82 149L266.84 151.6L267.7 151.6L267.72 149L271.43 129.69L272.63 149.4L273.73 131L274.49 149L274.51 151.6L275.37 151.6L275.39 149L279.11 129.69L280.31 149.4L281.41 131L282.17 149L282.19 151.6L283.05 151.6L283.06 149L286.78 129.69L287.98 149.4L289.08 131L289.84 149L289.86 151.6L290.72 151.6L290.74 149L294.45 129.69L295.65 149.4L296.75 131L297.51 149L297.53 151.6L298.39 151.6L298.41 149L302.12 129.69L303.32 149.4L304.42 131L305.18 149L305.2 151.6L306.06 151.6L306.08 149L309.8 129.69L311 149.4L312.1 131L312.86 149L312.88 151.6L313.74 151.6L313.75 149L317.47 129.69L318.67 149.4L319.77 131L320.53 149L320.55 151.6L321.41 151.6L321.43 149L325.14 129.69L326.34 149.4L327.44 131L328.2 149L328.22 151.6L329.08 151.6L329.1 149L332.81 129.69L334.01 149.4L335.11 131L335.87 149L335.89 151.6L336.75 151.6L336.77 149L340.49 129.69L341.69 149.4L342.79 131L343.55 149L343.56 151.6L344.43 151.6L344.44 149L348.16 129.69L349.36 149.4L350.46 131L351.22 149L351.24 151.6L352.1 151.6L352.12 149L355.83 129.69L357.03 149.4L358.13 131L358.89 149L358.91 151.6L359.77 151.6L359.79 149L363.5 129.69L364.7 149.4L365.8 131L366.56 149L366.58 151.6L367.44 151.6L367.46 149L371.18 129.69L372.38 149.4L373.48 131L374.24 149L374.25 151.6L375.12 151.6L375.13 149L378.85 129.69L380.05 149.4L381.15 131L381.91 149L381.93 151.6L382.79 151.6L382.81 149L386.52 129.69L387.72 149.4L388.82 131L389.58 149L389.6 151.6L390.46 151.6L390.48 149L394.19 129.69L395.39 149.4L396.49 131L397.25 149L397.27 151.6L398.13 151.6L398.15 149L401.87 129.69L403.06 149.4L404.17 131L404.93 149L404.94 151.6L405.81 151.6L405.82 149L409.54 129.69L410.74 149.4L411.84 131L412.6 149L412.62 151.6L413.48 151.6L413.5 149L417.21 129.69L418.41 149.4L419.51 131L420.27 149L420.29 151.6L421.15 151.6L421.17 149L424.88 129.69L426.08 149.4L427.18 131L427.94 149L427.96 151.6L428.82 151.6L428.84 149L432.56 129.69L433.75 149.4L434.86 131L435.62 149L435.63 151.6L436.5 151.6L436.51 149L440.23 129.69L441.43 149.4L442.53 131L443.29 149L443.31 151.6L444.17 151.6L444.19 149L447.9 129.69L449.1 149.4L450.2 131L450.96 149L450.98 151.6L451.84 151.6L451.86 149L455.57 129.69L456.77 149.4L457.87 131L458.63 149L458.65 151.6L459.51 151.6L459.53 149L463.25 129.69L464.44 149.4L465.55 131L466.31 149L466.32 151.6L467.19 151.6L467.2 149L470.92 129.69L472.12 149.4L473.22 131L473.98 149L474 151.6L474.86 151.6L474.88 149L478.59 129.69L479.79 149.4L480.89 131L481.65 149L481.67 151.6L482.53 151.6L482.55 149L486.26 129.69L487.46 149.4L488.56 131L489.32 149L489.34 151.6L490.2 151.6L490.22 149L493.94 129.69L495.13 149.4L496.24 131L497 149L497.01 151.6L497.88 151.6L497.89 149L501.61 129.69L502.81 149.4L503.91 131L504.67 149L504.69 151.6L505.55 151.6L505.57 149L509.28 129.69L510.48 149.4L511.58 131L512.34 149L512.36 151.6L513.22 151.6L513.24 149L516.95 129.69L518.15 149.4L519.25 131L520.01 149L520.03 151.6L520.89 151.6L520.91 149L524.62 129.69L525.83 149.4L526.92 131L527.68 149L527.71 151.6L528.57 151.6L528.59 149L532.3 129.69L533.5 149.4L534.6 131L535.36 149L535.38 151.6L536.24 151.6L536.26 149L539.97 129.69L541.17 149.4L542.27 131L543.03 149L543.05 151.6L543.91 151.6L543.93 149L547.64 129.69L548.84 149.4L549.94 131L550.7 149L550.72 151.6L551.58 151.6L551.6 149L555.32 129.69L556.52 149.4L557.62 131L558.38 149L558.4 151.6L559.26 151.6L559.28 149L562.99 129.69L564.19 149.4L565.29 131L566.05 149L566.07 151.6L566.93 151.6L566.95 149L570.66 129.69L571.86 149.4L572.96 131L573.72 149L573.74 151.6L574.6 151.6L574.62 149L578.33 129.69L579.53 149.4L580.63 131L581.39 149L581.41 151.6L582.27 151.6L582.29 149L586 129.69L587.21 149.4L588.3 131L589.06 149L589.09 151.6L589.95 151.6L589.97 149L593.68 129.69L594.88 149.4L595.98 131L596.74 149L596.76 151.6L597.62 151.6L597.64 149L601.35 129.69L602.55 149.4L603.65 131L604.41 149L604.43 151.6L605.29 151.6L605.31 149L609.02 129.69L610.22 149.4L611.32 131L612.08 149L612.1 151.6L612.96 151.6L612.98 149L616.69 129.69L617.89 149.4L618.99 131L619.75 149L619.77 151.6L620.63 151.6L620.65 149L624.37 129.69L625.57 149.4L626.67 131L627.43 149L627.45 151.6L628.31 151.6L628.33 149L632.04 129.69L633.24 149.4L634.34 131L635.1 149L635.12 151.6L635.98 151.6L636 149L639.71 129.69L640.91 149.4L642.01 131L642.77 149L642.79 151.6L643.65 151.6L643.67 149L647.38 129.69L648.59 149.4L649.68 131L650.44 149L650.47 151.6L651.33 151.6L651.35 149L655.06 129.69L656.26 149.4L657.36 131L658.12 149L658.14 151.6L659 151.6L659.02 149L662.73 129.69L663.93 149.4L665.03 131L665.79 149L665.81 151.6L666.67 151.6L666.69 149L670.4 129.69L671.6 149.4L672.7 131L673.46 149L673.48 151.6L674.34 151.6L674.36 149L678.08 129.69L679.28 149.4L680.38 131L681.13 149L681.16 151.6L682.02 151.6L682.04 149L685.75 129.69L686.95 149.4L688.05 131L688.81 149L688.83 151.6L689.69 151.6L689.71 149L693.42 129.69L694.62 149.4L695.72 131L696.48 149L696.5 151.6L697.36 151.6L697.38 149L701.09 129.69L702.29 149.4L703.39 131L704.15 149L704.17 151.6L705.03 151.6L705.05 149L708.76 129.69L709.97 149.4L711.06 131L711.82 149L711.85 151.6L712.71 151.6L712.73 149L716.44 129.69L717.64 149.4L718.74 131L719.5 149L719.52 151.6L720.38 151.6L720.4 149L724.11 129.69L725.31 149.4L726.41 131L727.17 149L727.19 151.6L728.05 151.6L728.07 149L731.78 129.69L732.98 149.4L734.08 131L734.84 149L734.86 151.6L735.72 151.6L735.74 149L739.46 129.69L740.66 149.4L741.75 131L742.51 149L742.54 151.6L743.4 151.6L743.42 149L747.13 129.69L748.33 149.4L749.43 131L750.19 149L750.21 151.6L751.07 151.6L751.09 149L754.8 129.69L756 149.4L757.1 131L757.86 149L757.88 151.6L758.74 151.6L758.76 149L762.47 129.69L763.67 149.4L764.77 131L765.53 149L765.55 151.6L766.41 151.6L766.43 149L770.14 129.69L771.35 149.4L772.44 131L773.2 149L773.23 151.6L774.09 151.6L774.11 149L777.82 129.69L779.02 149.4L780.12 131L780.88 149L780.9 151.6L781.76 151.6L781.78 149L785.49 129.69L786.69 149.4L787.79 131L788.55 149L788.57 151.6L789.43 151.6L789.45 149L793.16 129.69L794.36 149.4L795.46 131L796.22 149L796.24 151.6L797.1 151.6L797.12 149L800.84 129.69L802.04 149.4L803.13 131L803.89 149L803.92 151.6L804.78 151.6L804.8 149L808.51 129.69L809.71 149.4L810.81 131L811.57 149L811.59 151.6L812.45 151.6L812.47 149L816.18 129.69L817.38 149.4L818.48 131L819.24 149L819.26 151.6L820.12 151.6L820.14 149L823.85 129.69L825.05 149.4L826.15 131L826.91 149L826.93 151.6L827.79 151.6L827.81 149L831.52 129.69L832.73 149.4L833.82 131L834.58 149L834.61 151.6L835.47 151.6L835.49 149L839.2 129.69L840.4 149.4L841.5 131L842.26 149L842.28 151.6L843.14 151.6L843.16 149L846.87 129.69L848.07 149.4L849.17 131L849.93 149L849.95 151.6L850.81 151.6L850.83 149L854.54 129.69L855.74 149.4L856.84 131L857.6 149L857.62 151.6L858.48 151.6L858.5 149L862.22 129.69L863.42 149.4L864.51 131L865.27 149L865.3 151.6L866.16 151.6L866.18 149L869.89 129.69L871.09 149.4L872.19 131L872.95 149L872.97 151.6L873.83 151.6L873.85 149L877.56 129.69L878.76 149.4L879.86 131L880.62 149L880.64 151.6L881.5 151.6L881.52 149L885.23 129.69L886.43 149.4L887.53 131L888.29 149L888.31 151.6L889.17 151.6L889.19 149L892.91 129.69L894.11 149.4L895.21 131L895.97 149L895.99 151.6L896.85 151.6L896.87 149L900.58 129.69L901.78 149.4L902.88 131L903.64 149L903.66 151.6L904.52 151.6L904.54 149" stroke="#FBC15E"/>
<path d="M138.8 283.5L138.9 300.5L139 305L140 322L140.53 300L141.8 309.5L143.24 322L144.92 311L145.18 303.2L145.95 314L146 299.6L146.54 299.6L146.59 308L146.92 303.5L147.37 322L148.2 300L149.47 309.5L150.91 322L152.59 311L152.85 303.2L153.62 314L153.68 299.6L154.22 299.6L154.26 308L154.59 303.5L155.04 322L155.88 300L157.15 309.5L158.59 322L160.26 311L160.53 303.2L161.3 314L161.35 299.6L161.89 299.6L161.94 308L162.27 303.5L162.72 322L163.55 300L164.82 309.5L166.26 322L167.94 311L168.2 303.2L168.97 314L169.02 299.6L169.56 299.6L169.61 308L169.94 303.5L170.39 322L171.22 300L172.49 309.5L173.93 322L175.61 311L175.87 303.2L176.64 314L176.69 299.6L177.23 299.6L177.28 308L177.61 303.5L178.06 322L178.89 300L180.16 309.5L181.6 322L183.28 311L183.54 303.2L184.31 314L184.37 299.6L184.91 299.6L184.95 308L185.28 303.5L185.73 322L186.56 300L187.84 309.5L189.28 322L190.95 311L191.22 303.2L191.99 314L192.04 299.6L192.58 299.6L192.63 308L192.96 303.5L193.41 322L194.24 300L195.51 309.5L196.95 322L198.63 311L198.89 303.2L199.66 314L199.71 299.6L200.25 299.6L200.3 308L200.63 303.5L201.08 322L201.91 300L203.18 309.5L204.62 322L206.3 311L206.56 303.2L207.33 314L207.38 299.6L207.92 299.6L207.97 308L208.3 303.5L208.75 322L209.58 300L210.85 309.5L212.29 322L213.97 311L214.24 303.2L215.01 314L215.06 299.6L215.6 299.6L215.65 308L215.98 303.5L216.43 322L217.26 300L218.53 309.5L219.97 322L221.65 311L221.91 303.2L222.68 314L222.73 299.6L223.27 299.6L223.32 308L223.65 303.5L224.1 322L224.93 300L226.2 309.5L227.64 322L229.32 311L229.58 303.2L230.35 314L230.4 299.6L230.94 299.6L230.99 308L231.32 303.5L231.77 322L232.6 300L233.87 309.5L235.31 322L236.99 311L237.25 303.2L238.02 314L238.07 299.6L238.61 299.6L238.66 308L238.99 303.5L239.44 322L240.27 300L241.54 309.5L242.98 322L244.66 311L244.93 303.2L245.7 314L245.75 299.6L246.29 299.6L246.34 308L246.67 303.5L247.12 322L247.95 300L249.22 309.5L250.66 322L252.34 311L252.6 303.2L253.37 314L253.42 299.6L253.96 299.6L254.01 308L254.34 303.5L254.79 322L255.62 300L256.89 309.5L258.33 322L260.01 311L260.27 303.2L261.04 314L261.09 299.6L261.63 299.6L261.68 308L262.01 303.5L262.46 322L263.29 300L264.56 309.5L266 322L267.68 311L267.94 303.2L268.71 314L268.76 299.6L269.3 299.6L269.35 308L269.68 303.5L270.13 322L270.96 300L272.23 309.5L273.67 322L275.35 311L275.62 303.2L276.38 314L276.44 299.6L276.98 299.6L277.03 308L277.36 303.5L277.81 322L278.63 300L279.91 309.5L281.35 322L283.03 311L283.29 303.2L284.06 314L284.11 299.6L284.65 299.6L284.7 308L285.03 303.5L285.48 322L286.31 300L287.58 309.5L289.02 322L290.7 311L290.96 303.2L291.73 314L291.78 299.6L292.32 299.6L292.37 308L292.7 303.5L293.15 322L293.98 300L295.25 309.5L296.69 322L298.37 311L298.63 303.2L299.4 314L299.45 299.6L299.99 299.6L300.04 308L300.37 303.5L300.82 322L301.65 300L302.92 309.5L304.36 322L306.04 311L306.31 303.2L307.07 314L307.12 299.6L307.67 299.6L307.72 308L308.05 303.5L308.5 322L309.32 300L310.6 309.5L312.04 322L313.72 311L313.98 303.2L314.75 314L314.8 299.6L315.34 299.6L315.39 308L315.72 303.5L316.17 322L317 300L318.27 309.5L319.71 322L321.39 311L321.65 303.2L322.42 314L322.47 299.6L323.01 299.6L323.06 308L323.39 303.5L323.84 322L324.67 300L325.94 309.5L327.38 322L329.06 311L329.32 303.2L330.09 314L330.14 299.6L330.68 299.6L330.73 308L331.06 303.5L331.51 322L332.34 300L333.61 309.5L335.05 322L336.73 311L337 303.2L337.76 314L337.81 299.6L338.36 299.6L338.41 308L338.74 303.5L339.19 322L340.01 300L341.29 309.5L342.73 322L344.41 311L344.67 303.2L345.44 314L345.49 299.6L346.03 299.6L346.08 308L346.41 303.5L346.86 322L347.69 300L348.96 309.5L350.4 322L352.08 311L352.34 303.2L353.11 314L353.16 299.6L353.7 299.6L353.75 308L354.08 303.5L354.53 322L355.36 300L356.63 309.5L358.07 322L359.75 311L360.01 303.2L360.78 314L360.83 299.6L361.37 299.6L361.42 308L361.75 303.5L362.2 322L363.03 300L364.3 309.5L365.74 322L367.42 311L367.69 303.2L368.45 314L368.5 299.6L369.05 299.6L369.1 308L369.43 303.5L369.88 322L370.7 300L371.98 309.5L373.42 322L375.1 311L375.36 303.2L376.13 314L376.18 299.6L376.72 299.6L376.77 308L377.1 303.5L377.55 322L378.38 300L379.65 309.5L381.09 322L382.77 311L383.03 303.2L383.8 314L383.85 299.6L384.39 299.6L384.44 308L384.77 303.5L385.22 322L386.05 300L387.32 309.5L388.76 322L390.44 311L390.7 303.2L391.47 314L391.52 299.6L392.06 299.6L392.11 308L392.44 303.5L392.89 322L393.72 300L394.99 309.5L396.43 322L398.11 311L398.38 303.2L399.14 314L399.19 299.6L399.74 299.6L399.79 308L400.12 303.5L400.56 322L401.39 300L402.67 309.5L404.11 322L405.79 311L406.05 303.2L406.82 314L406.87 299.6L407.41 299.6L407.46 308L407.79 303.5L408.24 322L409.07 300L410.34 309.5L411.78 322L413.46 311L413.72 303.2L414.49 314L414.54 299.6L415.08 299.6L415.13 308L415.46 303.5L415.91 322L416.74 300L418.01 309.5L419.45 322L421.13 311L421.39 303.2L422.16 314L422.21 299.6L422.75 299.6L422.8 308L423.13 303.5L423.58 322L424.41 300L425.68 309.5L427.12 322L428.8 311L429.06 303.2L429.83 314L429.88 299.6L430.43 299.6L430.48 308L430.81 303.5L431.25 322L432.08 300L433.36 309.5L434.8 322L436.48 311L436.74 303.2L437.51 314L437.56 299.6L438.1 299.6L438.15 308L438.48 303.5L438.93 322L439.76 300L441.03 309.5L442.47 322L444.15 311L444.41 303.2L445.18 314L445.23 299.6L445.77 299.6L445.82 308L446.15 303.5L446.6 322L447.43 300L448.7 309.5L450.14 322L451.82 311L452.08 303.2L452.85 314L452.9 299.6L453.44 299.6L453.49 308L453.82 303.5L454.27 322L455.1 300L456.37 309.5L457.81 322L459.49 311L459.75 303.2L460.52 314L460.57 299.6L461.12 299.6L461.17 308L461.5 303.5L461.94 322L462.77 300L464.05 309.5L465.49 322L467.17 311L467.43 303.2L468.2 314L468.25 299.6L468.79 299.6L468.84 308L469.17 303.5L469.62 322L470.45 300L471.72 309.5L473.16 322L474.84 311L475.1 303.2L475.87 314L475.92 299.6L476.46 299.6L476.51 308L476.84 303.5L477.29 322L478.12 300L479.39 309.5L480.83 322L482.51 311L482.77 303.2L483.54 314L483.59 299.6L484.13 299.6L484.18 308L484.51 303.5L484.96 322L485.79 300L487.06 309.5L488.5 322L490.18 311L490.44 303.2L491.21 314L491.26 299.6L491.81 299.6L491.86 308L492.19 303.5L492.63 322L493.46 300L494.74 309.5L496.18 322L497.86 311L498.12 303.2L498.89 314L498.94 299.6L499.48 299.6L499.53 308L499.86 303.5L500.31 322L501.14 300L502.41 309.5L503.85 322L505.53 311L505.79 303.2L506.56 314L506.61 299.6L507.15 299.6L507.2 308L507.53 303.5L507.98 322L508.81 300L510.08 309.5L511.52 322L513.2 311L513.46 303.2L514.23 314L514.28 299.6L514.82 299.6L514.87 308L515.2 303.5L515.65 322L516.48 300L517.75 309.5L519.19 322L520.87 311L521.13 303.2L521.9 314L521.96 299.6L522.5 299.6L522.54 308L522.88 303.5L523.33 322L524.15 300L525.42 309.5L526.87 322L528.54 311L528.81 303.2L529.58 314L529.63 299.6L530.17 299.6L530.22 308L530.55 303.5L531 322L531.83 300L533.1 309.5L534.54 322L536.22 311L536.48 303.2L537.25 314L537.3 299.6L537.84 299.6L537.89 308L538.22 303.5L538.67 322L539.5 300L540.77 309.5L542.21 322L543.89 311L544.15 303.2L544.92 314L544.97 299.6L545.51 299.6L545.56 308L545.89 303.5L546.34 322L547.17 300L548.44 309.5L549.88 322L551.56 311L551.83 303.2L552.6 314L552.65 299.6L553.19 299.6L553.24 308L553.57 303.5L554.02 322L554.85 300L556.12 309.5L557.56 322L559.24 311L559.5 303.2L560.27 314L560.32 299.6L560.86 299.6L560.91 308L561.24 303.5L561.69 322L562.52 300L563.79 309.5L565.23 322L566.91 311L567.17 303.2L567.94 314L567.99 299.6L568.53 299.6L568.58 308L568.91 303.5L569.36 322L570.19 300L571.46 309.5L572.9 322L574.58 311L574.84 303.2L575.61 314L575.66 299.6L576.2 299.6L576.25 308L576.58 303.5L577.03 322L577.86 300L579.13 309.5L580.57 322L582.25 311L582.51 303.2L583.28 314L583.34 299.6L583.88 299.6L583.92 308L584.25 303.5L584.71 322L585.53 300L586.8 309.5L588.25 322L589.92 311L590.19 303.2L590.96 314L591.01 299.6L591.55 299.6L591.6 308L591.93 303.5L592.38 322L593.21 300L594.48 309.5L595.92 322L597.6 311L597.86 303.2L598.63 314L598.68 299.6L599.22 299.6L599.27 308L599.6 303.5L600.05 322L600.88 300L602.15 309.5L603.59 322L605.27 311L605.53 303.2L606.3 314L606.35 299.6L606.89 299.6L606.94 308L607.27 303.5L607.72 322L608.55 300L609.82 309.5L611.26 322L612.94 311L613.2 303.2L613.97 314L614.02 299.6L614.56 299.6L614.61 308L614.94 303.5L615.39 322L616.22 300L617.49 309.5L618.93 322L620.61 311L620.88 303.2L621.65 314L621.7 299.6L622.24 299.6L622.29 308L622.62 303.5L623.07 322L623.9 300L625.17 309.5L626.61 322L628.29 311L628.55 303.2L629.32 314L629.37 299.6L629.91 299.6L629.96 308L630.29 303.5L630.74 322L631.57 300L632.84 309.5L634.28 322L635.96 311L636.22 303.2L636.99 314L637.04 299.6L637.58 299.6L637.63 308L637.96 303.5L638.41 322L639.24 300L640.51 309.5L641.95 322L643.63 311L643.89 303.2L644.66 314L644.72 299.6L645.25 299.6L645.3 308L645.63 303.5L646.09 322L646.91 300L648.18 309.5L649.62 322L651.3 311L651.57 303.2L652.34 314L652.39 299.6L652.93 299.6L652.98 308L653.31 303.5L653.76 322L654.59 300L655.86 309.5L657.3 322L658.98 311L659.24 303.2L660.01 314L660.06 299.6L660.6 299.6L660.65 308L660.98 303.5L661.43 322L662.26 300L663.53 309.5L664.97 322L666.65 311L666.91 303.2L667.68 314L667.73 299.6L668.27 299.6L668.32 308L668.65 303.5L669.1 322L669.93 300L671.2 309.5L672.64 322L674.32 311L674.59 303.2L675.36 314L675.41 299.6L675.95 299.6L676 308L676.33 303.5L676.78 322L677.61 300L678.88 309.5L680.32 322L682 311L682.26 303.2L683.03 314L683.08 299.6L683.62 299.6L683.67 308L684 303.5L684.45 322L685.28 300L686.55 309.5L687.99 322L689.67 311L689.93 303.2L690.7 314L690.75 299.6L691.29 299.6L691.34 308L691.67 303.5L692.12 322L692.95 300L694.22 309.5L695.66 322L697.34 311L697.6 303.2L698.37 314L698.42 299.6L698.96 299.6L699.01 308L699.34 303.5L699.79 322L700.62 300L701.89 309.5L703.33 322L705.01 311L705.27 303.2L706.04 314L706.1 299.6L706.63 299.6L706.68 308L707.01 303.5L707.47 322L708.29 300L709.56 309.5L711 322L712.68 311L712.95 303.2L713.72 314L713.77 299.6L714.31 299.6L714.36 308L714.69 303.5L715.14 322L715.97 300L717.24 309.5L718.68 322L720.36 311L720.62 303.2L721.39 314L721.44 299.6L721.98 299.6L722.03 308L722.36 303.5L722.81 322L723.64 300L724.91 309.5L726.35 322L728.03 311L728.29 303.2L729.06 314L729.11 299.6L729.65 299.6L729.7 308L730.03 303.5L730.48 322L731.31 300L732.58 309.5L734.02 322L735.7 311L735.97 303.2L736.74 314L736.79 299.6L737.33 299.6L737.38 308L737.71 303.5L738.16 322L738.99 300L740.25 309.5L741.7 322L743.38 311L743.64 303.2L744.41 314L744.46 299.6L745 299.6L745.05 308L745.38 303.5L745.83 322L746.66 300L747.93 309.5L749.37 322L751.05 311L751.31 303.2L752.08 314L752.13 299.6L752.67 299.6L752.72 308L753.05 303.5L753.5 322L754.33 300L755.6 309.5L757.04 322L758.72 311L758.98 303.2L759.75 314L759.8 299.6L760.34 299.6L760.39 308L760.72 303.5L761.17 322L762 300L763.27 309.5L764.71 322L766.39 311L766.65 303.2L767.42 314L767.48 299.6L768.01 299.6L768.06 308L768.39 303.5L768.85 322L769.67 300L770.94 309.5L772.38 322L774.06 311L774.33 303.2L775.1 314L775.15 299.6L775.69 299.6L775.74 308L776.07 303.5L776.52 322L777.35 300L778.62 309.5L780.06 322L781.74 311L782 303.2L782.77 314L782.82 299.6L783.36 299.6L783.41 308L783.74 303.5L784.19 322L785.02 300L786.29 309.5L787.73 322L789.41 311L789.67 303.2L790.44 314L790.49 299.6L791.03 299.6L791.08 308L791.41 303.5L791.86 322L792.69 300L793.96 309.5L795.4 322L797.08 311L797.35 303.2L798.12 314L798.17 299.6L798.71 299.6L798.75 308L799.09 303.5L799.54 322L800.37 300L801.63 309.5L803.08 322L804.75 311L805.02 303.2L805.79 314L805.84 299.6L806.38 299.6L806.43 308L806.76 303.5L807.21 322L808.04 300L809.31 309.5L810.75 322L812.43 311L812.69 303.2L813.46 314L813.51 299.6L814.05 299.6L814.1 308L814.43 303.5L814.88 322L815.71 300L816.98 309.5L818.42 322L820.1 311L820.36 303.2L821.13 314L821.18 299.6L821.72 299.6L821.77 308L822.1 303.5L822.55 322L823.38 300L824.65 309.5L826.09 322L827.77 311L828.03 303.2L828.8 314L828.86 299.6L829.39 299.6L829.44 308L829.77 303.5L830.23 322L831.05 300L832.32 309.5L833.76 322L835.44 311L835.71 303.2L836.48 314L836.53 299.6L837.07 299.6L837.12 308L837.45 303.5L837.9 322L838.73 300L840 309.5L841.44 322L843.12 311L843.38 303.2L844.15 314L844.2 299.6L844.74 299.6L844.79 308L845.12 303.5L845.57 322L846.4 300L847.67 309.5L849.11 322L850.79 311L851.05 303.2L851.82 314L851.87 299.6L852.41 299.6L852.46 308L852.79 303.5L853.24 322L854.07 300L855.34 309.5L856.78 322L858.46 311L858.73 303.2L859.5 314L859.55 299.6L860.09 299.6L860.13 308L860.47 303.5L860.92 322L861.75 300L863.01 309.5L864.46 322L866.13 311L866.4 303.2L867.17 314L867.22 299.6L867.76 299.6L867.81 308L868.14 303.5L868.59 322L869.42 300L870.69 309.5L872.13 322L873.81 311L874.07 303.2L874.84 314L874.89 299.6L875.43 299.6L875.48 308L875.81 303.5L876.26 322L877.09 300L878.36 309.5L879.8 322L881.48 311L881.74 303.2L882.51 314L882.56 299.6L883.1 299.6L883.15 308L883.48 303.5L883.93 322L884.76 300L886.03 309.5L887.47 322L889.15 311L889.42 303.2L890.19 314L890.24 299.6L890.78 299.6L890.83 308L891.16 303.5L891.61 322L892.44 300L893.71 309.5L895.15 322L896.83 311L897.09 303.2L897.86 314L897.91 299.6L898.45 299.6L898.5 308L898.83 303.5L899.28 322L900.11 300L901.38 309.5L902.82 322L904.5 311L904.76 303.2L905.53 314L905.58 299.6L906.12 299.6L906.17 308L906.5 303.5L906.95 322" stroke="#8EBA42"/>
<path d="M137.5 301.8L139.5 301.8L139.9 322L140.5 302L141.1 322L141.5 303L141.8 309L143.24 322.3L144.92 310.5L145.18 302.7L146.47 322.3L146.92 303L147.37 322.3L148.2 298.9L149.47 309L150.91 322.3L152.59 310.5L152.85 302.7L154.15 322.3L154.59 303L155.04 322.3L155.88 298.9L157.15 309L158.59 322.3L160.26 310.5L160.53 302.7L161.82 322.3L162.27 303L162.72 322.3L163.55 298.9L164.82 309L166.26 322.3L167.94 310.5L168.2 302.7L169.49 322.3L169.94 303L170.39 322.3L171.22 298.9L172.49 309L173.93 322.3L175.61 310.5L175.87 302.7L177.16 322.3L177.61 303L178.06 322.3L178.89 298.9L180.16 309L181.6 322.3L183.28 310.5L183.54 302.7L184.84 322.3L185.28 303L185.73 322.3L186.56 298.9L187.84 309L189.28 322.3L190.95 310.5L191.22 302.7L192.51 322.3L192.96 303L193.41 322.3L194.24 298.9L195.51 309L196.95 322.3L198.63 310.5L198.89 302.7L200.18 322.3L200.63 303L201.08 322.3L201.91 298.9L203.18 309L204.62 322.3L206.3 310.5L206.56 302.7L207.85 322.3L208.3 303L208.75 322.3L209.58 298.9L210.85 309L212.29 322.3L213.97 310.5L214.24 302.7L215.53 322.3L215.98 303L216.43 322.3L217.26 298.9L218.53 309L219.97 322.3L221.65 310.5L221.91 302.7L223.2 322.3L223.65 303L224.1 322.3L224.93 298.9L226.2 309L227.64 322.3L229.32 310.5L229.58 302.7L230.87 322.3L231.32 303L231.77 322.3L232.6 298.9L233.87 309L235.31 322.3L236.99 310.5L237.25 302.7L238.54 322.3L238.99 303L239.44 322.3L240.27 298.9L241.54 309L242.98 322.3L244.66 310.5L244.93 302.7L246.22 322.3L246.67 303L247.12 322.3L247.95 298.9L249.22 309L250.66 322.3L252.34 310.5L252.6 302.7L253.89 322.3L254.34 303L254.79 322.3L255.62 298.9L256.89 309L258.33 322.3L260.01 310.5L260.27 302.7L261.56 322.3L262.01 303L262.46 322.3L263.29 298.9L264.56 309L266 322.3L267.68 310.5L267.94 302.7L269.23 322.3L269.68 303L270.13 322.3L270.96 298.9L272.23 309L273.67 322.3L275.35 310.5L275.62 302.7L276.91 322.3L277.36 303L277.81 322.3L278.63 298.9L279.91 309L281.35 322.3L283.03 310.5L283.29 302.7L284.58 322.3L285.03 303L285.48 322.3L286.31 298.9L287.58 309L289.02 322.3L290.7 310.5L290.96 302.7L292.25 322.3L292.7 303L293.15 322.3L293.98 298.9L295.25 309L296.69 322.3L298.37 310.5L298.63 302.7L299.92 322.3L300.37 303L300.82 322.3L301.65 298.9L302.92 309L304.36 322.3L306.04 310.5L306.31 302.7L307.6 322.3L308.05 303L308.5 322.3L309.32 298.9L310.6 309L312.04 322.3L313.72 310.5L313.98 302.7L315.27 322.3L315.72 303L316.17 322.3L317 298.9L318.27 309L319.71 322.3L321.39 310.5L321.65 302.7L322.94 322.3L323.39 303L323.84 322.3L324.67 298.9L325.94 309L327.38 322.3L329.06 310.5L329.32 302.7L330.61 322.3L331.06 303L331.51 322.3L332.34 298.9L333.61 309L335.05 322.3L336.73 310.5L337 302.7L338.29 322.3L338.74 303L339.19 322.3L340.01 298.9L341.29 309L342.73 322.3L344.41 310.5L344.67 302.7L345.96 322.3L346.41 303L346.86 322.3L347.69 298.9L348.96 309L350.4 322.3L352.08 310.5L352.34 302.7L353.63 322.3L354.08 303L354.53 322.3L355.36 298.9L356.63 309L358.07 322.3L359.75 310.5L360.01 302.7L361.3 322.3L361.75 303L362.2 322.3L363.03 298.9L364.3 309L365.74 322.3L367.42 310.5L367.69 302.7L368.98 322.3L369.43 303L369.88 322.3L370.7 298.9L371.98 309L373.42 322.3L375.1 310.5L375.36 302.7L376.65 322.3L377.1 303L377.55 322.3L378.38 298.9L379.65 309L381.09 322.3L382.77 310.5L383.03 302.7L384.32 322.3L384.77 303L385.22 322.3L386.05 298.9L387.32 309L388.76 322.3L390.44 310.5L390.7 302.7L391.99 322.3L392.44 303L392.89 322.3L393.72 298.9L394.99 309L396.43 322.3L398.11 310.5L398.38 302.7L399.67 322.3L400.12 303L400.56 322.3L401.39 298.9L402.67 309L404.11 322.3L405.79 310.5L406.05 302.7L407.34 322.3L407.79 303L408.24 322.3L409.07 298.9L410.34 309L411.78 322.3L413.46 310.5L413.72 302.7L415.01 322.3L415.46 303L415.91 322.3L416.74 298.9L418.01 309L419.45 322.3L421.13 310.5L421.39 302.7L422.68 322.3L423.13 303L423.58 322.3L424.41 298.9L425.68 309L427.12 322.3L428.8 310.5L429.06 302.7L430.36 322.3L430.81 303L431.25 322.3L432.08 298.9L433.36 309L434.8 322.3L436.48 310.5L436.74 302.7L438.03 322.3L438.48 303L438.93 322.3L439.76 298.9L441.03 309L442.47 322.3L444.15 310.5L444.41 302.7L445.7 322.3L446.15 303L446.6 322.3L447.43 298.9L448.7 309L450.14 322.3L451.82 310.5L452.08 302.7L453.37 322.3L453.82 303L454.27 322.3L455.1 298.9L456.37 309L457.81 322.3L459.49 310.5L459.75 302.7L461.05 322.3L461.5 303L461.94 322.3L462.77 298.9L464.05 309L465.49 322.3L467.17 310.5L467.43 302.7L468.72 322.3L469.17 303L469.62 322.3L470.45 298.9L471.72 309L473.16 322.3L474.84 310.5L475.1 302.7L476.39 322.3L476.84 303L477.29 322.3L478.12 298.9L479.39 309L480.83 322.3L482.51 310.5L482.77 302.7L484.06 322.3L484.51 303L484.96 322.3L485.79 298.9L487.06 309L488.5 322.3L490.18 310.5L490.44 302.7L491.74 322.3L492.19 303L492.63 322.3L493.46 298.9L494.74 309L496.18 322.3L497.86 310.5L498.12 302.7L499.41 322.3L499.86 303L500.31 322.3L501.14 298.9L502.41 309L503.85 322.3L505.53 310.5L505.79 302.7L507.08 322.3L507.53 303L507.98 322.3L508.81 298.9L510.08 309L511.52 322.3L513.2 310.5L513.46 302.7L514.75 322.3L515.2 303L515.65 322.3L516.48 298.9L517.75 309L519.19 322.3L520.87 310.5L521.13 302.7L522.42 322.3L522.88 303L523.33 322.3L524.15 298.9L525.42 309L526.87 322.3L528.54 310.5L528.81 302.7L530.1 322.3L530.55 303L531 322.3L531.83 298.9L533.1 309L534.54 322.3L536.22 310.5L536.48 302.7L537.77 322.3L538.22 303L538.67 322.3L539.5 298.9L540.77 309L542.21 322.3L543.89 310.5L544.15 302.7L545.44 322.3L545.89 303L546.34 322.3L547.17 298.9L548.44 309L549.88 322.3L551.56 310.5L551.83 302.7L553.12 322.3L553.57 303L554.02 322.3L554.85 298.9L556.12 309L557.56 322.3L559.24 310.5L559.5 302.7L560.79 322.3L561.24 303L561.69 322.3L562.52 298.9L563.79 309L565.23 322.3L566.91 310.5L567.17 302.7L568.46 322.3L568.91 303L569.36 322.3L570.19 298.9L571.46 309L572.9 322.3L574.58 310.5L574.84 302.7L576.13 322.3L576.58 303L577.03 322.3L577.86 298.9L579.13 309L580.57 322.3L582.25 310.5L582.51 302.7L583.8 322.3L584.25 303L584.71 322.3L585.53 298.9L586.8 309L588.25 322.3L589.92 310.5L590.19 302.7L591.48 322.3L591.93 303L592.38 322.3L593.21 298.9L594.48 309L595.92 322.3L597.6 310.5L597.86 302.7L599.15 322.3L599.6 303L600.05 322.3L600.88 298.9L602.15 309L603.59 322.3L605.27 310.5L605.53 302.7L606.82 322.3L607.27 303L607.72 322.3L608.55 298.9L609.82 309L611.26 322.3L612.94 310.5L613.2 302.7L614.49 322.3L614.94 303L615.39 322.3L616.22 298.9L617.49 309L618.93 322.3L620.61 310.5L620.88 302.7L622.17 322.3L622.62 303L623.07 322.3L623.9 298.9L625.17 309L626.61 322.3L628.29 310.5L628.55 302.7L629.84 322.3L630.29 303L630.74 322.3L631.57 298.9L632.84 309L634.28 322.3L635.96 310.5L636.22 302.7L637.51 322.3L637.96 303L638.41 322.3L639.24 298.9L640.51 309L641.95 322.3L643.63 310.5L643.89 302.7L645.18 322.3L645.63 303L646.09 322.3L646.91 298.9L648.18 309L649.62 322.3L651.3 310.5L651.57 302.7L652.86 322.3L653.31 303L653.76 322.3L654.59 298.9L655.86 309L657.3 322.3L658.98 310.5L659.24 302.7L660.53 322.3L660.98 303L661.43 322.3L662.26 298.9L663.53 309L664.97 322.3L666.65 310.5L666.91 302.7L668.2 322.3L668.65 303L669.1 322.3L669.93 298.9L671.2 309L672.64 322.3L674.32 310.5L674.59 302.7L675.88 322.3L676.33 303L676.78 322.3L677.61 298.9L678.88 309L680.32 322.3L682 310.5L682.26 302.7L683.55 322.3L684 303L684.45 322.3L685.28 298.9L686.55 309L687.99 322.3L689.67 310.5L689.93 302.7L691.22 322.3L691.67 303L692.12 322.3L692.95 298.9L694.22 309L695.66 322.3L697.34 310.5L697.6 302.7L698.89 322.3L699.34 303L699.79 322.3L700.62 298.9L701.89 309L703.33 322.3L705.01 310.5L705.27 302.7L706.56 322.3L707.01 303L707.47 322.3L708.29 298.9L709.56 309L711 322.3L712.68 310.5L712.95 302.7L714.24 322.3L714.69 303L715.14 322.3L715.97 298.9L717.24 309L718.68 322.3L720.36 310.5L720.62 302.7L721.91 322.3L722.36 303L722.81 322.3L723.64 298.9L724.91 309L726.35 322.3L728.03 310.5L728.29 302.7L729.58 322.3L730.03 303L730.48 322.3L731.31 298.9L732.58 309L734.02 322.3L735.7 310.5L735.97 302.7L737.25 322.3L737.71 303L738.16 322.3L738.99 298.9L740.25 309L741.7 322.3L743.38 310.5L743.64 302.7L744.93 322.3L745.38 303L745.83 322.3L746.66 298.9L747.93 309L749.37 322.3L751.05 310.5L751.31 302.7L752.6 322.3L753.05 303L753.5 322.3L754.33 298.9L755.6 309L757.04 322.3L758.72 310.5L758.98 302.7L760.27 322.3L760.72 303L761.17 322.3L762 298.9L763.27 309L764.71 322.3L766.39 310.5L766.65 302.7L767.94 322.3L768.39 303L768.85 322.3L769.67 298.9L770.94 309L772.38 322.3L774.06 310.5L774.33 302.7L775.62 322.3L776.07 303L776.52 322.3L777.35 298.9L778.62 309L780.06 322.3L781.74 310.5L782 302.7L783.29 322.3L783.74 303L784.19 322.3L785.02 298.9L786.29 309L787.73 322.3L789.41 310.5L789.67 302.7L790.96 322.3L791.41 303L791.86 322.3L792.69 298.9L793.96 309L795.4 322.3L797.08 310.5L797.35 302.7L798.63 322.3L799.09 303L799.54 322.3L800.37 298.9L801.63 309L803.08 322.3L804.75 310.5L805.02 302.7L806.31 322.3L806.76 303L807.21 322.3L808.04 298.9L809.31 309L810.75 322.3L812.43 310.5L812.69 302.7L813.98 322.3L814.43 303L814.88 322.3L815.71 298.9L816.98 309L818.42 322.3L820.1 310.5L820.36 302.7L821.65 322.3L822.1 303L822.55 322.3L823.38 298.9L824.65 309L826.09 322.3L827.77 310.5L828.03 302.7L829.32 322.3L829.77 303L830.23 322.3L831.05 298.9L832.32 309L833.76 322.3L835.44 310.5L835.71 302.7L837 322.3L837.45 303L837.9 322.3L838.73 298.9L840 309L841.44 322.3L843.12 310.5L843.38 302.7L844.67 322.3L845.12 303L845.57 322.3L846.4 298.9L847.67 309L849.11 322.3L850.79 310.5L851.05 302.7L852.34 322.3L852.79 303L853.24 322.3L854.07 298.9L855.34 309L856.78 322.3L858.46 310.5L858.73 302.7L860.01 322.3L860.47 303L860.92 322.3L861.75 298.9L863.01 309L864.46 322.3L866.13 310.5L866.4 302.7L867.69 322.3L868.14 303L868.59 322.3L869.42 298.9L870.69 309L872.13 322.3L873.81 310.5L874.07 302.7L875.36 322.3L875.81 303L876.26 322.3L877.09 298.9L878.36 309L879.8 322.3L881.48 310.5L881.74 302.7L883.03 322.3L883.48 303L883.93 322.3L884.76 298.9L886.03 309L887.47 322.3L889.15 310.5L889.42 302.7L890.71 322.3L891.16 303L891.61 322.3L892.44 298.9L893.71 309L895.15 322.3L896.83 310.5L897.09 302.7L898.38 322.3L898.83 303L899.28 322.3L900.11 298.9L901.38 309L902.82 322.3L904.5 310.5L904.76 302.7L906.05 322.3L906.5 303L906.95 322.3" stroke="#FFB5B8"/>
<path d="M137.5 129.5L139.3 128.6L141.5 152.2L141.9 135L142.46 148.8L142.6 148.8L143.4 128.49L144.2 148.8L145 128.49L145.67 148.8L146.97 128.49L148.27 148.8L149.47 128.49L150.27 148.8L151.07 128.49L151.87 148.8L152.67 128.49L153.34 148.8L154.65 128.49L155.94 148.8L157.15 128.49L157.94 148.8L158.75 128.49L159.54 148.8L160.34 128.49L161.02 148.8L162.32 128.49L163.62 148.8L164.82 128.49L165.62 148.8L166.42 128.49L167.22 148.8L168.02 128.49L168.69 148.8L169.99 128.49L171.29 148.8L172.49 128.49L173.29 148.8L174.09 128.49L174.89 148.8L175.69 128.49L176.36 148.8L177.66 128.49L178.96 148.8L180.16 128.49L180.96 148.8L181.76 128.49L182.56 148.8L183.36 128.49L184.03 148.8L185.34 128.49L186.63 148.8L187.84 128.49L188.63 148.8L189.44 128.49L190.23 148.8L191.03 128.49L191.71 148.8L193.01 128.49L194.31 148.8L195.51 128.49L196.31 148.8L197.11 128.49L197.91 148.8L198.71 128.49L199.38 148.8L200.68 128.49L201.98 148.8L203.18 128.49L203.98 148.8L204.78 128.49L205.58 148.8L206.38 128.49L207.05 148.8L208.35 128.49L209.65 148.8L210.85 128.49L211.65 148.8L212.45 128.49L213.25 148.8L214.05 128.49L214.72 148.8L216.03 128.49L217.33 148.8L218.53 128.49L219.33 148.8L220.13 128.49L220.93 148.8L221.73 128.49L222.4 148.8L223.7 128.49L225 148.8L226.2 128.49L227 148.8L227.8 128.49L228.6 148.8L229.4 128.49L230.07 148.8L231.37 128.49L232.67 148.8L233.87 128.49L234.67 148.8L235.47 128.49L236.27 148.8L237.07 128.49L237.74 148.8L239.04 128.49L240.34 148.8L241.54 128.49L242.34 148.8L243.14 128.49L243.94 148.8L244.74 128.49L245.41 148.8L246.72 128.49L248.02 148.8L249.22 128.49L250.02 148.8L250.82 128.49L251.62 148.8L252.42 128.49L253.09 148.8L254.39 128.49L255.69 148.8L256.89 128.49L257.69 148.8L258.49 128.49L259.29 148.8L260.09 128.49L260.76 148.8L262.06 128.49L263.36 148.8L264.56 128.49L265.36 148.8L266.16 128.49L266.96 148.8L267.76 128.49L268.43 148.8L269.73 128.49L271.03 148.8L272.23 128.49L273.03 148.8L273.83 128.49L274.63 148.8L275.43 128.49L276.1 148.8L277.41 128.49L278.71 148.8L279.91 128.49L280.71 148.8L281.5 128.49L282.31 148.8L283.11 128.49L283.78 148.8L285.08 128.49L286.38 148.8L287.58 128.49L288.38 148.8L289.18 128.49L289.98 148.8L290.78 128.49L291.45 148.8L292.75 128.49L294.05 148.8L295.25 128.49L296.05 148.8L296.85 128.49L297.65 148.8L298.45 128.49L299.12 148.8L300.42 128.49L301.72 148.8L302.92 128.49L303.72 148.8L304.52 128.49L305.32 148.8L306.12 128.49L306.79 148.8L308.1 128.49L309.4 148.8L310.6 128.49L311.4 148.8L312.19 128.49L313 148.8L313.8 128.49L314.46 148.8L315.77 128.49L317.07 148.8L318.27 128.49L319.07 148.8L319.87 128.49L320.67 148.8L321.47 128.49L322.14 148.8L323.44 128.49L324.74 148.8L325.94 128.49L326.74 148.8L327.54 128.49L328.34 148.8L329.14 128.49L329.81 148.8L331.11 128.49L332.41 148.8L333.61 128.49L334.41 148.8L335.21 128.49L336.01 148.8L336.81 128.49L337.48 148.8L338.79 128.49L340.09 148.8L341.29 128.49L342.09 148.8L342.88 128.49L343.69 148.8L344.49 128.49L345.16 148.8L346.46 128.49L347.76 148.8L348.96 128.49L349.76 148.8L350.56 128.49L351.36 148.8L352.16 128.49L352.83 148.8L354.13 128.49L355.43 148.8L356.63 128.49L357.43 148.8L358.23 128.49L359.03 148.8L359.83 128.49L360.5 148.8L361.8 128.49L363.1 148.8L364.3 128.49L365.1 148.8L365.9 128.49L366.7 148.8L367.5 128.49L368.17 148.8L369.48 128.49L370.78 148.8L371.98 128.49L372.78 148.8L373.57 128.49L374.38 148.8L375.18 128.49L375.84 148.8L377.15 128.49L378.45 148.8L379.65 128.49L380.45 148.8L381.25 128.49L382.05 148.8L382.85 128.49L383.52 148.8L384.82 128.49L386.12 148.8L387.32 128.49L388.12 148.8L388.92 128.49L389.72 148.8L390.52 128.49L391.19 148.8L392.49 128.49L393.79 148.8L394.99 128.49L395.79 148.8L396.59 128.49L397.39 148.8L398.19 128.49L398.86 148.8L400.17 128.49L401.47 148.8L402.67 128.49L403.47 148.8L404.26 128.49L405.06 148.8L405.87 128.49L406.54 148.8L407.84 128.49L409.14 148.8L410.34 128.49L411.14 148.8L411.94 128.49L412.74 148.8L413.54 128.49L414.21 148.8L415.51 128.49L416.81 148.8L418.01 128.49L418.81 148.8L419.61 128.49L420.41 148.8L421.21 128.49L421.88 148.8L423.18 128.49L424.48 148.8L425.68 128.49L426.48 148.8L427.28 128.49L428.08 148.8L428.88 128.49L429.55 148.8L430.86 128.49L432.16 148.8L433.36 128.49L434.16 148.8L434.95 128.49L435.75 148.8L436.56 128.49L437.23 148.8L438.53 128.49L439.83 148.8L441.03 128.49L441.83 148.8L442.63 128.49L443.43 148.8L444.23 128.49L444.9 148.8L446.2 128.49L447.5 148.8L448.7 128.49L449.5 148.8L450.3 128.49L451.1 148.8L451.9 128.49L452.57 148.8L453.87 128.49L455.17 148.8L456.37 128.49L457.17 148.8L457.97 128.49L458.77 148.8L459.57 128.49L460.24 148.8L461.55 128.49L462.85 148.8L464.05 128.49L464.85 148.8L465.64 128.49L466.44 148.8L467.25 128.49L467.92 148.8L469.22 128.49L470.52 148.8L471.72 128.49L472.52 148.8L473.32 128.49L474.12 148.8L474.92 128.49L475.59 148.8L476.89 128.49L478.19 148.8L479.39 128.49L480.19 148.8L480.99 128.49L481.79 148.8L482.59 128.49L483.26 148.8L484.56 128.49L485.86 148.8L487.06 128.49L487.86 148.8L488.66 128.49L489.46 148.8L490.26 128.49L490.93 148.8L492.24 128.49L493.54 148.8L494.74 128.49L495.54 148.8L496.33 128.49L497.13 148.8L497.94 128.49L498.61 148.8L499.91 128.49L501.21 148.8L502.41 128.49L503.21 148.8L504.01 128.49L504.81 148.8L505.61 128.49L506.28 148.8L507.58 128.49L508.88 148.8L510.08 128.49L510.88 148.8L511.68 128.49L512.48 148.8L513.28 128.49L513.95 148.8L515.25 128.49L516.55 148.8L517.75 128.49L518.55 148.8L519.35 128.49L520.15 148.8L520.95 128.49L521.62 148.8L522.92 128.49L524.23 148.8L525.42 128.49L526.23 148.8L527.02 128.49L527.83 148.8L528.62 128.49L529.29 148.8L530.6 128.49L531.9 148.8L533.1 128.49L533.9 148.8L534.7 128.49L535.5 148.8L536.3 128.49L536.97 148.8L538.27 128.49L539.57 148.8L540.77 128.49L541.57 148.8L542.37 128.49L543.17 148.8L543.97 128.49L544.64 148.8L545.94 128.49L547.24 148.8L548.44 128.49L549.24 148.8L550.04 128.49L550.84 148.8L551.64 128.49L552.31 148.8L553.62 128.49L554.92 148.8L556.12 128.49L556.92 148.8L557.72 128.49L558.52 148.8L559.32 128.49L559.98 148.8L561.29 128.49L562.59 148.8L563.79 128.49L564.59 148.8L565.39 128.49L566.19 148.8L566.99 128.49L567.66 148.8L568.96 128.49L570.26 148.8L571.46 128.49L572.26 148.8L573.06 128.49L573.86 148.8L574.66 128.49L575.33 148.8L576.63 128.49L577.93 148.8L579.13 128.49L579.93 148.8L580.73 128.49L581.53 148.8L582.33 128.49L583 148.8L584.3 128.49L585.61 148.8L586.8 128.49L587.61 148.8L588.4 128.49L589.21 148.8L590 128.49L590.67 148.8L591.98 128.49L593.28 148.8L594.48 128.49L595.28 148.8L596.08 128.49L596.88 148.8L597.68 128.49L598.35 148.8L599.65 128.49L600.95 148.8L602.15 128.49L602.95 148.8L603.75 128.49L604.55 148.8L605.35 128.49L606.02 148.8L607.32 128.49L608.62 148.8L609.82 128.49L610.62 148.8L611.42 128.49L612.22 148.8L613.02 128.49L613.69 148.8L614.99 128.49L616.29 148.8L617.49 128.49L618.29 148.8L619.09 128.49L619.89 148.8L620.69 128.49L621.37 148.8L622.67 128.49L623.97 148.8L625.17 128.49L625.97 148.8L626.77 128.49L627.57 148.8L628.37 128.49L629.04 148.8L630.34 128.49L631.64 148.8L632.84 128.49L633.64 148.8L634.44 128.49L635.24 148.8L636.04 128.49L636.71 148.8L638.01 128.49L639.31 148.8L640.51 128.49L641.31 148.8L642.11 128.49L642.91 148.8L643.71 128.49L644.38 148.8L645.68 128.49L646.99 148.8L648.18 128.49L648.99 148.8L649.78 128.49L650.59 148.8L651.38 128.49L652.05 148.8L653.36 128.49L654.66 148.8L655.86 128.49L656.66 148.8L657.46 128.49L658.26 148.8L659.06 128.49L659.73 148.8L661.03 128.49L662.33 148.8L663.53 128.49L664.33 148.8L665.13 128.49L665.93 148.8L666.73 128.49L667.4 148.8L668.7 128.49L670 148.8L671.2 128.49L672 148.8L672.8 128.49L673.6 148.8L674.4 128.49L675.07 148.8L676.38 128.49L677.68 148.8L678.88 128.49L679.68 148.8L680.48 128.49L681.28 148.8L682.08 128.49L682.75 148.8L684.05 128.49L685.35 148.8L686.55 128.49L687.35 148.8L688.15 128.49L688.95 148.8L689.75 128.49L690.42 148.8L691.72 128.49L693.02 148.8L694.22 128.49L695.02 148.8L695.82 128.49L696.62 148.8L697.42 128.49L698.09 148.8L699.39 128.49L700.69 148.8L701.89 128.49L702.69 148.8L703.49 128.49L704.29 148.8L705.09 128.49L705.76 148.8L707.06 128.49L708.37 148.8L709.56 128.49L710.37 148.8L711.16 128.49L711.97 148.8L712.76 128.49L713.43 148.8L714.74 128.49L716.04 148.8L717.24 128.49L718.04 148.8L718.84 128.49L719.64 148.8L720.44 128.49L721.11 148.8L722.41 128.49L723.71 148.8L724.91 128.49L725.71 148.8L726.51 128.49L727.31 148.8L728.11 128.49L728.78 148.8L730.08 128.49L731.38 148.8L732.58 128.49L733.38 148.8L734.18 128.49L734.98 148.8L735.78 128.49L736.45 148.8L737.75 128.49L739.06 148.8L740.25 128.49L741.06 148.8L741.86 128.49L742.66 148.8L743.46 128.49L744.12 148.8L745.43 128.49L746.73 148.8L747.93 128.49L748.73 148.8L749.53 128.49L750.33 148.8L751.13 128.49L751.8 148.8L753.1 128.49L754.4 148.8L755.6 128.49L756.4 148.8L757.2 128.49L758 148.8L758.8 128.49L759.47 148.8L760.77 128.49L762.07 148.8L763.27 128.49L764.07 148.8L764.87 128.49L765.67 148.8L766.47 128.49L767.14 148.8L768.44 128.49L769.75 148.8L770.94 128.49L771.75 148.8L772.54 128.49L773.35 148.8L774.14 128.49L774.81 148.8L776.12 128.49L777.42 148.8L778.62 128.49L779.42 148.8L780.22 128.49L781.02 148.8L781.82 128.49L782.49 148.8L783.79 128.49L785.09 148.8L786.29 128.49L787.09 148.8L787.89 128.49L788.69 148.8L789.49 128.49L790.16 148.8L791.46 128.49L792.76 148.8L793.96 128.49L794.76 148.8L795.56 128.49L796.36 148.8L797.16 128.49L797.83 148.8L799.13 128.49L800.44 148.8L801.63 128.49L802.44 148.8L803.24 128.49L804.04 148.8L804.84 128.49L805.5 148.8L806.81 128.49L808.11 148.8L809.31 128.49L810.11 148.8L810.91 128.49L811.71 148.8L812.51 128.49L813.18 148.8L814.48 128.49L815.78 148.8L816.98 128.49L817.78 148.8L818.58 128.49L819.38 148.8L820.18 128.49L820.85 148.8L822.15 128.49L823.45 148.8L824.65 128.49L825.45 148.8L826.25 128.49L827.05 148.8L827.85 128.49L828.52 148.8L829.82 128.49L831.12 148.8L832.32 128.49L833.12 148.8L833.92 128.49L834.73 148.8L835.52 128.49L836.19 148.8L837.5 128.49L838.8 148.8L840 128.49L840.8 148.8L841.6 128.49L842.4 148.8L843.2 128.49L843.87 148.8L845.17 128.49L846.47 148.8L847.67 128.49L848.47 148.8L849.27 128.49L850.07 148.8L850.87 128.49L851.54 148.8L852.84 128.49L854.14 148.8L855.34 128.49L856.14 148.8L856.94 128.49L857.74 148.8L858.54 128.49L859.21 148.8L860.51 128.49L861.82 148.8L863.01 128.49L863.82 148.8L864.62 128.49L865.42 148.8L866.22 128.49L866.88 148.8L868.19 128.49L869.49 148.8L870.69 128.49L871.49 148.8L872.29 128.49L873.09 148.8L873.89 128.49L874.56 148.8L875.86 128.49L877.16 148.8L878.36 128.49L879.16 148.8L879.96 128.49L880.76 148.8L881.56 128.49L882.23 148.8L883.53 128.49L884.83 148.8L886.03 128.49L886.83 148.8L887.63 128.49L888.43 148.8L889.23 128.49L889.9 148.8L891.21 128.49L892.51 148.8L893.71 128.49L894.51 148.8L895.31 128.49L896.11 148.8L896.91 128.49L897.57 148.8L898.88 128.49L900.18 148.8L901.38 128.49L902.18 148.8L902.98 128.49L903.78 148.8L904.58 128.49L905.25 148.8L906.55 128.49" stroke="#E24A33"/>
</g>
<g clip-path="url(#c2)" fill="none" stroke-width="1.39" stroke-linejoin="miter" stroke-linecap="square">
<path d="M137.5 475.65L139.42 475.65L139.42 487.2L143.25 487.2L143.25 475.65L147.09 475.65L147.09 487.2L150.93 487.2L150.93 475.65L154.76 475.65L154.76 487.2L158.6 487.2L158.6 475.65L162.44 475.65L162.44 487.2L166.27 487.2L166.27 475.65L170.11 475.65L170.11 487.2L173.94 487.2L173.94 475.65L177.78 475.65L177.78 487.2L181.62 487.2L181.62 475.65L185.45 475.65L185.45 487.2L189.29 487.2L189.29 475.65L193.13 475.65L193.13 487.2L196.96 487.2L196.96 475.65L200.8 475.65L200.8 487.2L204.63 487.2L204.63 475.65L208.47 475.65L208.47 487.2L212.31 487.2L212.31 475.65L214.23 475.65M214.23 475.65L216.14 475.65L216.14 487.2L219.98 487.2L219.98 475.65L223.82 475.65L223.82 487.2L227.65 487.2L227.65 475.65L231.49 475.65L231.49 487.2L235.32 487.2L235.32 475.65L239.16 475.65L239.16 487.2L243 487.2L243 475.65L246.83 475.65L246.83 487.2L250.67 487.2L250.67 475.65L254.51 475.65L254.51 487.2L258.34 487.2L258.34 475.65L262.18 475.65L262.18 487.2L266.01 487.2L266.01 475.65L269.85 475.65L269.85 487.2L273.69 487.2L273.69 475.65L277.52 475.65L277.52 487.2L281.36 487.2L281.36 475.65L285.2 475.65L285.2 487.2L289.03 487.2L289.03 475.65L290.95 475.65M290.95 475.65L292.87 475.65L292.87 487.2L296.7 487.2L296.7 475.65L300.54 475.65L300.54 487.2L304.38 487.2L304.38 475.65L308.21 475.65L308.21 487.2L312.05 487.2L312.05 475.65L315.89 475.65L315.89 487.2L319.72 487.2L319.72 475.65L323.56 475.65L323.56 487.2L327.39 487.2L327.39 475.65L331.23 475.65L331.23 487.2L335.07 487.2L335.07 475.65L338.9 475.65L338.9 487.2L342.74 487.2L342.74 475.65L346.58 475.65L346.58 487.2L350.41 487.2L350.41 475.65L354.25 475.65L354.25 487.2L358.08 487.2L358.08 475.65L361.92 475.65L361.92 487.2L365.76 487.2L365.76 475.65L367.68 475.65M367.68 475.65L369.59 475.65L369.59 487.2L373.43 487.2L373.43 475.65L377.27 475.65L377.27 487.2L381.1 487.2L381.1 475.65L384.94 475.65L384.94 487.2L388.77 487.2L388.77 475.65L392.61 475.65L392.61 487.2L396.45 487.2L396.45 475.65L400.28 475.65L400.28 487.2L404.12 487.2L404.12 475.65L407.96 475.65L407.96 487.2L411.79 487.2L411.79 475.65L415.63 475.65L415.63 487.2L419.46 487.2L419.46 475.65L423.3 475.65L423.3 487.2L427.14 487.2L427.14 475.65L430.97 475.65L430.97 487.2L434.81 487.2L434.81 475.65L438.65 475.65L438.65 487.2L442.48 487.2L442.48 475.65L444.4 475.65M444.4 475.65L446.32 475.65L446.32 487.2L450.15 487.2L450.15 475.65L453.99 475.65L453.99 487.2L457.83 487.2L457.83 475.65L461.66 475.65L461.66 487.2L465.5 487.2L465.5 475.65L469.34 475.65L469.34 487.2L473.17 487.2L473.17 475.65L477.01 475.65L477.01 487.2L480.84 487.2L480.84 475.65L484.68 475.65L484.68 487.2L488.52 487.2L488.52 475.65L492.35 475.65L492.35 487.2L496.19 487.2L496.19 475.65L500.03 475.65L500.03 487.2L503.86 487.2L503.86 475.65L507.7 475.65L507.7 487.2L511.53 487.2L511.53 475.65L515.37 475.65L515.37 487.2L519.21 487.2L519.21 475.65L521.12 475.65M521.12 475.65L523.04 475.65L523.04 487.2L526.88 487.2L526.88 475.65L530.72 475.65L530.72 487.2L534.55 487.2L534.55 475.65L538.39 475.65L538.39 487.2L542.22 487.2L542.22 475.65L546.06 475.65L546.06 487.2L549.9 487.2L549.9 475.65L553.73 475.65L553.73 487.2L557.57 487.2L557.57 475.65L561.41 475.65L561.41 487.2L565.24 487.2L565.24 475.65L569.08 475.65L569.08 487.2L572.91 487.2L572.91 475.65L576.75 475.65L576.75 487.2L580.59 487.2L580.59 475.65L584.42 475.65L584.42 487.2L588.26 487.2L588.26 475.65L592.1 475.65L592.1 487.2L595.93 487.2L595.93 475.65L597.85 475.65M597.85 475.65L599.77 475.65L599.77 487.2L603.6 487.2L603.6 475.65L607.44 475.65L607.44 487.2L611.28 487.2L611.28 475.65L615.11 475.65L615.11 487.2L618.95 487.2L618.95 475.65L622.79 475.65L622.79 487.2L626.62 487.2L626.62 475.65L630.46 475.65L630.46 487.2L634.29 487.2L634.29 475.65L638.13 475.65L638.13 487.2L641.97 487.2L641.97 475.65L645.8 475.65L645.8 487.2L649.64 487.2L649.64 475.65L653.48 475.65L653.48 487.2L657.31 487.2L657.31 475.65L661.15 475.65L661.15 487.2L664.98 487.2L664.98 475.65L668.82 475.65L668.82 487.2L672.66 487.2L672.66 475.65L674.58 475.65M674.58 475.65L676.49 475.65L676.49 487.2L680.33 487.2L680.33 475.65L684.17 475.65L684.17 487.2L688 487.2L688 475.65L691.84 475.65L691.84 487.2L695.67 487.2L695.67 475.65L699.51 475.65L699.51 487.2L703.35 487.2L703.35 475.65L707.18 475.65L707.18 487.2L711.02 487.2L711.02 475.65L714.86 475.65L714.86 487.2L718.69 487.2L718.69 475.65L722.53 475.65L722.53 487.2L726.36 487.2L726.36 475.65L730.2 475.65L730.2 487.2L734.04 487.2L734.04 475.65L737.87 475.65L737.87 487.2L741.71 487.2L741.71 475.65L745.55 475.65L745.55 487.2L749.38 487.2L749.38 475.65L751.3 475.65M751.3 475.65L753.22 475.65L753.22 487.2L757.05 487.2L757.05 475.65L760.89 475.65L760.89 487.2L764.73 487.2L764.73 475.65L768.56 475.65L768.56 487.2L772.4 487.2L772.4 475.65L776.24 475.65L776.24 487.2L780.07 487.2L780.07 475.65L783.91 475.65L783.91 487.2L787.74 487.2L787.74 475.65L791.58 475.65L791.58 487.2L795.42 487.2L795.42 475.65L799.25 475.65L799.25 487.2L803.09 487.2L803.09 475.65L806.93 475.65L806.93 487.2L810.76 487.2L810.76 475.65L814.6 475.65L814.6 487.2L818.43 487.2L818.43 475.65L822.27 475.65L822.27 487.2L826.11 487.2L826.11 475.65L828.03 475.65M828.02 475.65L829.94 475.65L829.94 487.2L833.78 487.2L833.78 475.65L837.62 475.65L837.62 487.2L841.45 487.2L841.45 475.65L845.29 475.65L845.29 487.2L849.12 487.2L849.12 475.65L852.96 475.65L852.96 487.2L856.8 487.2L856.8 475.65L860.63 475.65L860.63 487.2L864.47 487.2L864.47 475.65L868.31 475.65L868.31 487.2L872.14 487.2L872.14 475.65L875.98 475.65L875.98 487.2L879.81 487.2L879.81 475.65L883.65 475.65L883.65 487.2L887.49 487.2L887.49 475.65L891.32 475.65L891.32 487.2L895.16 487.2L895.16 475.65L899 475.65L899 487.2L902.83 487.2L902.83 475.65L904.75 475.65" stroke="#E24A33"/>
<path d="M137.5 488.45L141.34 488.45L141.34 500L145.17 500L145.17 488.45L145.17 488.45L149.01 488.45L149.01 500L152.85 500L152.85 488.45L152.84 488.45L156.68 488.45L156.68 500L160.52 500L160.52 488.45L160.52 488.45L164.35 488.45L164.35 500L168.19 500L168.19 488.45L168.19 488.45L172.03 488.45L172.03 500L175.86 500L175.86 488.45L175.86 488.45L179.7 488.45L179.7 500L183.54 500L183.54 488.45L183.53 488.45L187.37 488.45L187.37 500L191.21 500L191.21 488.45L191.21 488.45L195.04 488.45L195.04 500L198.88 500L198.88 488.45L198.88 488.45L202.72 488.45L202.72 500L206.55 500L206.55 488.45L206.55 488.45L210.39 488.45L210.39 500L214.23 500M214.23 488.45L218.06 488.45L218.06 500L221.9 500L221.9 488.45L221.9 488.45L225.73 488.45L225.73 500L229.57 500L229.57 488.45L229.57 488.45L233.41 488.45L233.41 500L237.24 500L237.24 488.45L237.24 488.45L241.08 488.45L241.08 500L244.92 500L244.92 488.45L244.92 488.45L248.75 488.45L248.75 500L252.59 500L252.59 488.45L252.59 488.45L256.42 488.45L256.42 500L260.26 500L260.26 488.45L260.26 488.45L264.1 488.45L264.1 500L267.93 500L267.93 488.45L267.93 488.45L271.77 488.45L271.77 500L275.61 500L275.61 488.45L275.61 488.45L279.44 488.45L279.44 500L283.28 500L283.28 488.45L283.28 488.45L287.11 488.45L287.11 500L290.95 500M290.95 488.45L294.79 488.45L294.79 500L298.62 500L298.62 488.45L298.62 488.45L302.46 488.45L302.46 500L306.3 500L306.3 488.45L306.3 488.45L310.13 488.45L310.13 500L313.97 500L313.97 488.45L313.97 488.45L317.8 488.45L317.8 500L321.64 500L321.64 488.45L321.64 488.45L325.48 488.45L325.48 500L329.31 500L329.31 488.45L329.31 488.45L333.15 488.45L333.15 500L336.99 500L336.99 488.45L336.99 488.45L340.82 488.45L340.82 500L344.66 500L344.66 488.45L344.66 488.45L348.49 488.45L348.49 500L352.33 500L352.33 488.45L352.33 488.45L356.17 488.45L356.17 500L360 500L360 488.45L360 488.45L363.84 488.45L363.84 500L367.68 500M367.68 488.45L371.51 488.45L371.51 500L375.35 500L375.35 488.45L375.35 488.45L379.18 488.45L379.18 500L383.02 500L383.02 488.45L383.02 488.45L386.86 488.45L386.86 500L390.69 500L390.69 488.45L390.69 488.45L394.53 488.45L394.53 500L398.37 500L398.37 488.45L398.37 488.45L402.2 488.45L402.2 500L406.04 500L406.04 488.45L406.04 488.45L409.87 488.45L409.87 500L413.71 500L413.71 488.45L413.71 488.45L417.55 488.45L417.55 500L421.38 500L421.38 488.45L421.38 488.45L425.22 488.45L425.22 500L429.06 500L429.06 488.45L429.06 488.45L432.89 488.45L432.89 500L436.73 500L436.73 488.45L436.73 488.45L440.56 488.45L440.56 500L444.4 500M444.4 488.45L448.24 488.45L448.24 500L452.07 500L452.07 488.45L452.07 488.45L455.91 488.45L455.91 500L459.75 500L459.75 488.45L459.75 488.45L463.58 488.45L463.58 500L467.42 500L467.42 488.45L467.42 488.45L471.25 488.45L471.25 500L475.09 500L475.09 488.45L475.09 488.45L478.93 488.45L478.93 500L482.76 500L482.76 488.45L482.76 488.45L486.6 488.45L486.6 500L490.44 500L490.44 488.45L490.44 488.45L494.27 488.45L494.27 500L498.11 500L498.11 488.45L498.11 488.45L501.94 488.45L501.94 500L505.78 500L505.78 488.45L505.78 488.45L509.62 488.45L509.62 500L513.45 500L513.45 488.45L513.45 488.45L517.29 488.45L517.29 500L521.13 500M521.12 488.45L524.96 488.45L524.96 500L528.8 500L528.8 488.45L528.8 488.45L532.63 488.45L532.63 500L536.47 500L536.47 488.45L536.47 488.45L540.31 488.45L540.31 500L544.14 500L544.14 488.45L544.14 488.45L547.98 488.45L547.98 500L551.82 500L551.82 488.45L551.82 488.45L555.65 488.45L555.65 500L559.49 500L559.49 488.45L559.49 488.45L563.32 488.45L563.32 500L567.16 500L567.16 488.45L567.16 488.45L571 488.45L571 500L574.83 500L574.83 488.45L574.83 488.45L578.67 488.45L578.67 500L582.5 500L582.5 488.45L582.5 488.45L586.34 488.45L586.34 500L590.18 500L590.18 488.45L590.18 488.45L594.01 488.45L594.01 500L597.85 500M597.85 488.45L601.69 488.45L601.69 500L605.52 500L605.52 488.45L605.52 488.45L609.36 488.45L609.36 500L613.2 500L613.2 488.45L613.2 488.45L617.03 488.45L617.03 500L620.87 500L620.87 488.45L620.87 488.45L624.7 488.45L624.7 500L628.54 500L628.54 488.45L628.54 488.45L632.38 488.45L632.38 500L636.21 500L636.21 488.45L636.21 488.45L640.05 488.45L640.05 500L643.88 500L643.88 488.45L643.88 488.45L647.72 488.45L647.72 500L651.56 500L651.56 488.45L651.56 488.45L655.39 488.45L655.39 500L659.23 500L659.23 488.45L659.23 488.45L663.07 488.45L663.07 500L666.9 500L666.9 488.45L666.9 488.45L670.74 488.45L670.74 500L674.58 500M674.58 488.45L678.41 488.45L678.41 500L682.25 500L682.25 488.45L682.25 488.45L686.08 488.45L686.08 500L689.92 500L689.92 488.45L689.92 488.45L693.76 488.45L693.76 500L697.59 500L697.59 488.45L697.59 488.45L701.43 488.45L701.43 500L705.27 500L705.27 488.45L705.27 488.45L709.1 488.45L709.1 500L712.94 500L712.94 488.45L712.94 488.45L716.77 488.45L716.77 500L720.61 500L720.61 488.45L720.61 488.45L724.45 488.45L724.45 500L728.28 500L728.28 488.45L728.28 488.45L732.12 488.45L732.12 500L735.96 500L735.96 488.45L735.96 488.45L739.79 488.45L739.79 500L743.63 500L743.63 488.45L743.63 488.45L747.46 488.45L747.46 500L751.3 500M751.3 488.45L755.14 488.45L755.14 500L758.97 500L758.97 488.45L758.97 488.45L762.81 488.45L762.81 500L766.65 500L766.65 488.45L766.65 488.45L770.48 488.45L770.48 500L774.32 500L774.32 488.45L774.32 488.45L778.15 488.45L778.15 500L781.99 500L781.99 488.45L781.99 488.45L785.83 488.45L785.83 500L789.66 500L789.66 488.45L789.66 488.45L793.5 488.45L793.5 500L797.34 500L797.34 488.45L797.34 488.45L801.17 488.45L801.17 500L805.01 500L805.01 488.45L805.01 488.45L808.84 488.45L808.84 500L812.68 500L812.68 488.45L812.68 488.45L816.52 488.45L816.52 500L820.35 500L820.35 488.45L820.35 488.45L824.19 488.45L824.19 500L828.03 500M828.02 488.45L831.86 488.45L831.86 500L835.7 500L835.7 488.45L835.7 488.45L839.53 488.45L839.53 500L843.37 500L843.37 488.45L843.37 488.45L847.21 488.45L847.21 500L851.04 500L851.04 488.45L851.04 488.45L854.88 488.45L854.88 500L858.72 500L858.72 488.45L858.72 488.45L862.55 488.45L862.55 500L866.39 500L866.39 488.45L866.39 488.45L870.22 488.45L870.22 500L874.06 500L874.06 488.45L874.06 488.45L877.9 488.45L877.9 500L881.73 500L881.73 488.45L881.73 488.45L885.57 488.45L885.57 500L889.4 500L889.4 488.45L889.4 488.45L893.24 488.45L893.24 500L897.08 500L897.08 488.45L897.08 488.45L900.91 488.45L900.91 500L904.75 500" stroke="#348ABD"/>
<g stroke="#988ED5"><path d="M137.5 512.8L214.23 512.8"/><path d="M214.23 512.8L290.95 512.8"/><path d="M290.95 512.8L367.68 512.8"/><path d="M367.68 512.8L444.4 512.8"/><path d="M444.4 512.8L521.12 512.8"/><path d="M521.12 512.8L597.85 512.8"/><path d="M597.85 512.8L674.58 512.8"/><path d="M674.58 512.8L751.3 512.8"/><path d="M751.3 512.8L828.03 512.8"/><path d="M828.02 512.8L904.75 512.8"/></g>
<g stroke="#777777"><path d="M137.5 514.05L214.23 514.05"/><path d="M214.23 514.05L290.95 514.05"/><path d="M290.95 514.05L367.68 514.05"/><path d="M367.68 514.05L444.4 514.05"/><path d="M444.4 514.05L521.12 514.05"/><path d="M521.12 514.05L597.85 514.05"/><path d="M597.85 514.05L674.58 514.05"/><path d="M674.58 514.05L751.3 514.05"/><path d="M751.3 514.05L828.03 514.05"/><path d="M828.02 514.05L904.75 514.05"/></g>
<g stroke="#FBC15E"><path d="M137.5 526.85L214.23 526.85"/><path d="M214.23 526.85L290.95 526.85"/><path d="M290.95 526.85L367.68 526.85"/><path d="M367.68 526.85L444.4 526.85"/><path d="M444.4 526.85L521.12 526.85"/><path d="M521.12 526.85L597.85 526.85"/><path d="M597.85 526.85L674.58 526.85"/><path d="M674.58 526.85L751.3 526.85"/><path d="M751.3 526.85L828.03 526.85"/><path d="M828.02 526.85L904.75 526.85"/></g>
<g stroke="#8EBA42"><path d="M137.5 539.65L214.23 539.65"/><path d="M214.23 539.65L290.95 539.65"/><path d="M290.95 539.65L367.68 539.65"/><path d="M367.68 539.65L444.4 539.65"/><path d="M444.4 539.65L521.12 539.65"/><path d="M521.12 539.65L597.85 539.65"/><path d="M597.85 539.65L674.58 539.65"/><path d="M674.58 539.65L751.3 539.65"/><path d="M751.3 539.65L828.03 539.65"/><path d="M828.02 539.65L904.75 539.65"/></g>
<g stroke="#FFB5B8"><path d="M137.5 564L214.23 564"/><path d="M214.23 564L290.95 564"/><path d="M290.95 564L367.68 564"/><path d="M367.68 564L444.4 564"/><path d="M444.4 564L521.12 564"/><path d="M521.12 564L597.85 564"/><path d="M597.85 564L674.58 564"/><path d="M674.58 564L751.3 564"/><path d="M751.3 564L828.03 564"/><path d="M828.02 564L904.75 564"/></g>
<g stroke="#E24A33"><path d="M137.5 565.25L214.23 565.25"/><path d="M214.23 565.25L290.95 565.25"/><path d="M290.95 565.25L367.68 565.25"/><path d="M367.68 565.25L444.4 565.25"/><path d="M444.4 565.25L521.12 565.25"/><path d="M521.12 565.25L597.85 565.25"/><path d="M597.85 565.25L674.58 565.25"/><path d="M674.58 565.25L751.3 565.25"/><path d="M751.3 565.25L828.03 565.25"/><path d="M828.02 565.25L904.75 565.25"/></g>
<g stroke="#348ABD"><path d="M137.5 578.05L141.9 578.05L141.9 589.6L214.23 589.6"/><path d="M214.23 589.6L290.95 589.6"/><path d="M290.95 589.6L367.68 589.6"/><path d="M367.68 589.6L444.4 589.6"/><path d="M444.4 589.6L521.12 589.6"/><path d="M521.12 589.6L597.85 589.6"/><path d="M597.85 589.6L674.58 589.6"/><path d="M674.58 589.6L751.3 589.6"/><path d="M751.3 589.6L828.03 589.6"/><path d="M828.02 589.6L904.75 589.6"/></g>
<g stroke="#988ED5"><path d="M137.5 590.85L214.23 590.85"/><path d="M214.23 590.85L290.95 590.85"/><path d="M290.95 590.85L367.68 590.85"/><path d="M367.68 590.85L444.4 590.85"/><path d="M444.4 590.85L521.12 590.85"/><path d="M521.12 590.85L597.85 590.85"/><path d="M597.85 590.85L674.58 590.85"/><path d="M674.58 590.85L751.3 590.85"/><path d="M751.3 590.85L828.03 590.85"/><path d="M828.02 590.85L904.75 590.85"/></g>
<g stroke="#777777"><path d="M137.5 615.2L214.23 615.2"/><path d="M214.23 615.2L290.95 615.2"/><path d="M290.95 615.2L367.68 615.2"/><path d="M367.68 615.2L444.4 615.2"/><path d="M444.4 615.2L521.12 615.2"/><path d="M521.12 615.2L597.85 615.2"/><path d="M597.85 615.2L674.58 615.2"/><path d="M674.58 615.2L751.3 615.2"/><path d="M751.3 615.2L828.03 615.2"/><path d="M828.02 615.2L904.75 615.2"/></g>
<g stroke="#FBC15E"><path d="M137.5 616.45L214.23 616.45"/><path d="M214.23 616.45L290.95 616.45"/><path d="M290.95 616.45L367.68 616.45"/><path d="M367.68 616.45L444.4 616.45"/><path d="M444.4 616.45L521.12 616.45"/><path d="M521.12 616.45L597.85 616.45"/><path d="M597.85 616.45L674.58 616.45"/><path d="M674.58 616.45L751.3 616.45"/><path d="M751.3 616.45L828.03 616.45"/><path d="M828.02 616.45L904.75 616.45"/></g>
<g stroke="#8EBA42"><path d="M137.5 640.8L214.23 640.8"/><path d="M214.23 640.8L290.95 640.8"/><path d="M290.95 640.8L367.68 640.8"/><path d="M367.68 640.8L444.4 640.8"/><path d="M444.4 640.8L521.12 640.8"/><path d="M521.12 640.8L597.85 640.8"/><path d="M597.85 640.8L674.58 640.8"/><path d="M674.58 640.8L751.3 640.8"/><path d="M751.3 640.8L828.03 640.8"/><path d="M828.02 640.8L904.75 640.8"/></g>
<g stroke="#FFB5B8"><path d="M137.5 653.6L214.23 653.6"/><path d="M214.23 653.6L290.95 653.6"/><path d="M290.95 653.6L367.68 653.6"/><path d="M367.68 653.6L444.4 653.6"/><path d="M444.4 653.6L521.12 653.6"/><path d="M521.12 653.6L597.85 653.6"/><path d="M597.85 653.6L674.58 653.6"/><path d="M674.58 653.6L751.3 653.6"/><path d="M751.3 653.6L828.03 653.6"/><path d="M828.02 653.6L904.75 653.6"/></g>
<g stroke="#E24A33"><path d="M137.5 654.85L214.23 654.85"/><path d="M214.23 654.85L290.95 654.85"/><path d="M290.95 654.85L367.68 654.85"/><path d="M367.68 654.85L444.4 654.85"/><path d="M444.4 654.85L521.12 654.85"/><path d="M521.12 654.85L597.85 654.85"/><path d="M597.85 654.85L674.58 654.85"/><path d="M674.58 654.85L751.3 654.85"/><path d="M751.3 654.85L828.03 654.85"/><path d="M828.02 654.85L904.75 654.85"/></g>
</g>
<path d="M138.5 80.3v-5.8M138.5 371.9v5.8M138.5 429.2v-5.8M138.5 720.7v5.8M291.5 80.3v-5.8M291.5 371.9v5.8M291.5 429.2v-5.8M291.5 720.7v5.8M444.5 80.3v-5.8M444.5 371.9v5.8M444.5 429.2v-5.8M444.5 720.7v5.8M598.5 80.3v-5.8M598.5 371.9v5.8M598.5 429.2v-5.8M598.5 720.7v5.8M751.5 80.3v-5.8M751.5 371.9v5.8M751.5 429.2v-5.8M751.5 720.7v5.8M138 80.5h-5.8M906 80.5h5.8M138 128.5h-5.8M906 128.5h5.8M138 177.5h-5.8M906 177.5h5.8M138 225.5h-5.8M906 225.5h5.8M138 274.5h-5.8M906 274.5h5.8M138 322.5h-5.8M906 322.5h5.8M138 371.5h-5.8M906 371.5h5.8" stroke="#555555" stroke-width="0.7" fill="none"/>
<g font-family="'DejaVu Sans','Bitstream Vera Sans','Liberation Sans',sans-serif" font-size="13.89" fill="#555555">
<text x="125.6" y="84.1" text-anchor="end" letter-spacing="-0.45">1.5</text>
<text x="125.6" y="132.1" text-anchor="end" letter-spacing="-0.45">1.0</text>
<text x="125.6" y="181.1" text-anchor="end" letter-spacing="-0.45">0.5</text>
<text x="125.6" y="229.1" text-anchor="end" letter-spacing="-0.45">0.0</text>
<text x="125.6" y="278.1" text-anchor="end" letter-spacing="-0.2">−0.5</text>
<text x="125.6" y="326.1" text-anchor="end" letter-spacing="-0.2">−1.0</text>
<text x="125.6" y="375.1" text-anchor="end" letter-spacing="-0.2">−1.5</text>
<text x="138.6" y="742" text-anchor="middle" letter-spacing="-0.12">0.0000000</text>
<text x="291.6" y="742" text-anchor="middle" letter-spacing="-0.12">0.0000002</text>
<text x="444.6" y="742" text-anchor="middle" letter-spacing="-0.12">0.0000004</text>
<text x="598.6" y="742" text-anchor="middle" letter-spacing="-0.12">0.0000006</text>
<text x="751.6" y="742" text-anchor="middle" letter-spacing="-0.12">0.0000008</text>
<text x="905.6" y="742" text-anchor="middle" letter-spacing="-0.12">0.0000010</text>
</g>
<text transform="translate(521.33 765.6) scale(1 1.09)" text-anchor="middle" font-family="'DejaVu Sans','Bitstream Vera Sans','Liberation Sans',sans-serif" font-size="16.67" fill="#555555">t</text>
<text x="550" y="26.5" text-anchor="middle" font-family="'DejaVu Sans','Bitstream Vera Sans','Liberation Sans',sans-serif" font-size="13.89" fill="#000">/data/socrates/mx3/si3x3-sin-randomMag-sweep-B-70-90/si3x3-sin-randomMag.004.030.out/table.txt</text>
<rect x="914" y="88.8" width="165.3" height="399.8" fill="#E5E5E5"/>
<g font-family="'DejaVu Sans','Bitstream Vera Sans','Liberation Sans',sans-serif" font-size="16.67" fill="#000">
<path d="M925 103.5H949" stroke="#E24A33" stroke-width="1.39"/>
<text transform="translate(967 109.1) scale(1 1.07)" letter-spacing="-0.2">B_extx</text>
<path d="M925 130.5H949" stroke="#348ABD" stroke-width="1.39"/>
<text transform="translate(967 136.1) scale(1 1.07)" letter-spacing="-0.2">B_exty</text>
<path d="M925 156.5H949" stroke="#988ED5" stroke-width="1.39"/>
<text transform="translate(967 162.1) scale(1 1.07)" letter-spacing="-0.2">B_extz</text>
<path d="M925 182.5H949" stroke="#777777" stroke-width="1.39"/>
<text transform="translate(967 188.1) scale(1 1.07)" letter-spacing="-0.07">m.region1x</text>
<path d="M925 209.5H949" stroke="#FBC15E" stroke-width="1.39"/>
<text transform="translate(967 215.1) scale(1 1.07)" letter-spacing="-0.07">m.region2x</text>
<path d="M925 235.5H949" stroke="#8EBA42" stroke-width="1.39"/>
<text transform="translate(967 241.1) scale(1 1.07)" letter-spacing="-0.07">m.region3x</text>
<path d="M925 262.5H949" stroke="#FFB5B8" stroke-width="1.39"/>
<text transform="translate(967 267.1) scale(1 1.07)" letter-spacing="-0.07">m.region4x</text>
<path d="M925 288.5H949" stroke="#E24A33" stroke-width="1.39"/>
<text transform="translate(967 294.1) scale(1 1.07)" letter-spacing="-0.07">m.region5x</text>
<path d="M925 314.5H949" stroke="#348ABD" stroke-width="1.39"/>
<text transform="translate(967 320.1) scale(1 1.07)" letter-spacing="-0.07">m.region6x</text>
<path d="M925 341.5H949" stroke="#988ED5" stroke-width="1.39"/>
<text transform="translate(967 346.1) scale(1 1.07)" letter-spacing="-0.07">m.region7y</text>
<path d="M925 367.5H949" stroke="#777777" stroke-width="1.39"/>
<text transform="translate(967 373.1) scale(1 1.07)" letter-spacing="-0.07">m.region8y</text>
<path d="M925 394.5H949" stroke="#FBC15E" stroke-width="1.39"/>
<text transform="translate(967 399.1) scale(1 1.07)" letter-spacing="-0.07">m.region9y</text>
<path d="M925 420.5H949" stroke="#8EBA42" stroke-width="1.39"/>
<text transform="translate(967 426.1) scale(1 1.07)" letter-spacing="-0.07">m.region10y</text>
<path d="M925 446.5H949" stroke="#FFB5B8" stroke-width="1.39"/>
<text transform="translate(967 452.1) scale(1 1.07)" letter-spacing="-0.07">m.region11y</text>
<path d="M925 473.5H949" stroke="#E24A33" stroke-width="1.39"/>
<text transform="translate(967 478.1) scale(1 1.07)" letter-spacing="-0.07">m.region12y</text>
</g>
</svg>
</body></html>
